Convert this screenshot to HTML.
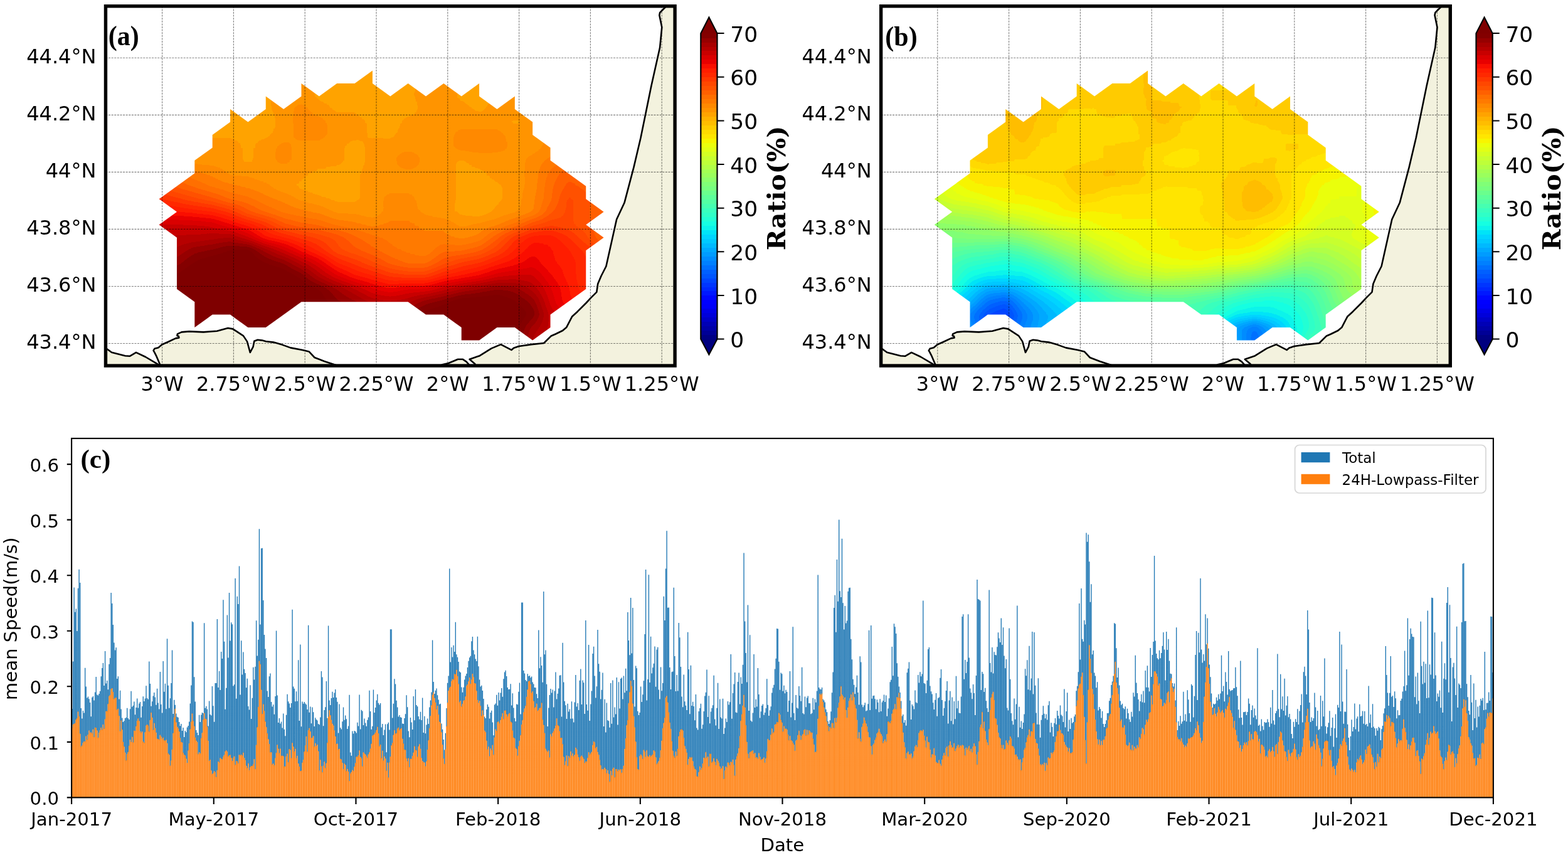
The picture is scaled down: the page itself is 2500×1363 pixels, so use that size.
<!DOCTYPE html><html><head><meta charset="utf-8"><title>Figure</title><style>html,body{margin:0;padding:0;background:#fff;width:2500px;height:1363px;overflow:hidden}svg{display:block}</style></head><body><svg xmlns="http://www.w3.org/2000/svg" width="2500" height="1363" viewBox="0 0 2500 1363"><defs><linearGradient id="vg" x1="0" y1="0" x2="0" y2="1"><stop offset="0" stop-color="#000" stop-opacity="0"/><stop offset="1" stop-color="#000" stop-opacity="1"/></linearGradient><mask id="vm" maskContentUnits="objectBoundingBox" style="mask-type:alpha"><rect width="1" height="1" fill="url(#vg)"/></mask></defs><defs><linearGradient id="ma0" gradientUnits="userSpaceOnUse" x1="225.24" x2="990.96" y1="0" y2="0"><stop offset="0" stop-color="#424242"/><stop offset="0.037" stop-color="#424242"/><stop offset="0.0741" stop-color="#414141"/><stop offset="0.1111" stop-color="#414141"/><stop offset="0.1481" stop-color="#404040"/><stop offset="0.1852" stop-color="#404040"/><stop offset="0.2222" stop-color="#404040"/><stop offset="0.2593" stop-color="#404040"/><stop offset="0.2963" stop-color="#404040"/><stop offset="0.3333" stop-color="#404040"/><stop offset="0.3704" stop-color="#3f3f3f"/><stop offset="0.4074" stop-color="#3e3e3e"/><stop offset="0.4444" stop-color="#3d3d3d"/><stop offset="0.4815" stop-color="#3c3c3c"/><stop offset="0.5185" stop-color="#3d3d3d"/><stop offset="0.5556" stop-color="#3e3e3e"/><stop offset="0.5926" stop-color="#404040"/><stop offset="0.6296" stop-color="#414141"/><stop offset="0.6667" stop-color="#414141"/><stop offset="0.7037" stop-color="#424242"/><stop offset="0.7407" stop-color="#434343"/><stop offset="0.7778" stop-color="#444444"/><stop offset="0.8148" stop-color="#454545"/><stop offset="0.8519" stop-color="#464646"/><stop offset="0.8889" stop-color="#484848"/><stop offset="0.9259" stop-color="#494949"/><stop offset="0.963" stop-color="#494949"/><stop offset="1" stop-color="#4a4a4a"/></linearGradient><linearGradient id="ma1" gradientUnits="userSpaceOnUse" x1="225.24" x2="990.96" y1="0" y2="0"><stop offset="0" stop-color="#424242"/><stop offset="0.037" stop-color="#424242"/><stop offset="0.0741" stop-color="#414141"/><stop offset="0.1111" stop-color="#414141"/><stop offset="0.1481" stop-color="#404040"/><stop offset="0.1852" stop-color="#3f3f3f"/><stop offset="0.2222" stop-color="#3f3f3f"/><stop offset="0.2593" stop-color="#404040"/><stop offset="0.2963" stop-color="#414141"/><stop offset="0.3333" stop-color="#414141"/><stop offset="0.3704" stop-color="#3f3f3f"/><stop offset="0.4074" stop-color="#3e3e3e"/><stop offset="0.4444" stop-color="#3c3c3c"/><stop offset="0.4815" stop-color="#3a3a3a"/><stop offset="0.5185" stop-color="#3d3d3d"/><stop offset="0.5556" stop-color="#3e3e3e"/><stop offset="0.5926" stop-color="#404040"/><stop offset="0.6296" stop-color="#424242"/><stop offset="0.6667" stop-color="#414141"/><stop offset="0.7037" stop-color="#414141"/><stop offset="0.7407" stop-color="#424242"/><stop offset="0.7778" stop-color="#444444"/><stop offset="0.8148" stop-color="#454545"/><stop offset="0.8519" stop-color="#474747"/><stop offset="0.8889" stop-color="#484848"/><stop offset="0.9259" stop-color="#494949"/><stop offset="0.963" stop-color="#494949"/><stop offset="1" stop-color="#4a4a4a"/></linearGradient><linearGradient id="ma2" gradientUnits="userSpaceOnUse" x1="225.24" x2="990.96" y1="0" y2="0"><stop offset="0" stop-color="#434343"/><stop offset="0.037" stop-color="#424242"/><stop offset="0.0741" stop-color="#424242"/><stop offset="0.1111" stop-color="#414141"/><stop offset="0.1481" stop-color="#3f3f3f"/><stop offset="0.1852" stop-color="#3f3f3f"/><stop offset="0.2222" stop-color="#3f3f3f"/><stop offset="0.2593" stop-color="#404040"/><stop offset="0.2963" stop-color="#424242"/><stop offset="0.3333" stop-color="#444444"/><stop offset="0.3704" stop-color="#3e3e3e"/><stop offset="0.4074" stop-color="#3e3e3e"/><stop offset="0.4444" stop-color="#3e3e3e"/><stop offset="0.4815" stop-color="#383838"/><stop offset="0.5185" stop-color="#3e3e3e"/><stop offset="0.5556" stop-color="#3e3e3e"/><stop offset="0.5926" stop-color="#424242"/><stop offset="0.6296" stop-color="#444444"/><stop offset="0.6667" stop-color="#424242"/><stop offset="0.7037" stop-color="#3e3e3e"/><stop offset="0.7407" stop-color="#424242"/><stop offset="0.7778" stop-color="#444444"/><stop offset="0.8148" stop-color="#454545"/><stop offset="0.8519" stop-color="#474747"/><stop offset="0.8889" stop-color="#484848"/><stop offset="0.9259" stop-color="#494949"/><stop offset="0.963" stop-color="#4a4a4a"/><stop offset="1" stop-color="#4b4b4b"/></linearGradient><linearGradient id="ma3" gradientUnits="userSpaceOnUse" x1="225.24" x2="990.96" y1="0" y2="0"><stop offset="0" stop-color="#444444"/><stop offset="0.037" stop-color="#434343"/><stop offset="0.0741" stop-color="#424242"/><stop offset="0.1111" stop-color="#414141"/><stop offset="0.1481" stop-color="#3f3f3f"/><stop offset="0.1852" stop-color="#3d3d3d"/><stop offset="0.2222" stop-color="#3d3d3d"/><stop offset="0.2593" stop-color="#3e3e3e"/><stop offset="0.2963" stop-color="#444444"/><stop offset="0.3333" stop-color="#444444"/><stop offset="0.3704" stop-color="#3e3e3e"/><stop offset="0.4074" stop-color="#3e3e3e"/><stop offset="0.4444" stop-color="#3e3e3e"/><stop offset="0.4815" stop-color="#383838"/><stop offset="0.5185" stop-color="#3e3e3e"/><stop offset="0.5556" stop-color="#3e3e3e"/><stop offset="0.5926" stop-color="#444444"/><stop offset="0.6296" stop-color="#444444"/><stop offset="0.6667" stop-color="#3e3e3e"/><stop offset="0.7037" stop-color="#383838"/><stop offset="0.7407" stop-color="#444444"/><stop offset="0.7778" stop-color="#444444"/><stop offset="0.8148" stop-color="#454545"/><stop offset="0.8519" stop-color="#474747"/><stop offset="0.8889" stop-color="#494949"/><stop offset="0.9259" stop-color="#4a4a4a"/><stop offset="0.963" stop-color="#4b4b4b"/><stop offset="1" stop-color="#4c4c4c"/></linearGradient><linearGradient id="ma4" gradientUnits="userSpaceOnUse" x1="225.24" x2="990.96" y1="0" y2="0"><stop offset="0" stop-color="#464646"/><stop offset="0.037" stop-color="#454545"/><stop offset="0.0741" stop-color="#434343"/><stop offset="0.1111" stop-color="#414141"/><stop offset="0.1481" stop-color="#3e3e3e"/><stop offset="0.1852" stop-color="#3a3a3a"/><stop offset="0.2222" stop-color="#3a3a3a"/><stop offset="0.2593" stop-color="#3e3e3e"/><stop offset="0.2963" stop-color="#444444"/><stop offset="0.3333" stop-color="#4b4b4b"/><stop offset="0.3704" stop-color="#444444"/><stop offset="0.4074" stop-color="#3e3e3e"/><stop offset="0.4444" stop-color="#3e3e3e"/><stop offset="0.4815" stop-color="#3a3a3a"/><stop offset="0.5185" stop-color="#3a3a3a"/><stop offset="0.5556" stop-color="#3a3a3a"/><stop offset="0.5926" stop-color="#444444"/><stop offset="0.6296" stop-color="#444444"/><stop offset="0.6667" stop-color="#444444"/><stop offset="0.7037" stop-color="#3e3e3e"/><stop offset="0.7407" stop-color="#444444"/><stop offset="0.7778" stop-color="#444444"/><stop offset="0.8148" stop-color="#454545"/><stop offset="0.8519" stop-color="#484848"/><stop offset="0.8889" stop-color="#4a4a4a"/><stop offset="0.9259" stop-color="#4c4c4c"/><stop offset="0.963" stop-color="#4d4d4d"/><stop offset="1" stop-color="#4d4d4d"/></linearGradient><linearGradient id="ma5" gradientUnits="userSpaceOnUse" x1="225.24" x2="990.96" y1="0" y2="0"><stop offset="0" stop-color="#484848"/><stop offset="0.037" stop-color="#474747"/><stop offset="0.0741" stop-color="#454545"/><stop offset="0.1111" stop-color="#424242"/><stop offset="0.1481" stop-color="#3e3e3e"/><stop offset="0.1852" stop-color="#3e3e3e"/><stop offset="0.2222" stop-color="#3a3a3a"/><stop offset="0.2593" stop-color="#3a3a3a"/><stop offset="0.2963" stop-color="#444444"/><stop offset="0.3333" stop-color="#4b4b4b"/><stop offset="0.3704" stop-color="#4b4b4b"/><stop offset="0.4074" stop-color="#444444"/><stop offset="0.4444" stop-color="#444444"/><stop offset="0.4815" stop-color="#3e3e3e"/><stop offset="0.5185" stop-color="#3a3a3a"/><stop offset="0.5556" stop-color="#444444"/><stop offset="0.5926" stop-color="#444444"/><stop offset="0.6296" stop-color="#444444"/><stop offset="0.6667" stop-color="#444444"/><stop offset="0.7037" stop-color="#444444"/><stop offset="0.7407" stop-color="#444444"/><stop offset="0.7778" stop-color="#3e3e3e"/><stop offset="0.8148" stop-color="#444444"/><stop offset="0.8519" stop-color="#484848"/><stop offset="0.8889" stop-color="#4b4b4b"/><stop offset="0.9259" stop-color="#4d4d4d"/><stop offset="0.963" stop-color="#4f4f4f"/><stop offset="1" stop-color="#4f4f4f"/></linearGradient><linearGradient id="ma6" gradientUnits="userSpaceOnUse" x1="225.24" x2="990.96" y1="0" y2="0"><stop offset="0" stop-color="#4c4c4c"/><stop offset="0.037" stop-color="#4a4a4a"/><stop offset="0.0741" stop-color="#474747"/><stop offset="0.1111" stop-color="#434343"/><stop offset="0.1481" stop-color="#3e3e3e"/><stop offset="0.1852" stop-color="#3e3e3e"/><stop offset="0.2222" stop-color="#3e3e3e"/><stop offset="0.2593" stop-color="#3e3e3e"/><stop offset="0.2963" stop-color="#444444"/><stop offset="0.3333" stop-color="#4b4b4b"/><stop offset="0.3704" stop-color="#4b4b4b"/><stop offset="0.4074" stop-color="#444444"/><stop offset="0.4444" stop-color="#444444"/><stop offset="0.4815" stop-color="#3e3e3e"/><stop offset="0.5185" stop-color="#3e3e3e"/><stop offset="0.5556" stop-color="#444444"/><stop offset="0.5926" stop-color="#444444"/><stop offset="0.6296" stop-color="#444444"/><stop offset="0.6667" stop-color="#4b4b4b"/><stop offset="0.7037" stop-color="#4b4b4b"/><stop offset="0.7407" stop-color="#4b4b4b"/><stop offset="0.7778" stop-color="#444444"/><stop offset="0.8148" stop-color="#444444"/><stop offset="0.8519" stop-color="#494949"/><stop offset="0.8889" stop-color="#4e4e4e"/><stop offset="0.9259" stop-color="#505050"/><stop offset="0.963" stop-color="#525252"/><stop offset="1" stop-color="#525252"/></linearGradient><linearGradient id="ma7" gradientUnits="userSpaceOnUse" x1="225.24" x2="990.96" y1="0" y2="0"><stop offset="0" stop-color="#515151"/><stop offset="0.037" stop-color="#4f4f4f"/><stop offset="0.0741" stop-color="#4b4b4b"/><stop offset="0.1111" stop-color="#464646"/><stop offset="0.1481" stop-color="#444444"/><stop offset="0.1852" stop-color="#444444"/><stop offset="0.2222" stop-color="#3e3e3e"/><stop offset="0.2593" stop-color="#444444"/><stop offset="0.2963" stop-color="#4b4b4b"/><stop offset="0.3333" stop-color="#444444"/><stop offset="0.3704" stop-color="#444444"/><stop offset="0.4074" stop-color="#444444"/><stop offset="0.4444" stop-color="#3a3a3a"/><stop offset="0.4815" stop-color="#444444"/><stop offset="0.5185" stop-color="#444444"/><stop offset="0.5556" stop-color="#444444"/><stop offset="0.5926" stop-color="#444444"/><stop offset="0.6296" stop-color="#444444"/><stop offset="0.6667" stop-color="#4b4b4b"/><stop offset="0.7037" stop-color="#4b4b4b"/><stop offset="0.7407" stop-color="#4e4e4e"/><stop offset="0.7778" stop-color="#444444"/><stop offset="0.8148" stop-color="#444444"/><stop offset="0.8519" stop-color="#4b4b4b"/><stop offset="0.8889" stop-color="#515151"/><stop offset="0.9259" stop-color="#545454"/><stop offset="0.963" stop-color="#555555"/><stop offset="1" stop-color="#565656"/></linearGradient><linearGradient id="ma8" gradientUnits="userSpaceOnUse" x1="225.24" x2="990.96" y1="0" y2="0"><stop offset="0" stop-color="#595959"/><stop offset="0.037" stop-color="#565656"/><stop offset="0.0741" stop-color="#505050"/><stop offset="0.1111" stop-color="#444444"/><stop offset="0.1481" stop-color="#444444"/><stop offset="0.1852" stop-color="#444444"/><stop offset="0.2222" stop-color="#3e3e3e"/><stop offset="0.2593" stop-color="#444444"/><stop offset="0.2963" stop-color="#4b4b4b"/><stop offset="0.3333" stop-color="#444444"/><stop offset="0.3704" stop-color="#444444"/><stop offset="0.4074" stop-color="#444444"/><stop offset="0.4444" stop-color="#3a3a3a"/><stop offset="0.4815" stop-color="#444444"/><stop offset="0.5185" stop-color="#444444"/><stop offset="0.5556" stop-color="#525252"/><stop offset="0.5926" stop-color="#444444"/><stop offset="0.6296" stop-color="#444444"/><stop offset="0.6667" stop-color="#3e3e3e"/><stop offset="0.7037" stop-color="#444444"/><stop offset="0.7407" stop-color="#3e3e3e"/><stop offset="0.7778" stop-color="#444444"/><stop offset="0.8148" stop-color="#4b4b4b"/><stop offset="0.8519" stop-color="#525252"/><stop offset="0.8889" stop-color="#595959"/><stop offset="0.9259" stop-color="#5a5a5a"/><stop offset="0.963" stop-color="#5a5a5a"/><stop offset="1" stop-color="#5a5a5a"/></linearGradient><linearGradient id="ma9" gradientUnits="userSpaceOnUse" x1="225.24" x2="990.96" y1="0" y2="0"><stop offset="0" stop-color="#646464"/><stop offset="0.037" stop-color="#606060"/><stop offset="0.0741" stop-color="#5a5a5a"/><stop offset="0.1111" stop-color="#525252"/><stop offset="0.1481" stop-color="#4e4e4e"/><stop offset="0.1852" stop-color="#464646"/><stop offset="0.2222" stop-color="#464646"/><stop offset="0.2593" stop-color="#424242"/><stop offset="0.2963" stop-color="#424242"/><stop offset="0.3333" stop-color="#424242"/><stop offset="0.3704" stop-color="#3e3e3e"/><stop offset="0.4074" stop-color="#3a3a3a"/><stop offset="0.4444" stop-color="#3e3e3e"/><stop offset="0.4815" stop-color="#444444"/><stop offset="0.5185" stop-color="#444444"/><stop offset="0.5556" stop-color="#444444"/><stop offset="0.5926" stop-color="#444444"/><stop offset="0.6296" stop-color="#444444"/><stop offset="0.6667" stop-color="#3e3e3e"/><stop offset="0.7037" stop-color="#3e3e3e"/><stop offset="0.7407" stop-color="#444444"/><stop offset="0.7778" stop-color="#444444"/><stop offset="0.8148" stop-color="#4b4b4b"/><stop offset="0.8519" stop-color="#5a5a5a"/><stop offset="0.8889" stop-color="#666666"/><stop offset="0.9259" stop-color="#616161"/><stop offset="0.963" stop-color="#5e5e5e"/><stop offset="1" stop-color="#5d5d5d"/></linearGradient><linearGradient id="ma10" gradientUnits="userSpaceOnUse" x1="225.24" x2="990.96" y1="0" y2="0"><stop offset="0" stop-color="#717171"/><stop offset="0.037" stop-color="#6e6e6e"/><stop offset="0.0741" stop-color="#666666"/><stop offset="0.1111" stop-color="#5e5e5e"/><stop offset="0.1481" stop-color="#565656"/><stop offset="0.1852" stop-color="#525252"/><stop offset="0.2222" stop-color="#4e4e4e"/><stop offset="0.2593" stop-color="#4a4a4a"/><stop offset="0.2963" stop-color="#424242"/><stop offset="0.3333" stop-color="#3e3e3e"/><stop offset="0.3704" stop-color="#3a3a3a"/><stop offset="0.4074" stop-color="#3a3a3a"/><stop offset="0.4444" stop-color="#3e3e3e"/><stop offset="0.4815" stop-color="#444444"/><stop offset="0.5185" stop-color="#444444"/><stop offset="0.5556" stop-color="#444444"/><stop offset="0.5926" stop-color="#444444"/><stop offset="0.6296" stop-color="#444444"/><stop offset="0.6667" stop-color="#3e3e3e"/><stop offset="0.7037" stop-color="#3a3a3a"/><stop offset="0.7407" stop-color="#3e3e3e"/><stop offset="0.7778" stop-color="#444444"/><stop offset="0.8148" stop-color="#4b4b4b"/><stop offset="0.8519" stop-color="#5e5e5e"/><stop offset="0.8889" stop-color="#6a6a6a"/><stop offset="0.9259" stop-color="#666666"/><stop offset="0.963" stop-color="#626262"/><stop offset="1" stop-color="#606060"/></linearGradient><linearGradient id="ma11" gradientUnits="userSpaceOnUse" x1="225.24" x2="990.96" y1="0" y2="0"><stop offset="0" stop-color="#828282"/><stop offset="0.037" stop-color="#818181"/><stop offset="0.0741" stop-color="#7a7a7a"/><stop offset="0.1111" stop-color="#727272"/><stop offset="0.1481" stop-color="#6a6a6a"/><stop offset="0.1852" stop-color="#5e5e5e"/><stop offset="0.2222" stop-color="#5a5a5a"/><stop offset="0.2593" stop-color="#525252"/><stop offset="0.2963" stop-color="#4e4e4e"/><stop offset="0.3333" stop-color="#464646"/><stop offset="0.3704" stop-color="#424242"/><stop offset="0.4074" stop-color="#3e3e3e"/><stop offset="0.4444" stop-color="#3e3e3e"/><stop offset="0.4815" stop-color="#444444"/><stop offset="0.5185" stop-color="#4b4b4b"/><stop offset="0.5556" stop-color="#4b4b4b"/><stop offset="0.5926" stop-color="#444444"/><stop offset="0.6296" stop-color="#444444"/><stop offset="0.6667" stop-color="#3e3e3e"/><stop offset="0.7037" stop-color="#3a3a3a"/><stop offset="0.7407" stop-color="#3e3e3e"/><stop offset="0.7778" stop-color="#444444"/><stop offset="0.8148" stop-color="#4e4e4e"/><stop offset="0.8519" stop-color="#5e5e5e"/><stop offset="0.8889" stop-color="#727272"/><stop offset="0.9259" stop-color="#6a6a6a"/><stop offset="0.963" stop-color="#626262"/><stop offset="1" stop-color="#616161"/></linearGradient><linearGradient id="ma12" gradientUnits="userSpaceOnUse" x1="225.24" x2="990.96" y1="0" y2="0"><stop offset="0" stop-color="#939393"/><stop offset="0.037" stop-color="#949494"/><stop offset="0.0741" stop-color="#919191"/><stop offset="0.1111" stop-color="#8d8d8d"/><stop offset="0.1481" stop-color="#898989"/><stop offset="0.1852" stop-color="#7e7e7e"/><stop offset="0.2222" stop-color="#6a6a6a"/><stop offset="0.2593" stop-color="#5e5e5e"/><stop offset="0.2963" stop-color="#565656"/><stop offset="0.3333" stop-color="#525252"/><stop offset="0.3704" stop-color="#4e4e4e"/><stop offset="0.4074" stop-color="#464646"/><stop offset="0.4444" stop-color="#464646"/><stop offset="0.4815" stop-color="#424242"/><stop offset="0.5185" stop-color="#4b4b4b"/><stop offset="0.5556" stop-color="#4b4b4b"/><stop offset="0.5926" stop-color="#464646"/><stop offset="0.6296" stop-color="#424242"/><stop offset="0.6667" stop-color="#3e3e3e"/><stop offset="0.7037" stop-color="#3a3a3a"/><stop offset="0.7407" stop-color="#424242"/><stop offset="0.7778" stop-color="#464646"/><stop offset="0.8148" stop-color="#4e4e4e"/><stop offset="0.8519" stop-color="#666666"/><stop offset="0.8889" stop-color="#727272"/><stop offset="0.9259" stop-color="#6a6a6a"/><stop offset="0.963" stop-color="#5e5e5e"/><stop offset="1" stop-color="#606060"/></linearGradient><linearGradient id="ma13" gradientUnits="userSpaceOnUse" x1="225.24" x2="990.96" y1="0" y2="0"><stop offset="0" stop-color="#a4a4a4"/><stop offset="0.037" stop-color="#a9a9a9"/><stop offset="0.0741" stop-color="#a9a9a9"/><stop offset="0.1111" stop-color="#a9a9a9"/><stop offset="0.1481" stop-color="#a5a5a5"/><stop offset="0.1852" stop-color="#999999"/><stop offset="0.2222" stop-color="#8d8d8d"/><stop offset="0.2593" stop-color="#7e7e7e"/><stop offset="0.2963" stop-color="#6a6a6a"/><stop offset="0.3333" stop-color="#626262"/><stop offset="0.3704" stop-color="#5e5e5e"/><stop offset="0.4074" stop-color="#565656"/><stop offset="0.4444" stop-color="#525252"/><stop offset="0.4815" stop-color="#4e4e4e"/><stop offset="0.5185" stop-color="#525252"/><stop offset="0.5556" stop-color="#525252"/><stop offset="0.5926" stop-color="#4e4e4e"/><stop offset="0.6296" stop-color="#4e4e4e"/><stop offset="0.6667" stop-color="#464646"/><stop offset="0.7037" stop-color="#4a4a4a"/><stop offset="0.7407" stop-color="#4e4e4e"/><stop offset="0.7778" stop-color="#5a5a5a"/><stop offset="0.8148" stop-color="#6e6e6e"/><stop offset="0.8519" stop-color="#767676"/><stop offset="0.8889" stop-color="#727272"/><stop offset="0.9259" stop-color="#6a6a6a"/><stop offset="0.963" stop-color="#626262"/><stop offset="1" stop-color="#636363"/></linearGradient><linearGradient id="ma14" gradientUnits="userSpaceOnUse" x1="225.24" x2="990.96" y1="0" y2="0"><stop offset="0" stop-color="#b0b0b0"/><stop offset="0.037" stop-color="#b1b1b1"/><stop offset="0.0741" stop-color="#b1b1b1"/><stop offset="0.1111" stop-color="#b1b1b1"/><stop offset="0.1481" stop-color="#b5b5b5"/><stop offset="0.1852" stop-color="#b9b9b9"/><stop offset="0.2222" stop-color="#a9a9a9"/><stop offset="0.2593" stop-color="#919191"/><stop offset="0.2963" stop-color="#898989"/><stop offset="0.3333" stop-color="#7e7e7e"/><stop offset="0.3704" stop-color="#767676"/><stop offset="0.4074" stop-color="#6e6e6e"/><stop offset="0.4444" stop-color="#626262"/><stop offset="0.4815" stop-color="#5a5a5a"/><stop offset="0.5185" stop-color="#565656"/><stop offset="0.5556" stop-color="#525252"/><stop offset="0.5926" stop-color="#525252"/><stop offset="0.6296" stop-color="#525252"/><stop offset="0.6667" stop-color="#4e4e4e"/><stop offset="0.7037" stop-color="#525252"/><stop offset="0.7407" stop-color="#666666"/><stop offset="0.7778" stop-color="#7e7e7e"/><stop offset="0.8148" stop-color="#8d8d8d"/><stop offset="0.8519" stop-color="#8d8d8d"/><stop offset="0.8889" stop-color="#818181"/><stop offset="0.9259" stop-color="#727272"/><stop offset="0.963" stop-color="#5e5e5e"/><stop offset="1" stop-color="#656565"/></linearGradient><linearGradient id="ma15" gradientUnits="userSpaceOnUse" x1="225.24" x2="990.96" y1="0" y2="0"><stop offset="0" stop-color="#bababa"/><stop offset="0.037" stop-color="#bababa"/><stop offset="0.0741" stop-color="#b9b9b9"/><stop offset="0.1111" stop-color="#c5c5c5"/><stop offset="0.1481" stop-color="#c9c9c9"/><stop offset="0.1852" stop-color="#d1d1d1"/><stop offset="0.2222" stop-color="#d5d5d5"/><stop offset="0.2593" stop-color="#bdbdbd"/><stop offset="0.2963" stop-color="#a9a9a9"/><stop offset="0.3333" stop-color="#959595"/><stop offset="0.3704" stop-color="#858585"/><stop offset="0.4074" stop-color="#727272"/><stop offset="0.4444" stop-color="#6a6a6a"/><stop offset="0.4815" stop-color="#626262"/><stop offset="0.5185" stop-color="#5a5a5a"/><stop offset="0.5556" stop-color="#565656"/><stop offset="0.5926" stop-color="#525252"/><stop offset="0.6296" stop-color="#5e5e5e"/><stop offset="0.6667" stop-color="#5e5e5e"/><stop offset="0.7037" stop-color="#666666"/><stop offset="0.7407" stop-color="#767676"/><stop offset="0.7778" stop-color="#898989"/><stop offset="0.8148" stop-color="#959595"/><stop offset="0.8519" stop-color="#919191"/><stop offset="0.8889" stop-color="#898989"/><stop offset="0.9259" stop-color="#7e7e7e"/><stop offset="0.963" stop-color="#727272"/><stop offset="1" stop-color="#707070"/></linearGradient><linearGradient id="ma16" gradientUnits="userSpaceOnUse" x1="225.24" x2="990.96" y1="0" y2="0"><stop offset="0" stop-color="#c4c4c4"/><stop offset="0.037" stop-color="#c5c5c5"/><stop offset="0.0741" stop-color="#c5c5c5"/><stop offset="0.1111" stop-color="#d1d1d1"/><stop offset="0.1481" stop-color="#d9d9d9"/><stop offset="0.1852" stop-color="#d9d9d9"/><stop offset="0.2222" stop-color="#d9d9d9"/><stop offset="0.2593" stop-color="#d1d1d1"/><stop offset="0.2963" stop-color="#c9c9c9"/><stop offset="0.3333" stop-color="#b5b5b5"/><stop offset="0.3704" stop-color="#a1a1a1"/><stop offset="0.4074" stop-color="#898989"/><stop offset="0.4444" stop-color="#7e7e7e"/><stop offset="0.4815" stop-color="#727272"/><stop offset="0.5185" stop-color="#666666"/><stop offset="0.5556" stop-color="#5e5e5e"/><stop offset="0.5926" stop-color="#5e5e5e"/><stop offset="0.6296" stop-color="#6e6e6e"/><stop offset="0.6667" stop-color="#7a7a7a"/><stop offset="0.7037" stop-color="#818181"/><stop offset="0.7407" stop-color="#8d8d8d"/><stop offset="0.7778" stop-color="#959595"/><stop offset="0.8148" stop-color="#9d9d9d"/><stop offset="0.8519" stop-color="#919191"/><stop offset="0.8889" stop-color="#8d8d8d"/><stop offset="0.9259" stop-color="#818181"/><stop offset="0.963" stop-color="#7b7b7b"/><stop offset="1" stop-color="#797979"/></linearGradient><linearGradient id="ma17" gradientUnits="userSpaceOnUse" x1="225.24" x2="990.96" y1="0" y2="0"><stop offset="0" stop-color="#cdcdcd"/><stop offset="0.037" stop-color="#cfcfcf"/><stop offset="0.0741" stop-color="#d1d1d1"/><stop offset="0.1111" stop-color="#dddddd"/><stop offset="0.1481" stop-color="#dddddd"/><stop offset="0.1852" stop-color="#dddddd"/><stop offset="0.2222" stop-color="#dddddd"/><stop offset="0.2593" stop-color="#dddddd"/><stop offset="0.2963" stop-color="#d9d9d9"/><stop offset="0.3333" stop-color="#cdcdcd"/><stop offset="0.3704" stop-color="#b5b5b5"/><stop offset="0.4074" stop-color="#a1a1a1"/><stop offset="0.4444" stop-color="#919191"/><stop offset="0.4815" stop-color="#898989"/><stop offset="0.5185" stop-color="#7e7e7e"/><stop offset="0.5556" stop-color="#7a7a7a"/><stop offset="0.5926" stop-color="#7a7a7a"/><stop offset="0.6296" stop-color="#898989"/><stop offset="0.6667" stop-color="#919191"/><stop offset="0.7037" stop-color="#999999"/><stop offset="0.7407" stop-color="#a5a5a5"/><stop offset="0.7778" stop-color="#a9a9a9"/><stop offset="0.8148" stop-color="#a9a9a9"/><stop offset="0.8519" stop-color="#999999"/><stop offset="0.8889" stop-color="#8d8d8d"/><stop offset="0.9259" stop-color="#818181"/><stop offset="0.963" stop-color="#808080"/><stop offset="1" stop-color="#808080"/></linearGradient><linearGradient id="ma18" gradientUnits="userSpaceOnUse" x1="225.24" x2="990.96" y1="0" y2="0"><stop offset="0" stop-color="#d5d5d5"/><stop offset="0.037" stop-color="#d8d8d8"/><stop offset="0.0741" stop-color="#e1e1e1"/><stop offset="0.1111" stop-color="#e1e1e1"/><stop offset="0.1481" stop-color="#e1e1e1"/><stop offset="0.1852" stop-color="#e1e1e1"/><stop offset="0.2222" stop-color="#e1e1e1"/><stop offset="0.2593" stop-color="#e1e1e1"/><stop offset="0.2963" stop-color="#e1e1e1"/><stop offset="0.3333" stop-color="#d9d9d9"/><stop offset="0.3704" stop-color="#d1d1d1"/><stop offset="0.4074" stop-color="#c1c1c1"/><stop offset="0.4444" stop-color="#b1b1b1"/><stop offset="0.4815" stop-color="#a1a1a1"/><stop offset="0.5185" stop-color="#999999"/><stop offset="0.5556" stop-color="#a1a1a1"/><stop offset="0.5926" stop-color="#a1a1a1"/><stop offset="0.6296" stop-color="#adadad"/><stop offset="0.6667" stop-color="#b9b9b9"/><stop offset="0.7037" stop-color="#c1c1c1"/><stop offset="0.7407" stop-color="#c9c9c9"/><stop offset="0.7778" stop-color="#c5c5c5"/><stop offset="0.8148" stop-color="#b5b5b5"/><stop offset="0.8519" stop-color="#a1a1a1"/><stop offset="0.8889" stop-color="#919191"/><stop offset="0.9259" stop-color="#818181"/><stop offset="0.963" stop-color="#858585"/><stop offset="1" stop-color="#868686"/></linearGradient><linearGradient id="ma19" gradientUnits="userSpaceOnUse" x1="225.24" x2="990.96" y1="0" y2="0"><stop offset="0" stop-color="#dadada"/><stop offset="0.037" stop-color="#dcdcdc"/><stop offset="0.0741" stop-color="#dfdfdf"/><stop offset="0.1111" stop-color="#e1e1e1"/><stop offset="0.1481" stop-color="#e1e1e1"/><stop offset="0.1852" stop-color="#e1e1e1"/><stop offset="0.2222" stop-color="#e1e1e1"/><stop offset="0.2593" stop-color="#e1e1e1"/><stop offset="0.2963" stop-color="#e1e1e1"/><stop offset="0.3333" stop-color="#d9d9d9"/><stop offset="0.3704" stop-color="#d5d5d5"/><stop offset="0.4074" stop-color="#c9c9c9"/><stop offset="0.4444" stop-color="#c1c1c1"/><stop offset="0.4815" stop-color="#b5b5b5"/><stop offset="0.5185" stop-color="#b1b1b1"/><stop offset="0.5556" stop-color="#b5b5b5"/><stop offset="0.5926" stop-color="#c5c5c5"/><stop offset="0.6296" stop-color="#cdcdcd"/><stop offset="0.6667" stop-color="#d9d9d9"/><stop offset="0.7037" stop-color="#d9d9d9"/><stop offset="0.7407" stop-color="#d9d9d9"/><stop offset="0.7778" stop-color="#d1d1d1"/><stop offset="0.8148" stop-color="#c5c5c5"/><stop offset="0.8519" stop-color="#a5a5a5"/><stop offset="0.8889" stop-color="#919191"/><stop offset="0.9259" stop-color="#8e8e8e"/><stop offset="0.963" stop-color="#8d8d8d"/><stop offset="1" stop-color="#8d8d8d"/></linearGradient><linearGradient id="ma20" gradientUnits="userSpaceOnUse" x1="225.24" x2="990.96" y1="0" y2="0"><stop offset="0" stop-color="#dcdcdc"/><stop offset="0.037" stop-color="#dddddd"/><stop offset="0.0741" stop-color="#dfdfdf"/><stop offset="0.1111" stop-color="#e1e1e1"/><stop offset="0.1481" stop-color="#e1e1e1"/><stop offset="0.1852" stop-color="#e1e1e1"/><stop offset="0.2222" stop-color="#e1e1e1"/><stop offset="0.2593" stop-color="#e1e1e1"/><stop offset="0.2963" stop-color="#e1e1e1"/><stop offset="0.3333" stop-color="#e1e1e1"/><stop offset="0.3704" stop-color="#e1e1e1"/><stop offset="0.4074" stop-color="#d9d9d9"/><stop offset="0.4444" stop-color="#d1d1d1"/><stop offset="0.4815" stop-color="#c9c9c9"/><stop offset="0.5185" stop-color="#c9c9c9"/><stop offset="0.5556" stop-color="#cdcdcd"/><stop offset="0.5926" stop-color="#d5d5d5"/><stop offset="0.6296" stop-color="#d9d9d9"/><stop offset="0.6667" stop-color="#dddddd"/><stop offset="0.7037" stop-color="#e1e1e1"/><stop offset="0.7407" stop-color="#dddddd"/><stop offset="0.7778" stop-color="#d9d9d9"/><stop offset="0.8148" stop-color="#cdcdcd"/><stop offset="0.8519" stop-color="#adadad"/><stop offset="0.8889" stop-color="#9f9f9f"/><stop offset="0.9259" stop-color="#989898"/><stop offset="0.963" stop-color="#959595"/><stop offset="1" stop-color="#949494"/></linearGradient><linearGradient id="ma21" gradientUnits="userSpaceOnUse" x1="225.24" x2="990.96" y1="0" y2="0"><stop offset="0" stop-color="#dedede"/><stop offset="0.037" stop-color="#dedede"/><stop offset="0.0741" stop-color="#e0e0e0"/><stop offset="0.1111" stop-color="#e1e1e1"/><stop offset="0.1481" stop-color="#e1e1e1"/><stop offset="0.1852" stop-color="#e1e1e1"/><stop offset="0.2222" stop-color="#e1e1e1"/><stop offset="0.2593" stop-color="#e1e1e1"/><stop offset="0.2963" stop-color="#e1e1e1"/><stop offset="0.3333" stop-color="#e1e1e1"/><stop offset="0.3704" stop-color="#e1e1e1"/><stop offset="0.4074" stop-color="#d9d9d9"/><stop offset="0.4444" stop-color="#d1d1d1"/><stop offset="0.4815" stop-color="#cdcdcd"/><stop offset="0.5185" stop-color="#cdcdcd"/><stop offset="0.5556" stop-color="#d1d1d1"/><stop offset="0.5926" stop-color="#d9d9d9"/><stop offset="0.6296" stop-color="#dddddd"/><stop offset="0.6667" stop-color="#e1e1e1"/><stop offset="0.7037" stop-color="#e1e1e1"/><stop offset="0.7407" stop-color="#d9d9d9"/><stop offset="0.7778" stop-color="#d5d5d5"/><stop offset="0.8148" stop-color="#bdbdbd"/><stop offset="0.8519" stop-color="#adadad"/><stop offset="0.8889" stop-color="#a5a5a5"/><stop offset="0.9259" stop-color="#9f9f9f"/><stop offset="0.963" stop-color="#9b9b9b"/><stop offset="1" stop-color="#999999"/></linearGradient><linearGradient id="ma22" gradientUnits="userSpaceOnUse" x1="225.24" x2="990.96" y1="0" y2="0"><stop offset="0" stop-color="#dedede"/><stop offset="0.037" stop-color="#dfdfdf"/><stop offset="0.0741" stop-color="#e0e0e0"/><stop offset="0.1111" stop-color="#e0e0e0"/><stop offset="0.1481" stop-color="#e1e1e1"/><stop offset="0.1852" stop-color="#e1e1e1"/><stop offset="0.2222" stop-color="#e1e1e1"/><stop offset="0.2593" stop-color="#e1e1e1"/><stop offset="0.2963" stop-color="#e0e0e0"/><stop offset="0.3333" stop-color="#dfdfdf"/><stop offset="0.3704" stop-color="#dddddd"/><stop offset="0.4074" stop-color="#d9d9d9"/><stop offset="0.4444" stop-color="#d4d4d4"/><stop offset="0.4815" stop-color="#d2d2d2"/><stop offset="0.5185" stop-color="#d2d2d2"/><stop offset="0.5556" stop-color="#d4d4d4"/><stop offset="0.5926" stop-color="#d9d9d9"/><stop offset="0.6296" stop-color="#dddddd"/><stop offset="0.6667" stop-color="#e1e1e1"/><stop offset="0.7037" stop-color="#dddddd"/><stop offset="0.7407" stop-color="#d9d9d9"/><stop offset="0.7778" stop-color="#d5d5d5"/><stop offset="0.8148" stop-color="#b5b5b5"/><stop offset="0.8519" stop-color="#afafaf"/><stop offset="0.8889" stop-color="#a8a8a8"/><stop offset="0.9259" stop-color="#a2a2a2"/><stop offset="0.963" stop-color="#9f9f9f"/><stop offset="1" stop-color="#9d9d9d"/></linearGradient><linearGradient id="ma23" gradientUnits="userSpaceOnUse" x1="225.24" x2="990.96" y1="0" y2="0"><stop offset="0" stop-color="#dfdfdf"/><stop offset="0.037" stop-color="#dfdfdf"/><stop offset="0.0741" stop-color="#e0e0e0"/><stop offset="0.1111" stop-color="#e0e0e0"/><stop offset="0.1481" stop-color="#e1e1e1"/><stop offset="0.1852" stop-color="#e1e1e1"/><stop offset="0.2222" stop-color="#e1e1e1"/><stop offset="0.2593" stop-color="#e0e0e0"/><stop offset="0.2963" stop-color="#e0e0e0"/><stop offset="0.3333" stop-color="#dedede"/><stop offset="0.3704" stop-color="#dcdcdc"/><stop offset="0.4074" stop-color="#d9d9d9"/><stop offset="0.4444" stop-color="#d6d6d6"/><stop offset="0.4815" stop-color="#d4d4d4"/><stop offset="0.5185" stop-color="#d4d4d4"/><stop offset="0.5556" stop-color="#d5d5d5"/><stop offset="0.5926" stop-color="#d8d8d8"/><stop offset="0.6296" stop-color="#dbdbdb"/><stop offset="0.6667" stop-color="#dddddd"/><stop offset="0.7037" stop-color="#dbdbdb"/><stop offset="0.7407" stop-color="#d6d6d6"/><stop offset="0.7778" stop-color="#cdcdcd"/><stop offset="0.8148" stop-color="#bcbcbc"/><stop offset="0.8519" stop-color="#b2b2b2"/><stop offset="0.8889" stop-color="#aaaaaa"/><stop offset="0.9259" stop-color="#a4a4a4"/><stop offset="0.963" stop-color="#a1a1a1"/><stop offset="1" stop-color="#9f9f9f"/></linearGradient><filter id="maf" filterUnits="userSpaceOnUse" x="225.24" y="92.02" width="765.72" height="471.04" color-interpolation-filters="sRGB"><feGaussianBlur stdDeviation="4.5 4.5"/><feComponentTransfer><feFuncR type="discrete" tableValues="0.9203 0.9709 1 1 1 1 1 1 1 1 1 1 1 1 1 1 1 1 0.9813 0.91 0.8565 0.7852 0.7139 0.6604 0.5891 0.5178 0.5 0.5 0.5 0.5 0.5 0.5"/><feFuncG type="discrete" tableValues="1 0.9593 0.9012 0.8577 0.7996 0.7415 0.6979 0.6398 0.5817 0.5381 0.48 0.4365 0.3784 0.3203 0.2767 0.2186 0.1605 0.1169 0.0588 0.0007 0 0 0 0 0 0 0 0 0 0 0 0"/><feFuncB type="discrete" tableValues="0.0474 0 0 0 0 0 0 0 0 0 0 0 0 0 0 0 0 0 0 0 0 0 0 0 0 0 0 0 0 0 0 0"/><feFuncA type="discrete" tableValues="1"/></feComponentTransfer></filter><clipPath id="mac"><polygon points="253.6,317.3 310.32,276.34 310.32,255.86 338.68,235.38 338.68,214.9 367.04,194.42 367.04,173.94 395.4,194.42 423.76,173.94 423.76,153.46 452.12,173.94 480.48,153.46 480.48,132.98 508.84,153.46 537.2,132.98 565.56,132.98 593.92,112.5 593.92,132.98 622.28,153.46 650.64,132.98 679,153.46 707.36,132.98 735.72,153.46 764.08,132.98 764.08,153.46 792.44,173.94 820.8,153.46 820.8,173.94 849.16,194.42 849.16,214.9 877.52,235.38 877.52,255.86 934.24,296.82 934.24,317.3 962.6,337.78 934.24,358.26 962.6,378.74 934.24,399.22 934.24,460.66 877.52,501.62 877.52,522.1 849.16,542.58 820.8,522.1 792.44,522.1 764.08,542.58 735.72,542.58 735.72,522.1 707.36,501.62 679,501.62 650.64,481.14 480.48,481.14 423.76,522.1 395.4,522.1 367.04,501.62 338.68,501.62 310.32,522.1 310.32,481.14 281.96,460.66 281.96,378.74 253.6,358.26 281.96,337.78"/></clipPath></defs><g clip-path="url(#mac)"><g filter="url(#maf)"><rect x="225.24" y="91.62" width="765.72" height="21.28" fill="url(#ma0)"/><rect x="225.24" y="92.02" width="765.72" height="20.48" fill="url(#ma1)" mask="url(#vm)"/><rect x="225.24" y="112.1" width="765.72" height="21.28" fill="url(#ma1)"/><rect x="225.24" y="112.5" width="765.72" height="20.48" fill="url(#ma2)" mask="url(#vm)"/><rect x="225.24" y="132.58" width="765.72" height="21.28" fill="url(#ma2)"/><rect x="225.24" y="132.98" width="765.72" height="20.48" fill="url(#ma3)" mask="url(#vm)"/><rect x="225.24" y="153.06" width="765.72" height="21.28" fill="url(#ma3)"/><rect x="225.24" y="153.46" width="765.72" height="20.48" fill="url(#ma4)" mask="url(#vm)"/><rect x="225.24" y="173.54" width="765.72" height="21.28" fill="url(#ma4)"/><rect x="225.24" y="173.94" width="765.72" height="20.48" fill="url(#ma5)" mask="url(#vm)"/><rect x="225.24" y="194.02" width="765.72" height="21.28" fill="url(#ma5)"/><rect x="225.24" y="194.42" width="765.72" height="20.48" fill="url(#ma6)" mask="url(#vm)"/><rect x="225.24" y="214.5" width="765.72" height="21.28" fill="url(#ma6)"/><rect x="225.24" y="214.9" width="765.72" height="20.48" fill="url(#ma7)" mask="url(#vm)"/><rect x="225.24" y="234.98" width="765.72" height="21.28" fill="url(#ma7)"/><rect x="225.24" y="235.38" width="765.72" height="20.48" fill="url(#ma8)" mask="url(#vm)"/><rect x="225.24" y="255.46" width="765.72" height="21.28" fill="url(#ma8)"/><rect x="225.24" y="255.86" width="765.72" height="20.48" fill="url(#ma9)" mask="url(#vm)"/><rect x="225.24" y="275.94" width="765.72" height="21.28" fill="url(#ma9)"/><rect x="225.24" y="276.34" width="765.72" height="20.48" fill="url(#ma10)" mask="url(#vm)"/><rect x="225.24" y="296.42" width="765.72" height="21.28" fill="url(#ma10)"/><rect x="225.24" y="296.82" width="765.72" height="20.48" fill="url(#ma11)" mask="url(#vm)"/><rect x="225.24" y="316.9" width="765.72" height="21.28" fill="url(#ma11)"/><rect x="225.24" y="317.3" width="765.72" height="20.48" fill="url(#ma12)" mask="url(#vm)"/><rect x="225.24" y="337.38" width="765.72" height="21.28" fill="url(#ma12)"/><rect x="225.24" y="337.78" width="765.72" height="20.48" fill="url(#ma13)" mask="url(#vm)"/><rect x="225.24" y="357.86" width="765.72" height="21.28" fill="url(#ma13)"/><rect x="225.24" y="358.26" width="765.72" height="20.48" fill="url(#ma14)" mask="url(#vm)"/><rect x="225.24" y="378.34" width="765.72" height="21.28" fill="url(#ma14)"/><rect x="225.24" y="378.74" width="765.72" height="20.48" fill="url(#ma15)" mask="url(#vm)"/><rect x="225.24" y="398.82" width="765.72" height="21.28" fill="url(#ma15)"/><rect x="225.24" y="399.22" width="765.72" height="20.48" fill="url(#ma16)" mask="url(#vm)"/><rect x="225.24" y="419.3" width="765.72" height="21.28" fill="url(#ma16)"/><rect x="225.24" y="419.7" width="765.72" height="20.48" fill="url(#ma17)" mask="url(#vm)"/><rect x="225.24" y="439.78" width="765.72" height="21.28" fill="url(#ma17)"/><rect x="225.24" y="440.18" width="765.72" height="20.48" fill="url(#ma18)" mask="url(#vm)"/><rect x="225.24" y="460.26" width="765.72" height="21.28" fill="url(#ma18)"/><rect x="225.24" y="460.66" width="765.72" height="20.48" fill="url(#ma19)" mask="url(#vm)"/><rect x="225.24" y="480.74" width="765.72" height="21.28" fill="url(#ma19)"/><rect x="225.24" y="481.14" width="765.72" height="20.48" fill="url(#ma20)" mask="url(#vm)"/><rect x="225.24" y="501.22" width="765.72" height="21.28" fill="url(#ma20)"/><rect x="225.24" y="501.62" width="765.72" height="20.48" fill="url(#ma21)" mask="url(#vm)"/><rect x="225.24" y="521.7" width="765.72" height="21.28" fill="url(#ma21)"/><rect x="225.24" y="522.1" width="765.72" height="20.48" fill="url(#ma22)" mask="url(#vm)"/><rect x="225.24" y="542.18" width="765.72" height="21.28" fill="url(#ma22)"/><rect x="225.24" y="542.58" width="765.72" height="20.48" fill="url(#ma23)" mask="url(#vm)"/></g></g><path d="M168.5,554.6 170.8,556.4 178,561.8 199.6,567.2 206.8,567.8 217,561.8 232,569 251.2,580.4 253.6,583 168.5,583ZM255.8,583 254.8,580.4 248.8,566.6 246.4,561.8 244.6,558.8 246.4,555.8 252.4,554.2 258.4,549.2 268,545 280,539.4 285.4,538.4 284.8,536 282.4,535 283,532.4 289.6,529.4 301.6,528.4 324.4,529.4 346,527.8 363.4,523 371.2,524.4 388,535.4 394,544.4 398.8,561.8 403.6,552.8 405.4,543.8 410.8,541.8 418,542.6 424,544.2 436,545.6 450,549.6 463.2,554.4 482.4,558 492.6,560.4 501.6,570 517.2,576 534,581.4 538,583ZM702,583 706.2,580.9 715,579 730,572.8 738,572.8 743.6,576.6 747.4,580.9 749,583ZM758.8,583 757.4,580.3 748.6,572.8 764.8,567.2 783.6,555.4 798.5,549.1 815.4,557.9 819.1,554.7 827.2,552 847.2,549.1 867.1,547 878.4,535.8 885.8,532.5 897.1,527 903.3,521.7 912,504.8 920.8,496.7 934.5,483 942,474.9 951.3,465.6 953.2,452.5 958.5,440 966.4,424.5 983.1,349.7 995.5,323.3 1010.4,266.9 1021.5,219.8 1038.4,137.1 1052.1,75.8 1055.3,43.5 1051.3,24.2 1052.1,20.2 1057.7,14.5 1061,11.3 1063,9.8 1076.1,9.8 1076.1,583Z" fill="#f3f2de" stroke="none"/><path d="M168.5,554.6 170.8,556.4 178,561.8 199.6,567.2 206.8,567.8 217,561.8 232,569 251.2,580.4 253.6,583M255.8,583 254.8,580.4 248.8,566.6 246.4,561.8 244.6,558.8 246.4,555.8 252.4,554.2 258.4,549.2 268,545 280,539.4 285.4,538.4 284.8,536 282.4,535 283,532.4 289.6,529.4 301.6,528.4 324.4,529.4 346,527.8 363.4,523 371.2,524.4 388,535.4 394,544.4 398.8,561.8 403.6,552.8 405.4,543.8 410.8,541.8 418,542.6 424,544.2 436,545.6 450,549.6 463.2,554.4 482.4,558 492.6,560.4 501.6,570 517.2,576 534,581.4 538,583M702,583 706.2,580.9 715,579 730,572.8 738,572.8 743.6,576.6 747.4,580.9 749,583M758.8,583 757.4,580.3 748.6,572.8 764.8,567.2 783.6,555.4 798.5,549.1 815.4,557.9 819.1,554.7 827.2,552 847.2,549.1 867.1,547 878.4,535.8 885.8,532.5 897.1,527 903.3,521.7 912,504.8 920.8,496.7 934.5,483 942,474.9 951.3,465.6 953.2,452.5 958.5,440 966.4,424.5 983.1,349.7 995.5,323.3 1010.4,266.9 1021.5,219.8 1038.4,137.1 1052.1,75.8 1055.3,43.5 1051.3,24.2 1052.1,20.2 1057.7,14.5 1061,11.3 1063,9.8" fill="none" stroke="#000" stroke-width="2.6" stroke-linejoin="round" stroke-linecap="round"/><path d="M258.6 9.8V583M372.4 9.8V583M486.2 9.8V583M600 9.8V583M713.8 9.8V583M827.6 9.8V583M941.4 9.8V583M1055.2 9.8V583M168.45 92.3H1076.1M168.45 183.34H1076.1M168.45 274.38H1076.1M168.45 365.42H1076.1M168.45 456.46H1076.1M168.45 547.5H1076.1" stroke="#000" stroke-opacity="0.5" stroke-width="1.1" stroke-dasharray="3 1.6" fill="none"/><rect x="168.45" y="9.8" width="907.65" height="573.2" fill="none" stroke="#000" stroke-width="5.4"/><g font-family="DejaVu Sans, sans-serif" font-size="32"><text x="258.6" y="623" text-anchor="middle">3°W</text><text x="372.4" y="623" text-anchor="middle">2.75°W</text><text x="486.2" y="623" text-anchor="middle">2.5°W</text><text x="600" y="623" text-anchor="middle">2.25°W</text><text x="713.8" y="623" text-anchor="middle">2°W</text><text x="827.6" y="623" text-anchor="middle">1.75°W</text><text x="941.4" y="623" text-anchor="middle">1.5°W</text><text x="1055.2" y="623" text-anchor="middle">1.25°W</text><text x="153.4" y="100.7" text-anchor="end">44.4°N</text><text x="153.4" y="191.74" text-anchor="end">44.2°N</text><text x="153.4" y="282.78" text-anchor="end">44°N</text><text x="153.4" y="373.82" text-anchor="end">43.8°N</text><text x="153.4" y="464.86" text-anchor="end">43.6°N</text><text x="153.4" y="555.9" text-anchor="end">43.4°N</text></g><text transform="translate(172.8 72) scale(1 1.045)" font-family="Liberation Serif, serif" font-weight="bold" font-size="42">(a)</text><g font-family="DejaVu Sans, sans-serif" font-size="34.5"><rect x="1117.3" y="533.64" width="26.2" height="7.46" fill="#000084" shape-rendering="crispEdges"/><rect x="1117.3" y="526.67" width="26.2" height="7.46" fill="#000096" shape-rendering="crispEdges"/><rect x="1117.3" y="519.71" width="26.2" height="7.46" fill="#0000a8" shape-rendering="crispEdges"/><rect x="1117.3" y="512.74" width="26.2" height="7.46" fill="#0000b6" shape-rendering="crispEdges"/><rect x="1117.3" y="505.78" width="26.2" height="7.46" fill="#0000c8" shape-rendering="crispEdges"/><rect x="1117.3" y="498.82" width="26.2" height="7.46" fill="#0000da" shape-rendering="crispEdges"/><rect x="1117.3" y="491.85" width="26.2" height="7.46" fill="#0000e8" shape-rendering="crispEdges"/><rect x="1117.3" y="484.89" width="26.2" height="7.46" fill="#0000fa" shape-rendering="crispEdges"/><rect x="1117.3" y="477.92" width="26.2" height="7.46" fill="#0000ff" shape-rendering="crispEdges"/><rect x="1117.3" y="470.96" width="26.2" height="7.46" fill="#0008ff" shape-rendering="crispEdges"/><rect x="1117.3" y="464" width="26.2" height="7.46" fill="#0018ff" shape-rendering="crispEdges"/><rect x="1117.3" y="457.03" width="26.2" height="7.46" fill="#0028ff" shape-rendering="crispEdges"/><rect x="1117.3" y="450.07" width="26.2" height="7.46" fill="#0035ff" shape-rendering="crispEdges"/><rect x="1117.3" y="443.1" width="26.2" height="7.46" fill="#0045ff" shape-rendering="crispEdges"/><rect x="1117.3" y="436.14" width="26.2" height="7.46" fill="#0055ff" shape-rendering="crispEdges"/><rect x="1117.3" y="429.18" width="26.2" height="7.46" fill="#0060ff" shape-rendering="crispEdges"/><rect x="1117.3" y="422.21" width="26.2" height="7.46" fill="#0070ff" shape-rendering="crispEdges"/><rect x="1117.3" y="415.25" width="26.2" height="7.46" fill="#0080ff" shape-rendering="crispEdges"/><rect x="1117.3" y="408.28" width="26.2" height="7.46" fill="#008cff" shape-rendering="crispEdges"/><rect x="1117.3" y="401.32" width="26.2" height="7.46" fill="#009cff" shape-rendering="crispEdges"/><rect x="1117.3" y="394.36" width="26.2" height="7.46" fill="#00a9ff" shape-rendering="crispEdges"/><rect x="1117.3" y="387.39" width="26.2" height="7.46" fill="#00b9ff" shape-rendering="crispEdges"/><rect x="1117.3" y="380.43" width="26.2" height="7.46" fill="#00c9ff" shape-rendering="crispEdges"/><rect x="1117.3" y="373.46" width="26.2" height="7.46" fill="#00d4ff" shape-rendering="crispEdges"/><rect x="1117.3" y="366.5" width="26.2" height="7.46" fill="#00e4f8" shape-rendering="crispEdges"/><rect x="1117.3" y="359.54" width="26.2" height="7.46" fill="#0cf4eb" shape-rendering="crispEdges"/><rect x="1117.3" y="352.57" width="26.2" height="7.46" fill="#16ffe1" shape-rendering="crispEdges"/><rect x="1117.3" y="345.61" width="26.2" height="7.46" fill="#23ffd4" shape-rendering="crispEdges"/><rect x="1117.3" y="338.64" width="26.2" height="7.46" fill="#30ffc7" shape-rendering="crispEdges"/><rect x="1117.3" y="331.68" width="26.2" height="7.46" fill="#39ffbe" shape-rendering="crispEdges"/><rect x="1117.3" y="324.72" width="26.2" height="7.46" fill="#46ffb1" shape-rendering="crispEdges"/><rect x="1117.3" y="317.75" width="26.2" height="7.46" fill="#53ffa4" shape-rendering="crispEdges"/><rect x="1117.3" y="310.79" width="26.2" height="7.46" fill="#5dff9a" shape-rendering="crispEdges"/><rect x="1117.3" y="303.82" width="26.2" height="7.46" fill="#6aff8d" shape-rendering="crispEdges"/><rect x="1117.3" y="296.86" width="26.2" height="7.46" fill="#77ff80" shape-rendering="crispEdges"/><rect x="1117.3" y="289.9" width="26.2" height="7.46" fill="#80ff77" shape-rendering="crispEdges"/><rect x="1117.3" y="282.93" width="26.2" height="7.46" fill="#8dff6a" shape-rendering="crispEdges"/><rect x="1117.3" y="275.97" width="26.2" height="7.46" fill="#9aff5d" shape-rendering="crispEdges"/><rect x="1117.3" y="269" width="26.2" height="7.46" fill="#a4ff53" shape-rendering="crispEdges"/><rect x="1117.3" y="262.04" width="26.2" height="7.46" fill="#b1ff46" shape-rendering="crispEdges"/><rect x="1117.3" y="255.08" width="26.2" height="7.46" fill="#beff39" shape-rendering="crispEdges"/><rect x="1117.3" y="248.11" width="26.2" height="7.46" fill="#c7ff30" shape-rendering="crispEdges"/><rect x="1117.3" y="241.15" width="26.2" height="7.46" fill="#d4ff23" shape-rendering="crispEdges"/><rect x="1117.3" y="234.18" width="26.2" height="7.46" fill="#e1ff16" shape-rendering="crispEdges"/><rect x="1117.3" y="227.22" width="26.2" height="7.46" fill="#ebff0c" shape-rendering="crispEdges"/><rect x="1117.3" y="220.26" width="26.2" height="7.46" fill="#f8f500" shape-rendering="crispEdges"/><rect x="1117.3" y="213.29" width="26.2" height="7.46" fill="#ffe600" shape-rendering="crispEdges"/><rect x="1117.3" y="206.33" width="26.2" height="7.46" fill="#ffdb00" shape-rendering="crispEdges"/><rect x="1117.3" y="199.36" width="26.2" height="7.46" fill="#ffcc00" shape-rendering="crispEdges"/><rect x="1117.3" y="192.4" width="26.2" height="7.46" fill="#ffbd00" shape-rendering="crispEdges"/><rect x="1117.3" y="185.44" width="26.2" height="7.46" fill="#ffb200" shape-rendering="crispEdges"/><rect x="1117.3" y="178.47" width="26.2" height="7.46" fill="#ffa300" shape-rendering="crispEdges"/><rect x="1117.3" y="171.51" width="26.2" height="7.46" fill="#ff9400" shape-rendering="crispEdges"/><rect x="1117.3" y="164.54" width="26.2" height="7.46" fill="#ff8900" shape-rendering="crispEdges"/><rect x="1117.3" y="157.58" width="26.2" height="7.46" fill="#ff7a00" shape-rendering="crispEdges"/><rect x="1117.3" y="150.62" width="26.2" height="7.46" fill="#ff6f00" shape-rendering="crispEdges"/><rect x="1117.3" y="143.65" width="26.2" height="7.46" fill="#ff6000" shape-rendering="crispEdges"/><rect x="1117.3" y="136.69" width="26.2" height="7.46" fill="#ff5200" shape-rendering="crispEdges"/><rect x="1117.3" y="129.72" width="26.2" height="7.46" fill="#ff4700" shape-rendering="crispEdges"/><rect x="1117.3" y="122.76" width="26.2" height="7.46" fill="#ff3800" shape-rendering="crispEdges"/><rect x="1117.3" y="115.8" width="26.2" height="7.46" fill="#ff2900" shape-rendering="crispEdges"/><rect x="1117.3" y="108.83" width="26.2" height="7.46" fill="#ff1e00" shape-rendering="crispEdges"/><rect x="1117.3" y="101.87" width="26.2" height="7.46" fill="#fa0f00" shape-rendering="crispEdges"/><rect x="1117.3" y="94.9" width="26.2" height="7.46" fill="#e80000" shape-rendering="crispEdges"/><rect x="1117.3" y="87.94" width="26.2" height="7.46" fill="#da0000" shape-rendering="crispEdges"/><rect x="1117.3" y="80.98" width="26.2" height="7.46" fill="#c80000" shape-rendering="crispEdges"/><rect x="1117.3" y="74.01" width="26.2" height="7.46" fill="#b60000" shape-rendering="crispEdges"/><rect x="1117.3" y="67.05" width="26.2" height="7.46" fill="#a80000" shape-rendering="crispEdges"/><rect x="1117.3" y="60.08" width="26.2" height="7.46" fill="#960000" shape-rendering="crispEdges"/><rect x="1117.3" y="53.12" width="26.2" height="7.46" fill="#840000" shape-rendering="crispEdges"/><polygon points="1117.3,53.35 1130.4,27.6 1143.5,53.35" fill="#800000"/><polygon points="1117.3,540.4 1130.4,565.2 1143.5,540.4" fill="#000080"/><polygon points="1117.3,53.15 1130.4,27.6 1143.5,53.15 1143.5,540.6 1130.4,565.2 1117.3,540.6" fill="none" stroke="#000" stroke-width="2.2" stroke-linejoin="miter"/><text x="1164.2" y="554.2">0</text><text x="1164.2" y="484.56">10</text><text x="1164.2" y="414.92">20</text><text x="1164.2" y="345.28">30</text><text x="1164.2" y="275.64">40</text><text x="1164.2" y="206">50</text><text x="1164.2" y="136.36">60</text><text x="1164.2" y="66.72">70</text><path d="M1143.5 540.6H1154.5M1143.5 470.96H1154.5M1143.5 401.32H1154.5M1143.5 331.68H1154.5M1143.5 262.04H1154.5M1143.5 192.4H1154.5M1143.5 122.76H1154.5M1143.5 53.12H1154.5" stroke="#000" stroke-width="2"/></g><text transform="translate(1251.8 299.9) rotate(-90)" text-anchor="middle" font-family="DejaVu Serif, serif" font-weight="bold" font-size="40" textLength="198.6" lengthAdjust="spacingAndGlyphs">Ratio(%)</text><defs><linearGradient id="mb0" gradientUnits="userSpaceOnUse" x1="1461.44" x2="2227.16" y1="0" y2="0"><stop offset="0" stop-color="#d8d8d8"/><stop offset="0.037" stop-color="#d8d8d8"/><stop offset="0.0741" stop-color="#d9d9d9"/><stop offset="0.1111" stop-color="#d9d9d9"/><stop offset="0.1481" stop-color="#d9d9d9"/><stop offset="0.1852" stop-color="#dadada"/><stop offset="0.2222" stop-color="#dadada"/><stop offset="0.2593" stop-color="#dadada"/><stop offset="0.2963" stop-color="#dadada"/><stop offset="0.3333" stop-color="#dadada"/><stop offset="0.3704" stop-color="#dadada"/><stop offset="0.4074" stop-color="#dadada"/><stop offset="0.4444" stop-color="#dbdbdb"/><stop offset="0.4815" stop-color="#dbdbdb"/><stop offset="0.5185" stop-color="#dadada"/><stop offset="0.5556" stop-color="#d9d9d9"/><stop offset="0.5926" stop-color="#d8d8d8"/><stop offset="0.6296" stop-color="#d8d8d8"/><stop offset="0.6667" stop-color="#d8d8d8"/><stop offset="0.7037" stop-color="#d8d8d8"/><stop offset="0.7407" stop-color="#d8d8d8"/><stop offset="0.7778" stop-color="#d8d8d8"/><stop offset="0.8148" stop-color="#d7d7d7"/><stop offset="0.8519" stop-color="#d7d7d7"/><stop offset="0.8889" stop-color="#d6d6d6"/><stop offset="0.9259" stop-color="#d6d6d6"/><stop offset="0.963" stop-color="#d5d5d5"/><stop offset="1" stop-color="#d5d5d5"/></linearGradient><linearGradient id="mb1" gradientUnits="userSpaceOnUse" x1="1461.44" x2="2227.16" y1="0" y2="0"><stop offset="0" stop-color="#d8d8d8"/><stop offset="0.037" stop-color="#d8d8d8"/><stop offset="0.0741" stop-color="#d9d9d9"/><stop offset="0.1111" stop-color="#d9d9d9"/><stop offset="0.1481" stop-color="#d9d9d9"/><stop offset="0.1852" stop-color="#dadada"/><stop offset="0.2222" stop-color="#dadada"/><stop offset="0.2593" stop-color="#dadada"/><stop offset="0.2963" stop-color="#dadada"/><stop offset="0.3333" stop-color="#dadada"/><stop offset="0.3704" stop-color="#dadada"/><stop offset="0.4074" stop-color="#dadada"/><stop offset="0.4444" stop-color="#dbdbdb"/><stop offset="0.4815" stop-color="#dcdcdc"/><stop offset="0.5185" stop-color="#dadada"/><stop offset="0.5556" stop-color="#d9d9d9"/><stop offset="0.5926" stop-color="#d8d8d8"/><stop offset="0.6296" stop-color="#d8d8d8"/><stop offset="0.6667" stop-color="#d8d8d8"/><stop offset="0.7037" stop-color="#d9d9d9"/><stop offset="0.7407" stop-color="#d9d9d9"/><stop offset="0.7778" stop-color="#d8d8d8"/><stop offset="0.8148" stop-color="#d8d8d8"/><stop offset="0.8519" stop-color="#d7d7d7"/><stop offset="0.8889" stop-color="#d6d6d6"/><stop offset="0.9259" stop-color="#d5d5d5"/><stop offset="0.963" stop-color="#d5d5d5"/><stop offset="1" stop-color="#d5d5d5"/></linearGradient><linearGradient id="mb2" gradientUnits="userSpaceOnUse" x1="1461.44" x2="2227.16" y1="0" y2="0"><stop offset="0" stop-color="#d8d8d8"/><stop offset="0.037" stop-color="#d8d8d8"/><stop offset="0.0741" stop-color="#d8d8d8"/><stop offset="0.1111" stop-color="#d9d9d9"/><stop offset="0.1481" stop-color="#dadada"/><stop offset="0.1852" stop-color="#dadada"/><stop offset="0.2222" stop-color="#dbdbdb"/><stop offset="0.2593" stop-color="#dbdbdb"/><stop offset="0.2963" stop-color="#dadada"/><stop offset="0.3333" stop-color="#dadada"/><stop offset="0.3704" stop-color="#dadada"/><stop offset="0.4074" stop-color="#dadada"/><stop offset="0.4444" stop-color="#dadada"/><stop offset="0.4815" stop-color="#dcdcdc"/><stop offset="0.5185" stop-color="#dadada"/><stop offset="0.5556" stop-color="#d7d7d7"/><stop offset="0.5926" stop-color="#d7d7d7"/><stop offset="0.6296" stop-color="#d6d6d6"/><stop offset="0.6667" stop-color="#d7d7d7"/><stop offset="0.7037" stop-color="#dadada"/><stop offset="0.7407" stop-color="#d9d9d9"/><stop offset="0.7778" stop-color="#d9d9d9"/><stop offset="0.8148" stop-color="#d8d8d8"/><stop offset="0.8519" stop-color="#d7d7d7"/><stop offset="0.8889" stop-color="#d6d6d6"/><stop offset="0.9259" stop-color="#d5d5d5"/><stop offset="0.963" stop-color="#d5d5d5"/><stop offset="1" stop-color="#d4d4d4"/></linearGradient><linearGradient id="mb3" gradientUnits="userSpaceOnUse" x1="1461.44" x2="2227.16" y1="0" y2="0"><stop offset="0" stop-color="#d7d7d7"/><stop offset="0.037" stop-color="#d7d7d7"/><stop offset="0.0741" stop-color="#d8d8d8"/><stop offset="0.1111" stop-color="#d9d9d9"/><stop offset="0.1481" stop-color="#dadada"/><stop offset="0.1852" stop-color="#dbdbdb"/><stop offset="0.2222" stop-color="#dbdbdb"/><stop offset="0.2593" stop-color="#dcdcdc"/><stop offset="0.2963" stop-color="#dadada"/><stop offset="0.3333" stop-color="#dadada"/><stop offset="0.3704" stop-color="#d7d7d7"/><stop offset="0.4074" stop-color="#dadada"/><stop offset="0.4444" stop-color="#dadada"/><stop offset="0.4815" stop-color="#dcdcdc"/><stop offset="0.5185" stop-color="#dadada"/><stop offset="0.5556" stop-color="#dadada"/><stop offset="0.5926" stop-color="#d6d6d6"/><stop offset="0.6296" stop-color="#d7d7d7"/><stop offset="0.6667" stop-color="#d7d7d7"/><stop offset="0.7037" stop-color="#dcdcdc"/><stop offset="0.7407" stop-color="#dadada"/><stop offset="0.7778" stop-color="#d9d9d9"/><stop offset="0.8148" stop-color="#d8d8d8"/><stop offset="0.8519" stop-color="#d7d7d7"/><stop offset="0.8889" stop-color="#d6d6d6"/><stop offset="0.9259" stop-color="#d5d5d5"/><stop offset="0.963" stop-color="#d4d4d4"/><stop offset="1" stop-color="#d4d4d4"/></linearGradient><linearGradient id="mb4" gradientUnits="userSpaceOnUse" x1="1461.44" x2="2227.16" y1="0" y2="0"><stop offset="0" stop-color="#d6d6d6"/><stop offset="0.037" stop-color="#d7d7d7"/><stop offset="0.0741" stop-color="#d7d7d7"/><stop offset="0.1111" stop-color="#d9d9d9"/><stop offset="0.1481" stop-color="#dadada"/><stop offset="0.1852" stop-color="#dcdcdc"/><stop offset="0.2222" stop-color="#dcdcdc"/><stop offset="0.2593" stop-color="#dcdcdc"/><stop offset="0.2963" stop-color="#d7d7d7"/><stop offset="0.3333" stop-color="#d6d6d6"/><stop offset="0.3704" stop-color="#d6d6d6"/><stop offset="0.4074" stop-color="#dadada"/><stop offset="0.4444" stop-color="#d7d7d7"/><stop offset="0.4815" stop-color="#dcdcdc"/><stop offset="0.5185" stop-color="#dedede"/><stop offset="0.5556" stop-color="#dcdcdc"/><stop offset="0.5926" stop-color="#d6d6d6"/><stop offset="0.6296" stop-color="#d5d5d5"/><stop offset="0.6667" stop-color="#d6d6d6"/><stop offset="0.7037" stop-color="#dcdcdc"/><stop offset="0.7407" stop-color="#d9d9d9"/><stop offset="0.7778" stop-color="#dadada"/><stop offset="0.8148" stop-color="#d8d8d8"/><stop offset="0.8519" stop-color="#d6d6d6"/><stop offset="0.8889" stop-color="#d5d5d5"/><stop offset="0.9259" stop-color="#d4d4d4"/><stop offset="0.963" stop-color="#d3d3d3"/><stop offset="1" stop-color="#d3d3d3"/></linearGradient><linearGradient id="mb5" gradientUnits="userSpaceOnUse" x1="1461.44" x2="2227.16" y1="0" y2="0"><stop offset="0" stop-color="#d5d5d5"/><stop offset="0.037" stop-color="#d5d5d5"/><stop offset="0.0741" stop-color="#d7d7d7"/><stop offset="0.1111" stop-color="#d8d8d8"/><stop offset="0.1481" stop-color="#dadada"/><stop offset="0.1852" stop-color="#dcdcdc"/><stop offset="0.2222" stop-color="#e0e0e0"/><stop offset="0.2593" stop-color="#dadada"/><stop offset="0.2963" stop-color="#d6d6d6"/><stop offset="0.3333" stop-color="#d5d5d5"/><stop offset="0.3704" stop-color="#d6d6d6"/><stop offset="0.4074" stop-color="#d5d5d5"/><stop offset="0.4444" stop-color="#d5d5d5"/><stop offset="0.4815" stop-color="#dadada"/><stop offset="0.5185" stop-color="#dddddd"/><stop offset="0.5556" stop-color="#d6d6d6"/><stop offset="0.5926" stop-color="#d5d5d5"/><stop offset="0.6296" stop-color="#d5d5d5"/><stop offset="0.6667" stop-color="#d5d5d5"/><stop offset="0.7037" stop-color="#d7d7d7"/><stop offset="0.7407" stop-color="#d9d9d9"/><stop offset="0.7778" stop-color="#dadada"/><stop offset="0.8148" stop-color="#d8d8d8"/><stop offset="0.8519" stop-color="#d6d6d6"/><stop offset="0.8889" stop-color="#d4d4d4"/><stop offset="0.9259" stop-color="#d3d3d3"/><stop offset="0.963" stop-color="#d2d2d2"/><stop offset="1" stop-color="#d1d1d1"/></linearGradient><linearGradient id="mb6" gradientUnits="userSpaceOnUse" x1="1461.44" x2="2227.16" y1="0" y2="0"><stop offset="0" stop-color="#d2d2d2"/><stop offset="0.037" stop-color="#d3d3d3"/><stop offset="0.0741" stop-color="#d5d5d5"/><stop offset="0.1111" stop-color="#d8d8d8"/><stop offset="0.1481" stop-color="#dcdcdc"/><stop offset="0.1852" stop-color="#dadada"/><stop offset="0.2222" stop-color="#dfdfdf"/><stop offset="0.2593" stop-color="#d7d7d7"/><stop offset="0.2963" stop-color="#d6d6d6"/><stop offset="0.3333" stop-color="#d5d5d5"/><stop offset="0.3704" stop-color="#d4d4d4"/><stop offset="0.4074" stop-color="#d4d4d4"/><stop offset="0.4444" stop-color="#d2d2d2"/><stop offset="0.4815" stop-color="#dadada"/><stop offset="0.5185" stop-color="#dadada"/><stop offset="0.5556" stop-color="#d5d5d5"/><stop offset="0.5926" stop-color="#d4d4d4"/><stop offset="0.6296" stop-color="#d5d5d5"/><stop offset="0.6667" stop-color="#d2d2d2"/><stop offset="0.7037" stop-color="#d2d2d2"/><stop offset="0.7407" stop-color="#d5d5d5"/><stop offset="0.7778" stop-color="#d6d6d6"/><stop offset="0.8148" stop-color="#d6d6d6"/><stop offset="0.8519" stop-color="#d5d5d5"/><stop offset="0.8889" stop-color="#d2d2d2"/><stop offset="0.9259" stop-color="#d1d1d1"/><stop offset="0.963" stop-color="#d0d0d0"/><stop offset="1" stop-color="#d0d0d0"/></linearGradient><linearGradient id="mb7" gradientUnits="userSpaceOnUse" x1="1461.44" x2="2227.16" y1="0" y2="0"><stop offset="0" stop-color="#cfcfcf"/><stop offset="0.037" stop-color="#d1d1d1"/><stop offset="0.0741" stop-color="#d3d3d3"/><stop offset="0.1111" stop-color="#d7d7d7"/><stop offset="0.1481" stop-color="#dadada"/><stop offset="0.1852" stop-color="#d7d7d7"/><stop offset="0.2222" stop-color="#dadada"/><stop offset="0.2593" stop-color="#d5d5d5"/><stop offset="0.2963" stop-color="#d2d2d2"/><stop offset="0.3333" stop-color="#d5d5d5"/><stop offset="0.3704" stop-color="#d6d6d6"/><stop offset="0.4074" stop-color="#d7d7d7"/><stop offset="0.4444" stop-color="#dadada"/><stop offset="0.4815" stop-color="#d6d6d6"/><stop offset="0.5185" stop-color="#d4d4d4"/><stop offset="0.5556" stop-color="#d2d2d2"/><stop offset="0.5926" stop-color="#d2d2d2"/><stop offset="0.6296" stop-color="#d6d6d6"/><stop offset="0.6667" stop-color="#d2d2d2"/><stop offset="0.7037" stop-color="#d2d2d2"/><stop offset="0.7407" stop-color="#d5d5d5"/><stop offset="0.7778" stop-color="#d7d7d7"/><stop offset="0.8148" stop-color="#d6d6d6"/><stop offset="0.8519" stop-color="#d4d4d4"/><stop offset="0.8889" stop-color="#d0d0d0"/><stop offset="0.9259" stop-color="#cfcfcf"/><stop offset="0.963" stop-color="#cecece"/><stop offset="1" stop-color="#cdcdcd"/></linearGradient><linearGradient id="mb8" gradientUnits="userSpaceOnUse" x1="1461.44" x2="2227.16" y1="0" y2="0"><stop offset="0" stop-color="#cbcbcb"/><stop offset="0.037" stop-color="#cdcdcd"/><stop offset="0.0741" stop-color="#d0d0d0"/><stop offset="0.1111" stop-color="#d6d6d6"/><stop offset="0.1481" stop-color="#dadada"/><stop offset="0.1852" stop-color="#d7d7d7"/><stop offset="0.2222" stop-color="#d6d6d6"/><stop offset="0.2593" stop-color="#d4d4d4"/><stop offset="0.2963" stop-color="#d2d2d2"/><stop offset="0.3333" stop-color="#d5d5d5"/><stop offset="0.3704" stop-color="#d6d6d6"/><stop offset="0.4074" stop-color="#d7d7d7"/><stop offset="0.4444" stop-color="#dadada"/><stop offset="0.4815" stop-color="#d5d5d5"/><stop offset="0.5185" stop-color="#d0d0d0"/><stop offset="0.5556" stop-color="#cdcdcd"/><stop offset="0.5926" stop-color="#d2d2d2"/><stop offset="0.6296" stop-color="#d4d4d4"/><stop offset="0.6667" stop-color="#d5d5d5"/><stop offset="0.7037" stop-color="#d6d6d6"/><stop offset="0.7407" stop-color="#d7d7d7"/><stop offset="0.7778" stop-color="#d5d5d5"/><stop offset="0.8148" stop-color="#d1d1d1"/><stop offset="0.8519" stop-color="#cecece"/><stop offset="0.8889" stop-color="#cdcdcd"/><stop offset="0.9259" stop-color="#cbcbcb"/><stop offset="0.963" stop-color="#cbcbcb"/><stop offset="1" stop-color="#cbcbcb"/></linearGradient><linearGradient id="mb9" gradientUnits="userSpaceOnUse" x1="1461.44" x2="2227.16" y1="0" y2="0"><stop offset="0" stop-color="#c5c5c5"/><stop offset="0.037" stop-color="#c7c7c7"/><stop offset="0.0741" stop-color="#cacaca"/><stop offset="0.1111" stop-color="#cdcdcd"/><stop offset="0.1481" stop-color="#cfcfcf"/><stop offset="0.1852" stop-color="#d1d1d1"/><stop offset="0.2222" stop-color="#d2d2d2"/><stop offset="0.2593" stop-color="#d5d5d5"/><stop offset="0.2963" stop-color="#d6d6d6"/><stop offset="0.3333" stop-color="#dadada"/><stop offset="0.3704" stop-color="#dcdcdc"/><stop offset="0.4074" stop-color="#dddddd"/><stop offset="0.4444" stop-color="#dadada"/><stop offset="0.4815" stop-color="#d6d6d6"/><stop offset="0.5185" stop-color="#d5d5d5"/><stop offset="0.5556" stop-color="#d5d5d5"/><stop offset="0.5926" stop-color="#d5d5d5"/><stop offset="0.6296" stop-color="#d6d6d6"/><stop offset="0.6667" stop-color="#d7d7d7"/><stop offset="0.7037" stop-color="#dadada"/><stop offset="0.7407" stop-color="#d7d7d7"/><stop offset="0.7778" stop-color="#d2d2d2"/><stop offset="0.8148" stop-color="#cdcdcd"/><stop offset="0.8519" stop-color="#cacaca"/><stop offset="0.8889" stop-color="#c8c8c8"/><stop offset="0.9259" stop-color="#c7c7c7"/><stop offset="0.963" stop-color="#c8c8c8"/><stop offset="1" stop-color="#c9c9c9"/></linearGradient><linearGradient id="mb10" gradientUnits="userSpaceOnUse" x1="1461.44" x2="2227.16" y1="0" y2="0"><stop offset="0" stop-color="#bdbdbd"/><stop offset="0.037" stop-color="#bfbfbf"/><stop offset="0.0741" stop-color="#c3c3c3"/><stop offset="0.1111" stop-color="#cacaca"/><stop offset="0.1481" stop-color="#cccccc"/><stop offset="0.1852" stop-color="#cccccc"/><stop offset="0.2222" stop-color="#cdcdcd"/><stop offset="0.2593" stop-color="#cfcfcf"/><stop offset="0.2963" stop-color="#d2d2d2"/><stop offset="0.3333" stop-color="#dadada"/><stop offset="0.3704" stop-color="#dadada"/><stop offset="0.4074" stop-color="#d7d7d7"/><stop offset="0.4444" stop-color="#d6d6d6"/><stop offset="0.4815" stop-color="#d5d5d5"/><stop offset="0.5185" stop-color="#d2d2d2"/><stop offset="0.5556" stop-color="#d2d2d2"/><stop offset="0.5926" stop-color="#d2d2d2"/><stop offset="0.6296" stop-color="#d6d6d6"/><stop offset="0.6667" stop-color="#dadada"/><stop offset="0.7037" stop-color="#dedede"/><stop offset="0.7407" stop-color="#dadada"/><stop offset="0.7778" stop-color="#d2d2d2"/><stop offset="0.8148" stop-color="#cbcbcb"/><stop offset="0.8519" stop-color="#c5c5c5"/><stop offset="0.8889" stop-color="#c3c3c3"/><stop offset="0.9259" stop-color="#c1c1c1"/><stop offset="0.963" stop-color="#c5c5c5"/><stop offset="1" stop-color="#c7c7c7"/></linearGradient><linearGradient id="mb11" gradientUnits="userSpaceOnUse" x1="1461.44" x2="2227.16" y1="0" y2="0"><stop offset="0" stop-color="#b4b4b4"/><stop offset="0.037" stop-color="#b5b5b5"/><stop offset="0.0741" stop-color="#bebebe"/><stop offset="0.1111" stop-color="#c1c1c1"/><stop offset="0.1481" stop-color="#c5c5c5"/><stop offset="0.1852" stop-color="#cacaca"/><stop offset="0.2222" stop-color="#cbcbcb"/><stop offset="0.2593" stop-color="#cccccc"/><stop offset="0.2963" stop-color="#cdcdcd"/><stop offset="0.3333" stop-color="#d5d5d5"/><stop offset="0.3704" stop-color="#d4d4d4"/><stop offset="0.4074" stop-color="#cfcfcf"/><stop offset="0.4444" stop-color="#cfcfcf"/><stop offset="0.4815" stop-color="#cfcfcf"/><stop offset="0.5185" stop-color="#cccccc"/><stop offset="0.5556" stop-color="#cfcfcf"/><stop offset="0.5926" stop-color="#d1d1d1"/><stop offset="0.6296" stop-color="#d5d5d5"/><stop offset="0.6667" stop-color="#dadada"/><stop offset="0.7037" stop-color="#e0e0e0"/><stop offset="0.7407" stop-color="#dddddd"/><stop offset="0.7778" stop-color="#d2d2d2"/><stop offset="0.8148" stop-color="#cacaca"/><stop offset="0.8519" stop-color="#c3c3c3"/><stop offset="0.8889" stop-color="#c1c1c1"/><stop offset="0.9259" stop-color="#c1c1c1"/><stop offset="0.963" stop-color="#c5c5c5"/><stop offset="1" stop-color="#c6c6c6"/></linearGradient><linearGradient id="mb12" gradientUnits="userSpaceOnUse" x1="1461.44" x2="2227.16" y1="0" y2="0"><stop offset="0" stop-color="#a9a9a9"/><stop offset="0.037" stop-color="#aaaaaa"/><stop offset="0.0741" stop-color="#aeaeae"/><stop offset="0.1111" stop-color="#b1b1b1"/><stop offset="0.1481" stop-color="#b5b5b5"/><stop offset="0.1852" stop-color="#bebebe"/><stop offset="0.2222" stop-color="#c1c1c1"/><stop offset="0.2593" stop-color="#c5c5c5"/><stop offset="0.2963" stop-color="#cacaca"/><stop offset="0.3333" stop-color="#cccccc"/><stop offset="0.3704" stop-color="#cbcbcb"/><stop offset="0.4074" stop-color="#cccccc"/><stop offset="0.4444" stop-color="#cccccc"/><stop offset="0.4815" stop-color="#cccccc"/><stop offset="0.5185" stop-color="#cccccc"/><stop offset="0.5556" stop-color="#cdcdcd"/><stop offset="0.5926" stop-color="#d2d2d2"/><stop offset="0.6296" stop-color="#d5d5d5"/><stop offset="0.6667" stop-color="#dadada"/><stop offset="0.7037" stop-color="#dddddd"/><stop offset="0.7407" stop-color="#d7d7d7"/><stop offset="0.7778" stop-color="#cfcfcf"/><stop offset="0.8148" stop-color="#c7c7c7"/><stop offset="0.8519" stop-color="#c0c0c0"/><stop offset="0.8889" stop-color="#bebebe"/><stop offset="0.9259" stop-color="#c1c1c1"/><stop offset="0.963" stop-color="#cacaca"/><stop offset="1" stop-color="#c7c7c7"/></linearGradient><linearGradient id="mb13" gradientUnits="userSpaceOnUse" x1="1461.44" x2="2227.16" y1="0" y2="0"><stop offset="0" stop-color="#9e9e9e"/><stop offset="0.037" stop-color="#9d9d9d"/><stop offset="0.0741" stop-color="#9d9d9d"/><stop offset="0.1111" stop-color="#9f9f9f"/><stop offset="0.1481" stop-color="#a4a4a4"/><stop offset="0.1852" stop-color="#ababab"/><stop offset="0.2222" stop-color="#b1b1b1"/><stop offset="0.2593" stop-color="#b9b9b9"/><stop offset="0.2963" stop-color="#bebebe"/><stop offset="0.3333" stop-color="#c1c1c1"/><stop offset="0.3704" stop-color="#c6c6c6"/><stop offset="0.4074" stop-color="#cacaca"/><stop offset="0.4444" stop-color="#cbcbcb"/><stop offset="0.4815" stop-color="#cbcbcb"/><stop offset="0.5185" stop-color="#cccccc"/><stop offset="0.5556" stop-color="#cdcdcd"/><stop offset="0.5926" stop-color="#d1d1d1"/><stop offset="0.6296" stop-color="#d2d2d2"/><stop offset="0.6667" stop-color="#d5d5d5"/><stop offset="0.7037" stop-color="#d2d2d2"/><stop offset="0.7407" stop-color="#cfcfcf"/><stop offset="0.7778" stop-color="#cbcbcb"/><stop offset="0.8148" stop-color="#c1c1c1"/><stop offset="0.8519" stop-color="#bababa"/><stop offset="0.8889" stop-color="#b9b9b9"/><stop offset="0.9259" stop-color="#bebebe"/><stop offset="0.963" stop-color="#c5c5c5"/><stop offset="1" stop-color="#c5c5c5"/></linearGradient><linearGradient id="mb14" gradientUnits="userSpaceOnUse" x1="1461.44" x2="2227.16" y1="0" y2="0"><stop offset="0" stop-color="#939393"/><stop offset="0.037" stop-color="#939393"/><stop offset="0.0741" stop-color="#949494"/><stop offset="0.1111" stop-color="#969696"/><stop offset="0.1481" stop-color="#969696"/><stop offset="0.1852" stop-color="#969696"/><stop offset="0.2222" stop-color="#9b9b9b"/><stop offset="0.2593" stop-color="#a4a4a4"/><stop offset="0.2963" stop-color="#aeaeae"/><stop offset="0.3333" stop-color="#b5b5b5"/><stop offset="0.3704" stop-color="#bfbfbf"/><stop offset="0.4074" stop-color="#c3c3c3"/><stop offset="0.4444" stop-color="#c7c7c7"/><stop offset="0.4815" stop-color="#cacaca"/><stop offset="0.5185" stop-color="#cbcbcb"/><stop offset="0.5556" stop-color="#cdcdcd"/><stop offset="0.5926" stop-color="#d1d1d1"/><stop offset="0.6296" stop-color="#d0d0d0"/><stop offset="0.6667" stop-color="#d3d3d3"/><stop offset="0.7037" stop-color="#d0d0d0"/><stop offset="0.7407" stop-color="#cacaca"/><stop offset="0.7778" stop-color="#c1c1c1"/><stop offset="0.8148" stop-color="#bbbbbb"/><stop offset="0.8519" stop-color="#b7b7b7"/><stop offset="0.8889" stop-color="#bababa"/><stop offset="0.9259" stop-color="#c1c1c1"/><stop offset="0.963" stop-color="#c8c8c8"/><stop offset="1" stop-color="#c2c2c2"/></linearGradient><linearGradient id="mb15" gradientUnits="userSpaceOnUse" x1="1461.44" x2="2227.16" y1="0" y2="0"><stop offset="0" stop-color="#888888"/><stop offset="0.037" stop-color="#888888"/><stop offset="0.0741" stop-color="#878787"/><stop offset="0.1111" stop-color="#838383"/><stop offset="0.1481" stop-color="#818181"/><stop offset="0.1852" stop-color="#7d7d7d"/><stop offset="0.2222" stop-color="#838383"/><stop offset="0.2593" stop-color="#909090"/><stop offset="0.2963" stop-color="#9d9d9d"/><stop offset="0.3333" stop-color="#a7a7a7"/><stop offset="0.3704" stop-color="#b2b2b2"/><stop offset="0.4074" stop-color="#bbbbbb"/><stop offset="0.4444" stop-color="#c2c2c2"/><stop offset="0.4815" stop-color="#c7c7c7"/><stop offset="0.5185" stop-color="#cacaca"/><stop offset="0.5556" stop-color="#cbcbcb"/><stop offset="0.5926" stop-color="#cccccc"/><stop offset="0.6296" stop-color="#cbcbcb"/><stop offset="0.6667" stop-color="#cbcbcb"/><stop offset="0.7037" stop-color="#c8c8c8"/><stop offset="0.7407" stop-color="#c0c0c0"/><stop offset="0.7778" stop-color="#b3b3b3"/><stop offset="0.8148" stop-color="#aaaaaa"/><stop offset="0.8519" stop-color="#ababab"/><stop offset="0.8889" stop-color="#b1b1b1"/><stop offset="0.9259" stop-color="#b7b7b7"/><stop offset="0.963" stop-color="#bbbbbb"/><stop offset="1" stop-color="#bbbbbb"/></linearGradient><linearGradient id="mb16" gradientUnits="userSpaceOnUse" x1="1461.44" x2="2227.16" y1="0" y2="0"><stop offset="0" stop-color="#7e7e7e"/><stop offset="0.037" stop-color="#7e7e7e"/><stop offset="0.0741" stop-color="#7c7c7c"/><stop offset="0.1111" stop-color="#747474"/><stop offset="0.1481" stop-color="#707070"/><stop offset="0.1852" stop-color="#6c6c6c"/><stop offset="0.2222" stop-color="#707070"/><stop offset="0.2593" stop-color="#797979"/><stop offset="0.2963" stop-color="#868686"/><stop offset="0.3333" stop-color="#959595"/><stop offset="0.3704" stop-color="#a2a2a2"/><stop offset="0.4074" stop-color="#afafaf"/><stop offset="0.4444" stop-color="#b9b9b9"/><stop offset="0.4815" stop-color="#bebebe"/><stop offset="0.5185" stop-color="#c3c3c3"/><stop offset="0.5556" stop-color="#c5c5c5"/><stop offset="0.5926" stop-color="#c5c5c5"/><stop offset="0.6296" stop-color="#c1c1c1"/><stop offset="0.6667" stop-color="#c0c0c0"/><stop offset="0.7037" stop-color="#bababa"/><stop offset="0.7407" stop-color="#aeaeae"/><stop offset="0.7778" stop-color="#a2a2a2"/><stop offset="0.8148" stop-color="#9c9c9c"/><stop offset="0.8519" stop-color="#a1a1a1"/><stop offset="0.8889" stop-color="#a9a9a9"/><stop offset="0.9259" stop-color="#b1b1b1"/><stop offset="0.963" stop-color="#b3b3b3"/><stop offset="1" stop-color="#b3b3b3"/></linearGradient><linearGradient id="mb17" gradientUnits="userSpaceOnUse" x1="1461.44" x2="2227.16" y1="0" y2="0"><stop offset="0" stop-color="#757575"/><stop offset="0.037" stop-color="#757575"/><stop offset="0.0741" stop-color="#777777"/><stop offset="0.1111" stop-color="#676767"/><stop offset="0.1481" stop-color="#616161"/><stop offset="0.1852" stop-color="#606060"/><stop offset="0.2222" stop-color="#616161"/><stop offset="0.2593" stop-color="#6a6a6a"/><stop offset="0.2963" stop-color="#777777"/><stop offset="0.3333" stop-color="#868686"/><stop offset="0.3704" stop-color="#959595"/><stop offset="0.4074" stop-color="#9f9f9f"/><stop offset="0.4444" stop-color="#aaaaaa"/><stop offset="0.4815" stop-color="#afafaf"/><stop offset="0.5185" stop-color="#b4b4b4"/><stop offset="0.5556" stop-color="#b1b1b1"/><stop offset="0.5926" stop-color="#aeaeae"/><stop offset="0.6296" stop-color="#aaaaaa"/><stop offset="0.6667" stop-color="#a4a4a4"/><stop offset="0.7037" stop-color="#9f9f9f"/><stop offset="0.7407" stop-color="#959595"/><stop offset="0.7778" stop-color="#8b8b8b"/><stop offset="0.8148" stop-color="#8b8b8b"/><stop offset="0.8519" stop-color="#959595"/><stop offset="0.8889" stop-color="#9f9f9f"/><stop offset="0.9259" stop-color="#aaaaaa"/><stop offset="0.963" stop-color="#acacac"/><stop offset="1" stop-color="#acacac"/></linearGradient><linearGradient id="mb18" gradientUnits="userSpaceOnUse" x1="1461.44" x2="2227.16" y1="0" y2="0"><stop offset="0" stop-color="#6a6a6a"/><stop offset="0.037" stop-color="#6b6b6b"/><stop offset="0.0741" stop-color="#6f6f6f"/><stop offset="0.1111" stop-color="#5b5b5b"/><stop offset="0.1481" stop-color="#4b4b4b"/><stop offset="0.1852" stop-color="#494949"/><stop offset="0.2222" stop-color="#525252"/><stop offset="0.2593" stop-color="#5d5d5d"/><stop offset="0.2963" stop-color="#656565"/><stop offset="0.3333" stop-color="#717171"/><stop offset="0.3704" stop-color="#797979"/><stop offset="0.4074" stop-color="#868686"/><stop offset="0.4444" stop-color="#909090"/><stop offset="0.4815" stop-color="#979797"/><stop offset="0.5185" stop-color="#989898"/><stop offset="0.5556" stop-color="#989898"/><stop offset="0.5926" stop-color="#959595"/><stop offset="0.6296" stop-color="#909090"/><stop offset="0.6667" stop-color="#868686"/><stop offset="0.7037" stop-color="#7e7e7e"/><stop offset="0.7407" stop-color="#797979"/><stop offset="0.7778" stop-color="#797979"/><stop offset="0.8148" stop-color="#7e7e7e"/><stop offset="0.8519" stop-color="#8b8b8b"/><stop offset="0.8889" stop-color="#9d9d9d"/><stop offset="0.9259" stop-color="#a9a9a9"/><stop offset="0.963" stop-color="#a6a6a6"/><stop offset="1" stop-color="#a5a5a5"/></linearGradient><linearGradient id="mb19" gradientUnits="userSpaceOnUse" x1="1461.44" x2="2227.16" y1="0" y2="0"><stop offset="0" stop-color="#606060"/><stop offset="0.037" stop-color="#5e5e5e"/><stop offset="0.0741" stop-color="#5a5a5a"/><stop offset="0.1111" stop-color="#4e4e4e"/><stop offset="0.1481" stop-color="#373737"/><stop offset="0.1852" stop-color="#2f2f2f"/><stop offset="0.2222" stop-color="#444444"/><stop offset="0.2593" stop-color="#505050"/><stop offset="0.2963" stop-color="#5b5b5b"/><stop offset="0.3333" stop-color="#656565"/><stop offset="0.3704" stop-color="#717171"/><stop offset="0.4074" stop-color="#797979"/><stop offset="0.4444" stop-color="#7e7e7e"/><stop offset="0.4815" stop-color="#818181"/><stop offset="0.5185" stop-color="#838383"/><stop offset="0.5556" stop-color="#838383"/><stop offset="0.5926" stop-color="#7e7e7e"/><stop offset="0.6296" stop-color="#787878"/><stop offset="0.6667" stop-color="#717171"/><stop offset="0.7037" stop-color="#6b6b6b"/><stop offset="0.7407" stop-color="#6a6a6a"/><stop offset="0.7778" stop-color="#6e6e6e"/><stop offset="0.8148" stop-color="#777777"/><stop offset="0.8519" stop-color="#868686"/><stop offset="0.8889" stop-color="#989898"/><stop offset="0.9259" stop-color="#9c9c9c"/><stop offset="0.963" stop-color="#9e9e9e"/><stop offset="1" stop-color="#9e9e9e"/></linearGradient><linearGradient id="mb20" gradientUnits="userSpaceOnUse" x1="1461.44" x2="2227.16" y1="0" y2="0"><stop offset="0" stop-color="#565656"/><stop offset="0.037" stop-color="#545454"/><stop offset="0.0741" stop-color="#4d4d4d"/><stop offset="0.1111" stop-color="#3c3c3c"/><stop offset="0.1481" stop-color="#282828"/><stop offset="0.1852" stop-color="#212121"/><stop offset="0.2222" stop-color="#393939"/><stop offset="0.2593" stop-color="#494949"/><stop offset="0.2963" stop-color="#525252"/><stop offset="0.3333" stop-color="#5d5d5d"/><stop offset="0.3704" stop-color="#676767"/><stop offset="0.4074" stop-color="#6f6f6f"/><stop offset="0.4444" stop-color="#747474"/><stop offset="0.4815" stop-color="#777777"/><stop offset="0.5185" stop-color="#797979"/><stop offset="0.5556" stop-color="#797979"/><stop offset="0.5926" stop-color="#797979"/><stop offset="0.6296" stop-color="#6f6f6f"/><stop offset="0.6667" stop-color="#616161"/><stop offset="0.7037" stop-color="#5d5d5d"/><stop offset="0.7407" stop-color="#606060"/><stop offset="0.7778" stop-color="#666666"/><stop offset="0.8148" stop-color="#717171"/><stop offset="0.8519" stop-color="#838383"/><stop offset="0.8889" stop-color="#8d8d8d"/><stop offset="0.9259" stop-color="#939393"/><stop offset="0.963" stop-color="#969696"/><stop offset="1" stop-color="#989898"/></linearGradient><linearGradient id="mb21" gradientUnits="userSpaceOnUse" x1="1461.44" x2="2227.16" y1="0" y2="0"><stop offset="0" stop-color="#505050"/><stop offset="0.037" stop-color="#4e4e4e"/><stop offset="0.0741" stop-color="#494949"/><stop offset="0.1111" stop-color="#444444"/><stop offset="0.1481" stop-color="#252525"/><stop offset="0.1852" stop-color="#2a2a2a"/><stop offset="0.2222" stop-color="#3e3e3e"/><stop offset="0.2593" stop-color="#4b4b4b"/><stop offset="0.2963" stop-color="#535353"/><stop offset="0.3333" stop-color="#5d5d5d"/><stop offset="0.3704" stop-color="#676767"/><stop offset="0.4074" stop-color="#6c6c6c"/><stop offset="0.4444" stop-color="#717171"/><stop offset="0.4815" stop-color="#747474"/><stop offset="0.5185" stop-color="#747474"/><stop offset="0.5556" stop-color="#717171"/><stop offset="0.5926" stop-color="#676767"/><stop offset="0.6296" stop-color="#585858"/><stop offset="0.6667" stop-color="#474747"/><stop offset="0.7037" stop-color="#383838"/><stop offset="0.7407" stop-color="#4b4b4b"/><stop offset="0.7778" stop-color="#606060"/><stop offset="0.8148" stop-color="#6f6f6f"/><stop offset="0.8519" stop-color="#7e7e7e"/><stop offset="0.8889" stop-color="#878787"/><stop offset="0.9259" stop-color="#8d8d8d"/><stop offset="0.963" stop-color="#919191"/><stop offset="1" stop-color="#929292"/></linearGradient><linearGradient id="mb22" gradientUnits="userSpaceOnUse" x1="1461.44" x2="2227.16" y1="0" y2="0"><stop offset="0" stop-color="#4c4c4c"/><stop offset="0.037" stop-color="#4a4a4a"/><stop offset="0.0741" stop-color="#464646"/><stop offset="0.1111" stop-color="#404040"/><stop offset="0.1481" stop-color="#363636"/><stop offset="0.1852" stop-color="#373737"/><stop offset="0.2222" stop-color="#414141"/><stop offset="0.2593" stop-color="#4a4a4a"/><stop offset="0.2963" stop-color="#535353"/><stop offset="0.3333" stop-color="#5b5b5b"/><stop offset="0.3704" stop-color="#636363"/><stop offset="0.4074" stop-color="#696969"/><stop offset="0.4444" stop-color="#6d6d6d"/><stop offset="0.4815" stop-color="#6f6f6f"/><stop offset="0.5185" stop-color="#6e6e6e"/><stop offset="0.5556" stop-color="#6a6a6a"/><stop offset="0.5926" stop-color="#626262"/><stop offset="0.6296" stop-color="#565656"/><stop offset="0.6667" stop-color="#494949"/><stop offset="0.7037" stop-color="#333333"/><stop offset="0.7407" stop-color="#444444"/><stop offset="0.7778" stop-color="#585858"/><stop offset="0.8148" stop-color="#797979"/><stop offset="0.8519" stop-color="#7d7d7d"/><stop offset="0.8889" stop-color="#848484"/><stop offset="0.9259" stop-color="#898989"/><stop offset="0.963" stop-color="#8d8d8d"/><stop offset="1" stop-color="#8f8f8f"/></linearGradient><linearGradient id="mb23" gradientUnits="userSpaceOnUse" x1="1461.44" x2="2227.16" y1="0" y2="0"><stop offset="0" stop-color="#4a4a4a"/><stop offset="0.037" stop-color="#484848"/><stop offset="0.0741" stop-color="#454545"/><stop offset="0.1111" stop-color="#404040"/><stop offset="0.1481" stop-color="#3b3b3b"/><stop offset="0.1852" stop-color="#3c3c3c"/><stop offset="0.2222" stop-color="#424242"/><stop offset="0.2593" stop-color="#4a4a4a"/><stop offset="0.2963" stop-color="#535353"/><stop offset="0.3333" stop-color="#5b5b5b"/><stop offset="0.3704" stop-color="#626262"/><stop offset="0.4074" stop-color="#676767"/><stop offset="0.4444" stop-color="#6b6b6b"/><stop offset="0.4815" stop-color="#6c6c6c"/><stop offset="0.5185" stop-color="#6b6b6b"/><stop offset="0.5556" stop-color="#676767"/><stop offset="0.5926" stop-color="#5f5f5f"/><stop offset="0.6296" stop-color="#555555"/><stop offset="0.6667" stop-color="#4b4b4b"/><stop offset="0.7037" stop-color="#434343"/><stop offset="0.7407" stop-color="#4c4c4c"/><stop offset="0.7778" stop-color="#5c5c5c"/><stop offset="0.8148" stop-color="#707070"/><stop offset="0.8519" stop-color="#7a7a7a"/><stop offset="0.8889" stop-color="#828282"/><stop offset="0.9259" stop-color="#888888"/><stop offset="0.963" stop-color="#8b8b8b"/><stop offset="1" stop-color="#8d8d8d"/></linearGradient><filter id="mbf" filterUnits="userSpaceOnUse" x="1461.44" y="92.02" width="765.72" height="471.04" color-interpolation-filters="sRGB"><feGaussianBlur stdDeviation="4.5 4.5"/><feComponentTransfer><feFuncR type="discrete" tableValues="0 0 0 0 0 0 0 0 0 0 0 0 0 0 0 0 0 0 0 0.0474 0.0854 0.136 0.1866 0.2245 0.2751 0.3257 0.3637 0.4143 0.4649 0.5028 0.5534 0.604 0.642 0.6926 0.7432 0.7812 0.8318 0.8824 0.9203 0.9709 1 1 1 1 1 1 1 1 1 1"/><feFuncG type="discrete" tableValues="0 0 0 0.0333 0.0961 0.1588 0.2059 0.2686 0.3314 0.3784 0.4412 0.5039 0.551 0.6137 0.6608 0.7235 0.7863 0.8333 0.8961 0.9588 1 1 1 1 1 1 1 1 1 1 1 1 1 1 1 1 1 1 1 0.9593 0.9012 0.8577 0.7996 0.7415 0.6979 0.6398 0.5817 0.5381 0.48 0.4365"/><feFuncB type="discrete" tableValues="0.91 0.9813 1 1 1 1 1 1 1 1 1 1 1 1 1 1 1 1 0.9709 0.9203 0.8824 0.8318 0.7812 0.7432 0.6926 0.642 0.604 0.5534 0.5028 0.4649 0.4143 0.3637 0.3257 0.2751 0.2245 0.1866 0.136 0.0854 0.0474 0 0 0 0 0 0 0 0 0 0 0"/><feFuncA type="discrete" tableValues="1"/></feComponentTransfer></filter><clipPath id="mbc"><polygon points="1489.8,317.3 1546.52,276.34 1546.52,255.86 1574.88,235.38 1574.88,214.9 1603.24,194.42 1603.24,173.94 1631.6,194.42 1659.96,173.94 1659.96,153.46 1688.32,173.94 1716.68,153.46 1716.68,132.98 1745.04,153.46 1773.4,132.98 1801.76,132.98 1830.12,112.5 1830.12,132.98 1858.48,153.46 1886.84,132.98 1915.2,153.46 1943.56,132.98 1971.92,153.46 2000.28,132.98 2000.28,153.46 2028.64,173.94 2057,153.46 2057,173.94 2085.36,194.42 2085.36,214.9 2113.72,235.38 2113.72,255.86 2170.44,296.82 2170.44,317.3 2198.8,337.78 2170.44,358.26 2198.8,378.74 2170.44,399.22 2170.44,460.66 2113.72,501.62 2113.72,522.1 2085.36,542.58 2057,522.1 2028.64,522.1 2000.28,542.58 1971.92,542.58 1971.92,522.1 1943.56,501.62 1915.2,501.62 1886.84,481.14 1716.68,481.14 1659.96,522.1 1631.6,522.1 1603.24,501.62 1574.88,501.62 1546.52,522.1 1546.52,481.14 1518.16,460.66 1518.16,378.74 1489.8,358.26 1518.16,337.78"/></clipPath></defs><g clip-path="url(#mbc)"><g filter="url(#mbf)"><rect x="1461.44" y="91.62" width="765.72" height="21.28" fill="url(#mb0)"/><rect x="1461.44" y="92.02" width="765.72" height="20.48" fill="url(#mb1)" mask="url(#vm)"/><rect x="1461.44" y="112.1" width="765.72" height="21.28" fill="url(#mb1)"/><rect x="1461.44" y="112.5" width="765.72" height="20.48" fill="url(#mb2)" mask="url(#vm)"/><rect x="1461.44" y="132.58" width="765.72" height="21.28" fill="url(#mb2)"/><rect x="1461.44" y="132.98" width="765.72" height="20.48" fill="url(#mb3)" mask="url(#vm)"/><rect x="1461.44" y="153.06" width="765.72" height="21.28" fill="url(#mb3)"/><rect x="1461.44" y="153.46" width="765.72" height="20.48" fill="url(#mb4)" mask="url(#vm)"/><rect x="1461.44" y="173.54" width="765.72" height="21.28" fill="url(#mb4)"/><rect x="1461.44" y="173.94" width="765.72" height="20.48" fill="url(#mb5)" mask="url(#vm)"/><rect x="1461.44" y="194.02" width="765.72" height="21.28" fill="url(#mb5)"/><rect x="1461.44" y="194.42" width="765.72" height="20.48" fill="url(#mb6)" mask="url(#vm)"/><rect x="1461.44" y="214.5" width="765.72" height="21.28" fill="url(#mb6)"/><rect x="1461.44" y="214.9" width="765.72" height="20.48" fill="url(#mb7)" mask="url(#vm)"/><rect x="1461.44" y="234.98" width="765.72" height="21.28" fill="url(#mb7)"/><rect x="1461.44" y="235.38" width="765.72" height="20.48" fill="url(#mb8)" mask="url(#vm)"/><rect x="1461.44" y="255.46" width="765.72" height="21.28" fill="url(#mb8)"/><rect x="1461.44" y="255.86" width="765.72" height="20.48" fill="url(#mb9)" mask="url(#vm)"/><rect x="1461.44" y="275.94" width="765.72" height="21.28" fill="url(#mb9)"/><rect x="1461.44" y="276.34" width="765.72" height="20.48" fill="url(#mb10)" mask="url(#vm)"/><rect x="1461.44" y="296.42" width="765.72" height="21.28" fill="url(#mb10)"/><rect x="1461.44" y="296.82" width="765.72" height="20.48" fill="url(#mb11)" mask="url(#vm)"/><rect x="1461.44" y="316.9" width="765.72" height="21.28" fill="url(#mb11)"/><rect x="1461.44" y="317.3" width="765.72" height="20.48" fill="url(#mb12)" mask="url(#vm)"/><rect x="1461.44" y="337.38" width="765.72" height="21.28" fill="url(#mb12)"/><rect x="1461.44" y="337.78" width="765.72" height="20.48" fill="url(#mb13)" mask="url(#vm)"/><rect x="1461.44" y="357.86" width="765.72" height="21.28" fill="url(#mb13)"/><rect x="1461.44" y="358.26" width="765.72" height="20.48" fill="url(#mb14)" mask="url(#vm)"/><rect x="1461.44" y="378.34" width="765.72" height="21.28" fill="url(#mb14)"/><rect x="1461.44" y="378.74" width="765.72" height="20.48" fill="url(#mb15)" mask="url(#vm)"/><rect x="1461.44" y="398.82" width="765.72" height="21.28" fill="url(#mb15)"/><rect x="1461.44" y="399.22" width="765.72" height="20.48" fill="url(#mb16)" mask="url(#vm)"/><rect x="1461.44" y="419.3" width="765.72" height="21.28" fill="url(#mb16)"/><rect x="1461.44" y="419.7" width="765.72" height="20.48" fill="url(#mb17)" mask="url(#vm)"/><rect x="1461.44" y="439.78" width="765.72" height="21.28" fill="url(#mb17)"/><rect x="1461.44" y="440.18" width="765.72" height="20.48" fill="url(#mb18)" mask="url(#vm)"/><rect x="1461.44" y="460.26" width="765.72" height="21.28" fill="url(#mb18)"/><rect x="1461.44" y="460.66" width="765.72" height="20.48" fill="url(#mb19)" mask="url(#vm)"/><rect x="1461.44" y="480.74" width="765.72" height="21.28" fill="url(#mb19)"/><rect x="1461.44" y="481.14" width="765.72" height="20.48" fill="url(#mb20)" mask="url(#vm)"/><rect x="1461.44" y="501.22" width="765.72" height="21.28" fill="url(#mb20)"/><rect x="1461.44" y="501.62" width="765.72" height="20.48" fill="url(#mb21)" mask="url(#vm)"/><rect x="1461.44" y="521.7" width="765.72" height="21.28" fill="url(#mb21)"/><rect x="1461.44" y="522.1" width="765.72" height="20.48" fill="url(#mb22)" mask="url(#vm)"/><rect x="1461.44" y="542.18" width="765.72" height="21.28" fill="url(#mb22)"/><rect x="1461.44" y="542.58" width="765.72" height="20.48" fill="url(#mb23)" mask="url(#vm)"/></g></g><path d="M1404.7,554.6 1407,556.4 1414.2,561.8 1435.8,567.2 1443,567.8 1453.2,561.8 1468.2,569 1487.4,580.4 1489.8,583 1404.7,583ZM1492,583 1491,580.4 1485,566.6 1482.6,561.8 1480.8,558.8 1482.6,555.8 1488.6,554.2 1494.6,549.2 1504.2,545 1516.2,539.4 1521.6,538.4 1521,536 1518.6,535 1519.2,532.4 1525.8,529.4 1537.8,528.4 1560.6,529.4 1582.2,527.8 1599.6,523 1607.4,524.4 1624.2,535.4 1630.2,544.4 1635,561.8 1639.8,552.8 1641.6,543.8 1647,541.8 1654.2,542.6 1660.2,544.2 1672.2,545.6 1686.2,549.6 1699.4,554.4 1718.6,558 1728.8,560.4 1737.8,570 1753.4,576 1770.2,581.4 1774.2,583ZM1938.2,583 1942.4,580.9 1951.2,579 1966.2,572.8 1974.2,572.8 1979.8,576.6 1983.6,580.9 1985.2,583ZM1995,583 1993.6,580.3 1984.8,572.8 2001,567.2 2019.8,555.4 2034.7,549.1 2051.6,557.9 2055.3,554.7 2063.4,552 2083.4,549.1 2103.3,547 2114.6,535.8 2122,532.5 2133.3,527 2139.5,521.7 2148.2,504.8 2157,496.7 2170.7,483 2178.2,474.9 2187.5,465.6 2189.4,452.5 2194.7,440 2202.6,424.5 2219.3,349.7 2231.7,323.3 2246.6,266.9 2257.7,219.8 2274.6,137.1 2288.3,75.8 2291.5,43.5 2287.5,24.2 2288.3,20.2 2293.9,14.5 2297.2,11.3 2299.2,9.8 2312.3,9.8 2312.3,583Z" fill="#f3f2de" stroke="none"/><path d="M1404.7,554.6 1407,556.4 1414.2,561.8 1435.8,567.2 1443,567.8 1453.2,561.8 1468.2,569 1487.4,580.4 1489.8,583M1492,583 1491,580.4 1485,566.6 1482.6,561.8 1480.8,558.8 1482.6,555.8 1488.6,554.2 1494.6,549.2 1504.2,545 1516.2,539.4 1521.6,538.4 1521,536 1518.6,535 1519.2,532.4 1525.8,529.4 1537.8,528.4 1560.6,529.4 1582.2,527.8 1599.6,523 1607.4,524.4 1624.2,535.4 1630.2,544.4 1635,561.8 1639.8,552.8 1641.6,543.8 1647,541.8 1654.2,542.6 1660.2,544.2 1672.2,545.6 1686.2,549.6 1699.4,554.4 1718.6,558 1728.8,560.4 1737.8,570 1753.4,576 1770.2,581.4 1774.2,583M1938.2,583 1942.4,580.9 1951.2,579 1966.2,572.8 1974.2,572.8 1979.8,576.6 1983.6,580.9 1985.2,583M1995,583 1993.6,580.3 1984.8,572.8 2001,567.2 2019.8,555.4 2034.7,549.1 2051.6,557.9 2055.3,554.7 2063.4,552 2083.4,549.1 2103.3,547 2114.6,535.8 2122,532.5 2133.3,527 2139.5,521.7 2148.2,504.8 2157,496.7 2170.7,483 2178.2,474.9 2187.5,465.6 2189.4,452.5 2194.7,440 2202.6,424.5 2219.3,349.7 2231.7,323.3 2246.6,266.9 2257.7,219.8 2274.6,137.1 2288.3,75.8 2291.5,43.5 2287.5,24.2 2288.3,20.2 2293.9,14.5 2297.2,11.3 2299.2,9.8" fill="none" stroke="#000" stroke-width="2.6" stroke-linejoin="round" stroke-linecap="round"/><path d="M1494.8 9.8V583M1608.6 9.8V583M1722.4 9.8V583M1836.2 9.8V583M1950 9.8V583M2063.8 9.8V583M2177.6 9.8V583M2291.4 9.8V583M1404.65 92.3H2312.3M1404.65 183.34H2312.3M1404.65 274.38H2312.3M1404.65 365.42H2312.3M1404.65 456.46H2312.3M1404.65 547.5H2312.3" stroke="#000" stroke-opacity="0.5" stroke-width="1.1" stroke-dasharray="3 1.6" fill="none"/><rect x="1404.65" y="9.8" width="907.65" height="573.2" fill="none" stroke="#000" stroke-width="5.4"/><g font-family="DejaVu Sans, sans-serif" font-size="32"><text x="1494.8" y="623" text-anchor="middle">3°W</text><text x="1608.6" y="623" text-anchor="middle">2.75°W</text><text x="1722.4" y="623" text-anchor="middle">2.5°W</text><text x="1836.2" y="623" text-anchor="middle">2.25°W</text><text x="1950" y="623" text-anchor="middle">2°W</text><text x="2063.8" y="623" text-anchor="middle">1.75°W</text><text x="2177.6" y="623" text-anchor="middle">1.5°W</text><text x="2291.4" y="623" text-anchor="middle">1.25°W</text><text x="1389.6" y="100.7" text-anchor="end">44.4°N</text><text x="1389.6" y="191.74" text-anchor="end">44.2°N</text><text x="1389.6" y="282.78" text-anchor="end">44°N</text><text x="1389.6" y="373.82" text-anchor="end">43.8°N</text><text x="1389.6" y="464.86" text-anchor="end">43.6°N</text><text x="1389.6" y="555.9" text-anchor="end">43.4°N</text></g><text transform="translate(1411.3 73) scale(1 1.045)" font-family="Liberation Serif, serif" font-weight="bold" font-size="42">(b)</text><g font-family="DejaVu Sans, sans-serif" font-size="34.5"><rect x="2353.5" y="533.64" width="26.2" height="7.46" fill="#000084" shape-rendering="crispEdges"/><rect x="2353.5" y="526.67" width="26.2" height="7.46" fill="#000096" shape-rendering="crispEdges"/><rect x="2353.5" y="519.71" width="26.2" height="7.46" fill="#0000a8" shape-rendering="crispEdges"/><rect x="2353.5" y="512.74" width="26.2" height="7.46" fill="#0000b6" shape-rendering="crispEdges"/><rect x="2353.5" y="505.78" width="26.2" height="7.46" fill="#0000c8" shape-rendering="crispEdges"/><rect x="2353.5" y="498.82" width="26.2" height="7.46" fill="#0000da" shape-rendering="crispEdges"/><rect x="2353.5" y="491.85" width="26.2" height="7.46" fill="#0000e8" shape-rendering="crispEdges"/><rect x="2353.5" y="484.89" width="26.2" height="7.46" fill="#0000fa" shape-rendering="crispEdges"/><rect x="2353.5" y="477.92" width="26.2" height="7.46" fill="#0000ff" shape-rendering="crispEdges"/><rect x="2353.5" y="470.96" width="26.2" height="7.46" fill="#0008ff" shape-rendering="crispEdges"/><rect x="2353.5" y="464" width="26.2" height="7.46" fill="#0018ff" shape-rendering="crispEdges"/><rect x="2353.5" y="457.03" width="26.2" height="7.46" fill="#0028ff" shape-rendering="crispEdges"/><rect x="2353.5" y="450.07" width="26.2" height="7.46" fill="#0035ff" shape-rendering="crispEdges"/><rect x="2353.5" y="443.1" width="26.2" height="7.46" fill="#0045ff" shape-rendering="crispEdges"/><rect x="2353.5" y="436.14" width="26.2" height="7.46" fill="#0055ff" shape-rendering="crispEdges"/><rect x="2353.5" y="429.18" width="26.2" height="7.46" fill="#0060ff" shape-rendering="crispEdges"/><rect x="2353.5" y="422.21" width="26.2" height="7.46" fill="#0070ff" shape-rendering="crispEdges"/><rect x="2353.5" y="415.25" width="26.2" height="7.46" fill="#0080ff" shape-rendering="crispEdges"/><rect x="2353.5" y="408.28" width="26.2" height="7.46" fill="#008cff" shape-rendering="crispEdges"/><rect x="2353.5" y="401.32" width="26.2" height="7.46" fill="#009cff" shape-rendering="crispEdges"/><rect x="2353.5" y="394.36" width="26.2" height="7.46" fill="#00a9ff" shape-rendering="crispEdges"/><rect x="2353.5" y="387.39" width="26.2" height="7.46" fill="#00b9ff" shape-rendering="crispEdges"/><rect x="2353.5" y="380.43" width="26.2" height="7.46" fill="#00c9ff" shape-rendering="crispEdges"/><rect x="2353.5" y="373.46" width="26.2" height="7.46" fill="#00d4ff" shape-rendering="crispEdges"/><rect x="2353.5" y="366.5" width="26.2" height="7.46" fill="#00e4f8" shape-rendering="crispEdges"/><rect x="2353.5" y="359.54" width="26.2" height="7.46" fill="#0cf4eb" shape-rendering="crispEdges"/><rect x="2353.5" y="352.57" width="26.2" height="7.46" fill="#16ffe1" shape-rendering="crispEdges"/><rect x="2353.5" y="345.61" width="26.2" height="7.46" fill="#23ffd4" shape-rendering="crispEdges"/><rect x="2353.5" y="338.64" width="26.2" height="7.46" fill="#30ffc7" shape-rendering="crispEdges"/><rect x="2353.5" y="331.68" width="26.2" height="7.46" fill="#39ffbe" shape-rendering="crispEdges"/><rect x="2353.5" y="324.72" width="26.2" height="7.46" fill="#46ffb1" shape-rendering="crispEdges"/><rect x="2353.5" y="317.75" width="26.2" height="7.46" fill="#53ffa4" shape-rendering="crispEdges"/><rect x="2353.5" y="310.79" width="26.2" height="7.46" fill="#5dff9a" shape-rendering="crispEdges"/><rect x="2353.5" y="303.82" width="26.2" height="7.46" fill="#6aff8d" shape-rendering="crispEdges"/><rect x="2353.5" y="296.86" width="26.2" height="7.46" fill="#77ff80" shape-rendering="crispEdges"/><rect x="2353.5" y="289.9" width="26.2" height="7.46" fill="#80ff77" shape-rendering="crispEdges"/><rect x="2353.5" y="282.93" width="26.2" height="7.46" fill="#8dff6a" shape-rendering="crispEdges"/><rect x="2353.5" y="275.97" width="26.2" height="7.46" fill="#9aff5d" shape-rendering="crispEdges"/><rect x="2353.5" y="269" width="26.2" height="7.46" fill="#a4ff53" shape-rendering="crispEdges"/><rect x="2353.5" y="262.04" width="26.2" height="7.46" fill="#b1ff46" shape-rendering="crispEdges"/><rect x="2353.5" y="255.08" width="26.2" height="7.46" fill="#beff39" shape-rendering="crispEdges"/><rect x="2353.5" y="248.11" width="26.2" height="7.46" fill="#c7ff30" shape-rendering="crispEdges"/><rect x="2353.5" y="241.15" width="26.2" height="7.46" fill="#d4ff23" shape-rendering="crispEdges"/><rect x="2353.5" y="234.18" width="26.2" height="7.46" fill="#e1ff16" shape-rendering="crispEdges"/><rect x="2353.5" y="227.22" width="26.2" height="7.46" fill="#ebff0c" shape-rendering="crispEdges"/><rect x="2353.5" y="220.26" width="26.2" height="7.46" fill="#f8f500" shape-rendering="crispEdges"/><rect x="2353.5" y="213.29" width="26.2" height="7.46" fill="#ffe600" shape-rendering="crispEdges"/><rect x="2353.5" y="206.33" width="26.2" height="7.46" fill="#ffdb00" shape-rendering="crispEdges"/><rect x="2353.5" y="199.36" width="26.2" height="7.46" fill="#ffcc00" shape-rendering="crispEdges"/><rect x="2353.5" y="192.4" width="26.2" height="7.46" fill="#ffbd00" shape-rendering="crispEdges"/><rect x="2353.5" y="185.44" width="26.2" height="7.46" fill="#ffb200" shape-rendering="crispEdges"/><rect x="2353.5" y="178.47" width="26.2" height="7.46" fill="#ffa300" shape-rendering="crispEdges"/><rect x="2353.5" y="171.51" width="26.2" height="7.46" fill="#ff9400" shape-rendering="crispEdges"/><rect x="2353.5" y="164.54" width="26.2" height="7.46" fill="#ff8900" shape-rendering="crispEdges"/><rect x="2353.5" y="157.58" width="26.2" height="7.46" fill="#ff7a00" shape-rendering="crispEdges"/><rect x="2353.5" y="150.62" width="26.2" height="7.46" fill="#ff6f00" shape-rendering="crispEdges"/><rect x="2353.5" y="143.65" width="26.2" height="7.46" fill="#ff6000" shape-rendering="crispEdges"/><rect x="2353.5" y="136.69" width="26.2" height="7.46" fill="#ff5200" shape-rendering="crispEdges"/><rect x="2353.5" y="129.72" width="26.2" height="7.46" fill="#ff4700" shape-rendering="crispEdges"/><rect x="2353.5" y="122.76" width="26.2" height="7.46" fill="#ff3800" shape-rendering="crispEdges"/><rect x="2353.5" y="115.8" width="26.2" height="7.46" fill="#ff2900" shape-rendering="crispEdges"/><rect x="2353.5" y="108.83" width="26.2" height="7.46" fill="#ff1e00" shape-rendering="crispEdges"/><rect x="2353.5" y="101.87" width="26.2" height="7.46" fill="#fa0f00" shape-rendering="crispEdges"/><rect x="2353.5" y="94.9" width="26.2" height="7.46" fill="#e80000" shape-rendering="crispEdges"/><rect x="2353.5" y="87.94" width="26.2" height="7.46" fill="#da0000" shape-rendering="crispEdges"/><rect x="2353.5" y="80.98" width="26.2" height="7.46" fill="#c80000" shape-rendering="crispEdges"/><rect x="2353.5" y="74.01" width="26.2" height="7.46" fill="#b60000" shape-rendering="crispEdges"/><rect x="2353.5" y="67.05" width="26.2" height="7.46" fill="#a80000" shape-rendering="crispEdges"/><rect x="2353.5" y="60.08" width="26.2" height="7.46" fill="#960000" shape-rendering="crispEdges"/><rect x="2353.5" y="53.12" width="26.2" height="7.46" fill="#840000" shape-rendering="crispEdges"/><polygon points="2353.5,53.35 2366.6,27.6 2379.7,53.35" fill="#800000"/><polygon points="2353.5,540.4 2366.6,565.2 2379.7,540.4" fill="#000080"/><polygon points="2353.5,53.15 2366.6,27.6 2379.7,53.15 2379.7,540.6 2366.6,565.2 2353.5,540.6" fill="none" stroke="#000" stroke-width="2.2" stroke-linejoin="miter"/><text x="2400.4" y="554.2">0</text><text x="2400.4" y="484.56">10</text><text x="2400.4" y="414.92">20</text><text x="2400.4" y="345.28">30</text><text x="2400.4" y="275.64">40</text><text x="2400.4" y="206">50</text><text x="2400.4" y="136.36">60</text><text x="2400.4" y="66.72">70</text><path d="M2379.7 540.6H2390.7M2379.7 470.96H2390.7M2379.7 401.32H2390.7M2379.7 331.68H2390.7M2379.7 262.04H2390.7M2379.7 192.4H2390.7M2379.7 122.76H2390.7M2379.7 53.12H2390.7" stroke="#000" stroke-width="2"/></g><text transform="translate(2488 299.9) rotate(-90)" text-anchor="middle" font-family="DejaVu Serif, serif" font-weight="bold" font-size="40" textLength="198.6" lengthAdjust="spacingAndGlyphs">Ratio(%)</text><path d="M114.22 1160.7v-30.6h1.36v30.6zM115.82 1155.4v-100.8h1.36v100.8zM117.41 1154.3v-217.8h1.36v217.8zM119.01 1153.3v-177.5h1.36v177.5zM120.61 1147.6v-177.1h1.36v177.1zM122.2 1145.1v-139h1.36v139zM123.8 1134.9v-197.1h1.36v197.1zM125.39 1142.3v-234.6h1.36v234.6zM126.99 1170.2v-241.1h1.36v241.1zM128.59 1190.5v-61.6h1.36v61.6zM130.18 1188.6v-43.2h1.36v43.2zM131.78 1184.4v-51.5h1.36v51.5zM133.38 1182v-45.4h1.36v45.4zM134.97 1182.6v-117.8h1.36v117.8zM136.57 1173.7v-79.1h1.36v79.1zM138.16 1179.7v-67.1h1.36v67.1zM139.76 1171.5v-61h1.36v61zM141.36 1164.8v-50.5h1.36v50.5zM142.95 1168.8v-48.9h1.36v48.9zM144.55 1167.6v-25.4h1.36v25.4zM146.15 1169.6v-57.9h1.36v57.9zM147.74 1163v-53.1h1.36v53.1zM149.34 1175.3v-58.8h1.36v58.8zM150.94 1160.3v-56.7h1.36v56.7zM152.53 1160.8v-81.9h1.36v81.9zM154.13 1164.8v-57.3h1.36v57.3zM155.72 1176.5v-68h1.36v68zM157.32 1168v-62h1.36v62zM158.92 1164.5v-62.8h1.36v62.8zM160.51 1160.2v-82h1.36v82zM162.11 1163.7v-98.7h1.36v98.7zM163.71 1155.3v-98.4h1.36v98.4zM165.3 1161.9v-68.8h1.36v68.8zM166.9 1146.9v-109h1.36v109zM168.5 1134v-44.4h1.36v44.4zM170.09 1134.4v-49.3h1.36v49.3zM171.69 1122.7v-23.4h1.36v23.4zM173.28 1110v-51.2h1.36v51.2zM174.88 1108.5v-59.4h1.36v59.4zM176.48 1098.5v-153.5h1.36v153.5zM178.07 1097.6v-135.5h1.36v135.5zM179.67 1103.7v-107.7h1.36v107.7zM181.27 1114.7v-90.1h1.36v90.1zM182.86 1113v-76.6h1.36v76.6zM184.46 1112.5v-80.3h1.36v80.3zM186.05 1132v-50.1h1.36v50.1zM187.65 1130.3v-52.1h1.36v52.1zM189.25 1141.6v-27h1.36v27zM190.84 1166.3v-65.5h1.36v65.5zM192.44 1148.9v-18.5h1.36v18.5zM194.04 1163.4v-18.9h1.36v18.9zM195.63 1183.3v-32.3h1.36v32.3zM197.23 1190.4v-41.1h1.36v41.1zM198.83 1200.2v-55.3h1.36v55.3zM200.42 1212.7v-69h1.36v69zM202.02 1202.8v-74.1h1.36v74.1zM203.61 1199.3v-54.3h1.36v54.3zM205.21 1189v-42h1.36v42zM206.81 1179.5v-49.2h1.36v49.2zM208.4 1183.1v-81.3h1.36v81.3zM210 1175v-48.3h1.36v48.3zM211.6 1184.1v-59.4h1.36v59.4zM213.19 1165.1v-46.5h1.36v46.5zM214.79 1165.8v-26.5h1.36v26.5zM216.39 1157.9v-29.9h1.36v29.9zM217.98 1149.5v-36.1h1.36v36.1zM219.58 1145.7v-17.1h1.36v17.1zM221.17 1149.6v-28.1h1.36v28.1zM222.77 1166.2v-47.3h1.36v47.3zM224.37 1168.4v-24.6h1.36v24.6zM225.96 1166.5v-40.6h1.36v40.6zM227.56 1182.6v-72.3h1.36v72.3zM229.16 1184.7v-66.7h1.36v66.7zM230.75 1167.7v-54.1h1.36v54.1zM232.35 1156.8v-63.6h1.36v63.6zM233.95 1155.5v-42.5h1.36v42.5zM235.54 1157.2v-42.4h1.36v42.4zM237.14 1166.7v-112.2h1.36v112.2zM238.73 1148.3v-58.4h1.36v58.4zM240.33 1136.3v-10.6h1.36v10.6zM241.93 1144.3v-26.1h1.36v26.1zM243.52 1164v-54.4h1.36v54.4zM245.12 1153v-49h1.36v49zM246.72 1161v-49.6h1.36v49.6zM248.31 1168.1v-44.4h1.36v44.4zM249.91 1178.1v-80.3h1.36v80.3zM251.5 1178.5v-57.9h1.36v57.9zM253.1 1179.4v-49h1.36v49zM254.7 1172v-101h1.36v101zM256.29 1174.5v-51.6h1.36v51.6zM257.89 1178.3v-41.9h1.36v41.9zM259.49 1176.2v-122.2h1.36v122.2zM261.08 1180.5v-77.8h1.36v77.8zM262.68 1181.4v-91.7h1.36v91.7zM264.28 1179.6v-49.4h1.36v49.4zM265.87 1185.1v-166.8h1.36v166.8zM267.47 1201.4v-108.6h1.36v108.6zM269.06 1203.4v-74.7h1.36v74.7zM270.66 1221.1v-107.8h1.36v107.8zM272.26 1212.8v-123.7h1.36v123.7zM273.85 1195.3v-158.9h1.36v158.9zM275.45 1169v-31h1.36v31zM277.05 1144.1v-28.3h1.36v28.3zM278.64 1130.4v-6.6h1.36v6.6zM280.24 1151.8v-14.4h1.36v14.4zM281.84 1159.1v-16.4h1.36v16.4zM283.43 1161.4v-17.7h1.36v17.7zM285.03 1166.7v-15.6h1.36v15.6zM286.62 1176.9v-19.6h1.36v19.6zM288.22 1183.3v-29.3h1.36v29.3zM289.82 1184v-18.9h1.36v18.9zM291.41 1200.4v-40.4h1.36v40.4zM293.01 1203.6v-28.6h1.36v28.6zM294.61 1204.9v-40h1.36v40zM296.2 1209.7v-42.5h1.36v42.5zM297.8 1216.8v-57.3h1.36v57.3zM299.39 1196.7v-39.7h1.36v39.7zM300.99 1185.8v-35.4h1.36v35.4zM302.59 1162.9v-41.3h1.36v41.3zM304.18 1151.1v-58.5h1.36v58.5zM305.78 1137.9v-147.4h1.36v147.4zM307.38 1149.7v-157.9h1.36v157.9zM308.97 1158v-78.7h1.36v78.7zM310.57 1176.1v-57.5h1.36v57.5zM312.17 1180.9v-16.8h1.36v16.8zM313.76 1183.3v-15.4h1.36v15.4zM315.36 1202.5v-30.4h1.36v30.4zM316.95 1199.5v-59.8h1.36v59.8zM318.55 1201.5v-50.4h1.36v50.4zM320.15 1177.2v-37.6h1.36v37.6zM321.74 1168.8v-32.7h1.36v32.7zM323.34 1147.7v-10.7h1.36v10.7zM324.94 1137.1v-143.9h1.36v143.9zM326.53 1146.2v-17.4h1.36v17.4zM328.13 1146.8v-21h1.36v21zM329.73 1159.1v-28.6h1.36v28.6zM331.32 1181.1v-23.5h1.36v23.5zM332.92 1213.7v-96.2h1.36v96.2zM334.51 1211.4v-72.3h1.36v72.3zM336.11 1228.4v-87.8h1.36v87.8zM337.71 1234.7v-140.6h1.36v140.6zM339.3 1232.8v-107.6h1.36v107.6zM340.9 1229.7v-78.9h1.36v78.9zM342.5 1231v-142h1.36v142zM344.09 1239.1v-150h1.36v150zM345.69 1228.4v-241.5h1.36v241.5zM347.29 1214.3v-118.4h1.36v118.4zM348.88 1216.1v-146.4h1.36v146.4zM350.48 1208.6v-108.5h1.36v108.5zM352.07 1210.1v-171h1.36v171zM353.67 1211v-160.9h1.36v160.9zM355.27 1206.5v-250.2h1.36v250.2zM356.86 1203.9v-181.1h1.36v181.1zM358.46 1198.1v-67.3h1.36v67.3zM360.06 1196.5v-99.8h1.36v99.8zM361.65 1198.6v-218.1h1.36v218.1zM363.25 1206.2v-157.6h1.36v157.6zM364.84 1204.7v-259.8h1.36v259.8zM366.44 1203.8v-182.3h1.36v182.3zM368.04 1208.6v-216.4h1.36v216.4zM369.63 1213.6v-218.4h1.36v218.4zM371.23 1208.3v-114.8h1.36v114.8zM372.83 1206.1v-114.9h1.36v114.9zM374.42 1219.6v-297.5h1.36v297.5zM376.02 1213.6v-99.9h1.36v99.9zM377.62 1214.2v-263.4h1.36v263.4zM379.21 1217.1v-254h1.36v254zM380.81 1203.7v-301.1h1.36v301.1zM382.4 1204.4v-97h1.36v97zM384 1203.3v-182h1.36v182zM385.6 1205.2v-129.8h1.36v129.8zM387.19 1200.2v-160.6h1.36v160.6zM388.79 1208.6v-141.9h1.36v141.9zM390.39 1212v-139.1h1.36v139.1zM391.98 1221.1v-124.8h1.36v124.8zM393.58 1224.9v-143.2h1.36v143.2zM395.18 1217.2v-91.3h1.36v91.3zM396.77 1228.3v-96.8h1.36v96.8zM398.37 1222.9v-130.6h1.36v130.6zM399.96 1221.6v-75.5h1.36v75.5zM401.56 1221.3v-108.6h1.36v108.6zM403.16 1218.6v-154.8h1.36v154.8zM404.75 1210.6v-127.2h1.36v127.2zM406.35 1226.3v-163.6h1.36v163.6zM407.95 1188.1v-198.8h1.36v198.8zM409.54 1159.7v-114.3h1.36v114.3zM411.14 1127.3v-107.6h1.36v107.6zM412.73 1054.2v-211h1.36v211zM414.33 1059.2v-63.7h1.36v63.7zM415.93 1100v-225.8h1.36v225.8zM417.52 1138.5v-264.8h1.36v264.8zM419.12 1122.9v-165.9h1.36v165.9zM420.72 1133.7v-121.6h1.36v121.6zM422.31 1150.7v-116.3h1.36v116.3zM423.91 1159.4v-110.5h1.36v110.5zM425.51 1169.4v-68h1.36v68zM427.1 1178.7v-67.8h1.36v67.8zM428.7 1186.5v-108.3h1.36v108.3zM430.29 1199.8v-126.3h1.36v126.3zM431.89 1199.7v-80.7h1.36v80.7zM433.49 1218.9v-92.5h1.36v92.5zM435.08 1217.4v-94.1h1.36v94.1zM436.68 1220.7v-81.9h1.36v81.9zM438.28 1208.8v-98.7h1.36v98.7zM439.87 1200.7v-195.1h1.36v195.1zM441.47 1187.5v-79.1h1.36v79.1zM443.07 1193.9v-41.8h1.36v41.8zM444.66 1201v-55.9h1.36v55.9zM446.26 1193.8v-40.3h1.36v40.3zM447.85 1205.3v-54.9h1.36v54.9zM449.45 1205v-44.6h1.36v44.6zM451.05 1205.8v-68.3h1.36v68.3zM452.64 1222.7v-60h1.36v60zM454.24 1221.9v-48.6h1.36v48.6zM455.84 1206.1v-66.3h1.36v66.3zM457.43 1201.8v-95h1.36v95zM459.03 1215.7v-97.4h1.36v97.4zM460.63 1194.6v-73.1h1.36v73.1zM462.22 1195.5v-67.6h1.36v67.6zM463.82 1209v-88h1.36v88zM465.41 1184.6v-212.8h1.36v212.8zM467.01 1190.5v-95.9h1.36v95.9zM468.61 1198.7v-101h1.36v101zM470.2 1193.9v-75.6h1.36v75.6zM471.8 1209.3v-107.1h1.36v107.1zM473.4 1205.1v-87.3h1.36v87.3zM474.99 1217.5v-165.3h1.36v165.3zM476.59 1222.5v-73.5h1.36v73.5zM478.18 1229.5v-201.9h1.36v201.9zM479.78 1229.1v-70.8h1.36v70.8zM481.38 1216.1v-97.7h1.36v97.7zM482.97 1211.8v-90.1h1.36v90.1zM484.57 1198.5v-79.5h1.36v79.5zM486.17 1188.8v-67.2h1.36v67.2zM487.76 1174.3v-51.1h1.36v51.1zM489.36 1198.5v-67.5h1.36v67.5zM490.96 1164.5v-167.7h1.36v167.7zM492.55 1161.1v-25.4h1.36v25.4zM494.15 1166.3v-39.9h1.36v39.9zM495.74 1177v-23.8h1.36v23.8zM497.34 1176v-48.4h1.36v48.4zM498.94 1173.7v-38.5h1.36v38.5zM500.53 1190.6v-32.5h1.36v32.5zM502.13 1185v-40.7h1.36v40.7zM503.73 1189.8v-42.9h1.36v42.9zM505.32 1187.3v-38.8h1.36v38.8zM506.92 1197.9v-44h1.36v44zM508.52 1228.5v-73.2h1.36v73.2zM510.11 1211.4v-67.8h1.36v67.8zM511.71 1221.9v-152h1.36v152zM513.3 1231.6v-152.2h1.36v152.2zM514.9 1221.1v-63.9h1.36v63.9zM516.5 1214.4v-82.5h1.36v82.5zM518.09 1224.7v-97.5h1.36v97.5zM519.69 1217v-131.1h1.36v131.1zM521.29 1184.4v-39.7h1.36v39.7zM522.88 1143.2v-145.8h1.36v145.8zM524.48 1132.5v-16h1.36v16zM526.07 1140.6v-16.7h1.36v16.7zM527.67 1148v-34.9h1.36v34.9zM529.27 1153.9v-51.1h1.36v51.1zM530.86 1156.9v-45h1.36v45zM532.46 1164.8v-60.4h1.36v60.4zM534.06 1174.3v-75.2h1.36v75.2zM535.65 1186.7v-74.7h1.36v74.7zM537.25 1185.8v-67h1.36v67zM538.85 1195.4v-26.8h1.36v26.8zM540.44 1194.1v-71.6h1.36v71.6zM542.04 1210.1v-50.2h1.36v50.2zM543.63 1211.2v-48.6h1.36v48.6zM545.23 1216.3v-66.1h1.36v66.1zM546.83 1226.6v-99.2h1.36v99.2zM548.42 1217.4v-69.6h1.36v69.6zM550.02 1219.5v-79h1.36v79zM551.62 1229.9v-83.7h1.36v83.7zM553.21 1226v-64.1h1.36v64.1zM554.81 1230.3v-72.7h1.36v72.7zM556.41 1245.3v-137.6h1.36v137.6zM558 1233.6v-34.1h1.36v34.1zM559.6 1231.1v-26.4h1.36v26.4zM561.19 1227.7v-62.1h1.36v62.1zM562.79 1229.5v-59.9h1.36v59.9zM564.39 1222.4v-57.4h1.36v57.4zM565.98 1216.9v-50.9h1.36v50.9zM567.58 1206.7v-38.1h1.36v38.1zM569.18 1206.9v-55.2h1.36v55.2zM570.77 1204.6v-47h1.36v47zM572.37 1196.5v-89.1h1.36v89.1zM573.97 1207.1v-44.5h1.36v44.5zM575.56 1209.3v-77.6h1.36v77.6zM577.16 1222.1v-88.5h1.36v88.5zM578.75 1199.7v-43.8h1.36v43.8zM580.35 1201.5v-55.9h1.36v55.9zM581.95 1203.1v-50.5h1.36v50.5zM583.54 1205.6v-47.8h1.36v47.8zM585.14 1208.3v-60.6h1.36v60.6zM586.74 1202.9v-59.3h1.36v59.3zM588.33 1199.6v-98.8h1.36v98.8zM589.93 1193.9v-60h1.36v60zM591.52 1186v-23.3h1.36v23.3zM593.12 1173.3v-15.6h1.36v15.6zM594.72 1172.1v-72.6h1.36v72.6zM596.31 1170.7v-34.8h1.36v34.8zM597.91 1168.3v-40.2h1.36v40.2zM599.51 1164.2v-47.6h1.36v47.6zM601.1 1159.1v-52.3h1.36v52.3zM602.7 1169.5v-48.7h1.36v48.7zM604.3 1190.1v-66.7h1.36v66.7zM605.89 1187.4v-66.5h1.36v66.5zM607.49 1208.9v-49.4h1.36v49.4zM609.08 1197.1v-43.1h1.36v43.1zM610.68 1213.1v-41.1h1.36v41.1zM612.28 1205.9v-42.5h1.36v42.5zM613.87 1209.6v-55h1.36v55zM615.47 1229v-29.7h1.36v29.7zM617.07 1216.1v-61.8h1.36v61.8zM618.66 1240.1v-88.3h1.36v88.3zM620.26 1215.8v-52.3h1.36v52.3zM621.86 1206.6v-203.3h1.36v203.3zM623.45 1188.7v-185.4h1.36v185.4zM625.05 1184.9v-40.5h1.36v40.5zM626.64 1172.1v-50.3h1.36v50.3zM628.24 1164.3v-82h1.36v82zM629.84 1170.2v-79.7h1.36v79.7zM631.43 1169.2v-52.4h1.36v52.4zM633.03 1162.2v-34.6h1.36v34.6zM634.63 1160.1v-17.7h1.36v17.7zM636.22 1164.6v-24.5h1.36v24.5zM637.82 1162.7v-19.5h1.36v19.5zM639.41 1161.2v-17.3h1.36v17.3zM641.01 1178.1v-24.5h1.36v24.5zM642.61 1185.9v-31.9h1.36v31.9zM644.2 1195.4v-50.5h1.36v50.5zM645.8 1196v-57.7h1.36v57.7zM647.4 1209.2v-100.9h1.36v100.9zM648.99 1214v-86.8h1.36v86.8zM650.59 1209v-43.6h1.36v43.6zM652.19 1223.4v-48.2h1.36v48.2zM653.78 1210.2v-66.2h1.36v66.2zM655.38 1210.1v-58.7h1.36v58.7zM656.97 1205.6v-42.5h1.36v42.5zM658.57 1200v-90.1h1.36v90.1zM660.17 1189.9v-41.6h1.36v41.6zM661.76 1196.4v-97.5h1.36v97.5zM663.36 1196.4v-72.3h1.36v72.3zM664.96 1206.9v-80.6h1.36v80.6zM666.55 1190.2v-48.2h1.36v48.2zM668.15 1186.6v-39.9h1.36v39.9zM669.75 1194v-59.3h1.36v59.3zM671.34 1208.5v-60.6h1.36v60.6zM672.94 1213.5v-101.1h1.36v101.1zM674.53 1215.5v-47.6h1.36v47.6zM676.13 1215.8v-74.1h1.36v74.1zM677.73 1222v-52.8h1.36v52.8zM679.32 1214v-58.4h1.36v58.4zM680.92 1195.6v-50.1h1.36v50.1zM682.52 1180.4v-26.3h1.36v26.3zM684.11 1161.2v-33.8h1.36v33.8zM685.71 1141.8v-25.2h1.36v25.2zM687.31 1124.7v-21.2h1.36v21.2zM688.9 1108.2v-87.6h1.36v87.6zM690.5 1104.2v-17.3h1.36v17.3zM692.09 1113v-6.9h1.36v6.9zM693.69 1120.4v-19.6h1.36v19.6zM695.29 1131.1v-33.7h1.36v33.7zM696.88 1125.6v-17.3h1.36v17.3zM698.48 1139.4v-23.8h1.36v23.8zM700.08 1151v-28.2h1.36v28.2zM701.67 1153.3v-31.5h1.36v31.5zM703.27 1167.5v-14h1.36v14zM704.86 1187.5v-24.7h1.36v24.7zM706.46 1209.6v-30.6h1.36v30.6zM708.06 1218.3v-22.7h1.36v22.7zM709.65 1195.4v-26.6h1.36v26.6zM711.25 1158.2v-29.3h1.36v29.3zM712.85 1120.7v-31.9h1.36v31.9zM714.44 1101.3v-23.7h1.36v23.7zM716.04 1096.9v-190.3h1.36v190.3zM717.64 1095.2v-39.7h1.36v39.7zM719.23 1086.1v-54.2h1.36v54.2zM720.83 1083v-35.5h1.36v35.5zM722.42 1083.7v-55h1.36v55zM724.02 1074.9v-35.9h1.36v35.9zM725.62 1075.5v-83.7h1.36v83.7zM727.21 1068v-24.8h1.36v24.8zM728.81 1078.3v-30.5h1.36v30.5zM730.41 1090.7v-35.7h1.36v35.7zM732 1120.2v-49.6h1.36v49.6zM733.6 1117.4v-45.4h1.36v45.4zM735.2 1126.7v-31.1h1.36v31.1zM736.79 1122.6v-18.8h1.36v18.8zM738.39 1117.3v-21.6h1.36v21.6zM739.98 1116.5v-32.9h1.36v32.9zM741.58 1110.5v-33.1h1.36v33.1zM743.18 1093.8v-19.8h1.36v19.8zM744.77 1091.6v-27.7h1.36v27.7zM746.37 1086.4v-32.6h1.36v32.6zM747.97 1080.6v-32.3h1.36v32.3zM749.56 1090.5v-44.8h1.36v44.8zM751.16 1083.5v-61.3h1.36v61.3zM752.75 1074.6v-59.7h1.36v59.7zM754.35 1079.5v-43.1h1.36v43.1zM755.95 1089.5v-46.3h1.36v46.3zM757.54 1090.2v-39.8h1.36v39.8zM759.14 1101.5v-47.4h1.36v47.4zM760.74 1116.3v-101.6h1.36v101.6zM762.33 1120.8v-58.6h1.36v58.6zM763.93 1117.6v-34.2h1.36v34.2zM765.53 1125.7v-31.3h1.36v31.3zM767.12 1141.9v-49.1h1.36v49.1zM768.72 1132.9v-31.8h1.36v31.8zM770.31 1140.1v-26.2h1.36v26.2zM771.91 1165v-22.4h1.36v22.4zM773.51 1167.6v-22.7h1.36v22.7zM775.1 1181v-50.1h1.36v50.1zM776.7 1195v-72h1.36v72zM778.3 1190.4v-63.6h1.36v63.6zM779.89 1206.1v-60.6h1.36v60.6zM781.49 1193.3v-57.2h1.36v57.2zM783.09 1196.4v-63.7h1.36v63.7zM784.68 1188v-36.5h1.36v36.5zM786.28 1203.5v-31.3h1.36v31.3zM787.87 1176.1v-52.7h1.36v52.7zM789.47 1162.8v-41.4h1.36v41.4zM791.07 1165.5v-57.7h1.36v57.7zM792.66 1151.4v-26.6h1.36v26.6zM794.26 1150.6v-46.5h1.36v46.5zM795.86 1153.9v-37.4h1.36v37.4zM797.45 1148v-43.6h1.36v43.6zM799.05 1143.1v-46h1.36v46zM800.65 1137.3v-26.6h1.36v26.6zM802.24 1146.6v-64.3h1.36v64.3zM803.84 1133.3v-61.8h1.36v61.8zM805.43 1132.9v-64.2h1.36v64.2zM807.03 1139.1v-61.1h1.36v61.1zM808.63 1142.8v-46.9h1.36v46.9zM810.22 1138.6v-39.6h1.36v39.6zM811.82 1137.2v-38.5h1.36v38.5zM813.42 1150.8v-60.6h1.36v60.6zM815.01 1152.2v-27.6h1.36v27.6zM816.61 1165v-59.8h1.36v59.8zM818.2 1176v-47.5h1.36v47.5zM819.8 1177.7v-33h1.36v33zM821.4 1192.5v-42.5h1.36v42.5zM822.99 1194.4v-71.8h1.36v71.8zM824.59 1205v-81.7h1.36v81.7zM826.19 1189.7v-86.9h1.36v86.9zM827.78 1181.3v-92.8h1.36v92.8zM829.38 1172.4v-33.9h1.36v33.9zM830.98 1155.5v-195.1h1.36v195.1zM832.57 1148.4v-188h1.36v188zM834.17 1135.8v-66.8h1.36v66.8zM835.76 1129.8v-56.3h1.36v56.3zM837.36 1125.4v-41.3h1.36v41.3zM838.96 1111.3v-25.4h1.36v25.4zM840.55 1099.7v-25.4h1.36v25.4zM842.15 1086.5v-8.5h1.36v8.5zM843.75 1085.9v-8.9h1.36v8.9zM845.34 1091.1v-10.9h1.36v10.9zM846.94 1105.2v-26.8h1.36v26.8zM848.54 1102.6v-15h1.36v15zM850.13 1117.9v-27.3h1.36v27.3zM851.73 1129.2v-33.1h1.36v33.1zM853.32 1127.2v-31h1.36v31zM854.92 1122.2v-16h1.36v16zM856.52 1133.8v-20.7h1.36v20.7zM858.11 1132v-127.4h1.36v127.4zM859.71 1129.1v-63.8h1.36v63.8zM861.31 1128.8v-81.6h1.36v81.6zM862.9 1120.9v-59.9h1.36v59.9zM864.5 1147.7v-59.9h1.36v59.9zM866.09 1156v-212.9h1.36v212.9zM867.69 1169.2v-125.9h1.36v125.9zM869.29 1193.7v-157.2h1.36v157.2zM870.88 1197.1v-106.3h1.36v106.3zM872.48 1199v-41h1.36v41zM874.08 1196.8v-68.4h1.36v68.4zM875.67 1208.2v-100.1h1.36v100.1zM877.27 1170.8v-72.8h1.36v72.8zM878.87 1174.6v-70h1.36v70zM880.46 1168.7v-69.2h1.36v69.2zM882.06 1165.9v-38.3h1.36v38.3zM883.65 1161.5v-60.1h1.36v60.1zM885.25 1157v-85.6h1.36v85.6zM886.85 1145.6v-31.2h1.36v31.2zM888.44 1156.3v-50.5h1.36v50.5zM890.04 1157.7v-60.2h1.36v60.2zM891.64 1166.1v-89.4h1.36v89.4zM893.23 1176.7v-100.5h1.36v100.5zM894.83 1176.7v-34.1h1.36v34.1zM896.43 1186.7v-161.9h1.36v161.9zM898.02 1206.9v-119.4h1.36v119.4zM899.62 1220.2v-102.4h1.36v102.4zM901.21 1213.8v-89.6h1.36v89.6zM902.81 1204.8v-58.8h1.36v58.8zM904.41 1221.4v-99.6h1.36v99.6zM906 1205.8v-71.4h1.36v71.4zM907.6 1208.6v-78.2h1.36v78.2zM909.2 1198v-52.2h1.36v52.2zM910.79 1205.1v-86.9h1.36v86.9zM912.39 1201.2v-55.8h1.36v55.8zM913.99 1206.3v-54.9h1.36v54.9zM915.58 1203.6v-84h1.36v84zM917.18 1192.1v-116.2h1.36v116.2zM918.77 1195.1v-68.6h1.36v68.6zM920.37 1203v-81.9h1.36v81.9zM921.97 1207.6v-75.6h1.36v75.6zM923.56 1213.1v-128.3h1.36v128.3zM925.16 1206.5v-139.9h1.36v139.9zM926.76 1204.9v-81.9h1.36v81.9zM928.35 1207.1v-122.6h1.36v122.6zM929.95 1210v-121.8h1.36v121.8zM931.54 1216.8v-78.8h1.36v78.8zM933.14 1214v-224.9h1.36v224.9zM934.74 1214.5v-91.4h1.36v91.4zM936.33 1208.5v-75.8h1.36v75.8zM937.93 1199.5v-171.4h1.36v171.4zM939.53 1203.6v-54.5h1.36v54.5zM941.12 1201.3v-78.7h1.36v78.7zM942.72 1199.2v-97.8h1.36v97.8zM944.32 1188.1v-146h1.36v146zM945.91 1182.4v-151.7h1.36v151.7zM947.51 1183.8v-106.2h1.36v106.2zM949.1 1193v-80.4h1.36v80.4zM950.7 1191.1v-96.9h1.36v96.9zM952.3 1199.1v-195h1.36v195zM953.89 1203.6v-145.4h1.36v145.4zM955.49 1211.5v-140.8h1.36v140.8zM957.09 1220.4v-106h1.36v106zM958.68 1227v-127.2h1.36v127.2zM960.28 1226.1v-153.5h1.36v153.5zM961.88 1227.3v-69.3h1.36v69.3zM963.47 1224.1v-109.4h1.36v109.4zM965.07 1226.3v-58.8h1.36v58.8zM966.66 1233.1v-112.5h1.36v112.5zM968.26 1228v-79.7h1.36v79.7zM969.86 1234.1v-84.8h1.36v84.8zM971.45 1246.4v-86.7h1.36v86.7zM973.05 1229.2v-140.2h1.36v140.2zM974.65 1236.5v-82.8h1.36v82.8zM976.24 1225.9v-141.4h1.36v141.4zM977.84 1224v-80.5h1.36v80.5zM979.43 1239.4v-111.8h1.36v111.8zM981.03 1226.5v-87.9h1.36v87.9zM982.63 1226.5v-146.5h1.36v146.5zM984.22 1229.7v-74.1h1.36v74.1zM985.82 1227.1v-139.8h1.36v139.8zM987.42 1228.3v-98.8h1.36v98.8zM989.01 1226.5v-144.4h1.36v144.4zM990.61 1232.4v-152.2h1.36v152.2zM992.21 1226.3v-111.9h1.36v111.9zM993.8 1221v-143.6h1.36v143.6zM995.4 1194v-89.7h1.36v89.7zM996.99 1177.5v-111.7h1.36v111.7zM998.59 1156.4v-55.1h1.36v55.1zM1000.19 1148.4v-172.5h1.36v172.5zM1001.78 1121.3v-100.3h1.36v100.3zM1003.38 1103.5v-59.2h1.36v59.2zM1004.98 1085.8v-132.7h1.36v132.7zM1006.57 1094.4v-52.8h1.36v52.8zM1008.17 1121.9v-152.8h1.36v152.8zM1009.77 1142.2v-58.3h1.36v58.3zM1011.36 1159.8v-33.4h1.36v33.4zM1012.96 1182.8v-121.4h1.36v121.4zM1014.55 1207.6v-142.3h1.36v142.3zM1016.15 1226.3v-92.5h1.36v92.5zM1017.75 1227.6v-87.5h1.36v87.5zM1019.34 1205.4v-69.4h1.36v69.4zM1020.94 1203.1v-108.6h1.36v108.6zM1022.54 1205.2v-86.1h1.36v86.1zM1024.13 1210.2v-103h1.36v103zM1025.73 1195.9v-110.7h1.36v110.7zM1027.33 1198.3v-187.3h1.36v187.3zM1028.92 1207.2v-299.3h1.36v299.3zM1030.52 1196.4v-79.9h1.36v79.9zM1032.11 1205.7v-122.8h1.36v122.8zM1033.71 1207.1v-290.9h1.36v290.9zM1035.31 1203.9v-115.9h1.36v115.9zM1036.9 1206.9v-192.2h1.36v192.2zM1038.5 1204.7v-131.3h1.36v131.3zM1040.1 1203v-138.7h1.36v138.7zM1041.69 1196.6v-138.8h1.36v138.8zM1043.29 1198.2v-167.7h1.36v167.7zM1044.88 1207.8v-113h1.36v113zM1046.48 1218.5v-183h1.36v183zM1048.08 1216.3v-184.5h1.36v184.5zM1049.67 1213.8v-114.4h1.36v114.4zM1051.27 1208.2v-93.7h1.36v93.7zM1052.87 1196.6v-133h1.36v133zM1054.46 1181v-79.7h1.36v79.7zM1056.06 1161.3v-72.2h1.36v72.2zM1057.66 1152.9v-202.1h1.36v202.1zM1059.25 1144.4v-155.4h1.36v155.4zM1060.85 1112.4v-205.8h1.36v205.8zM1062.44 1109.8v-263.6h1.36v263.6zM1064.04 1120.2v-151.4h1.36v151.4zM1065.64 1136.2v-167.7h1.36v167.7zM1067.23 1152.2v-88.1h1.36v88.1zM1068.83 1162.4v-63.4h1.36v63.4zM1070.43 1181.9v-110.6h1.36v110.6zM1072.02 1197v-126.4h1.36v126.4zM1073.62 1205.3v-268.6h1.36v268.6zM1075.22 1208.1v-162.1h1.36v162.1zM1076.81 1198.4v-96.4h1.36v96.4zM1078.41 1205.1v-129.2h1.36v129.2zM1080 1194.3v-92.8h1.36v92.8zM1081.6 1174v-181.1h1.36v181.1zM1083.2 1166.9v-150.6h1.36v150.6zM1084.79 1163.5v-100.4h1.36v100.4zM1086.39 1162.9v-52.3h1.36v52.3zM1087.99 1164.9v-37.7h1.36v37.7zM1089.58 1176.5v-101.1h1.36v101.1zM1091.18 1189.4v-71.1h1.36v71.1zM1092.77 1194.3v-69.6h1.36v69.6zM1094.37 1200v-67.9h1.36v67.9zM1095.97 1219.6v-211.8h1.36v211.8zM1097.56 1210.1v-143h1.36v143zM1099.16 1207.1v-68.9h1.36v68.9zM1100.76 1208.8v-148h1.36v148zM1102.35 1207.4v-82.3h1.36v82.3zM1103.95 1213.8v-95h1.36v95zM1105.55 1222v-96h1.36v96zM1107.14 1225.9v-77.6h1.36v77.6zM1108.74 1227.8v-120.7h1.36v120.7zM1110.33 1237.7v-77.2h1.36v77.2zM1111.93 1238.9v-75.3h1.36v75.3zM1113.53 1231.2v-97.2h1.36v97.2zM1115.12 1222.1v-93.1h1.36v93.1zM1116.72 1227.9v-106.2h1.36v106.2zM1118.32 1224.2v-62.5h1.36v62.5zM1119.91 1217.7v-62.4h1.36v62.4zM1121.51 1208.1v-74.1h1.36v74.1zM1123.11 1209.1v-99.5h1.36v99.5zM1124.7 1199.4v-95.6h1.36v95.6zM1126.3 1208.3v-140.8h1.36v140.8zM1127.89 1206.6v-63.5h1.36v63.5zM1129.49 1222.2v-112.9h1.36v112.9zM1131.09 1201.9v-48.7h1.36v48.7zM1132.68 1202.3v-67.9h1.36v67.9zM1134.28 1215.9v-87.1h1.36v87.1zM1135.88 1214.4v-90.2h1.36v90.2zM1137.47 1209v-132.2h1.36v132.2zM1139.07 1214.8v-68.2h1.36v68.2zM1140.67 1220.3v-63.7h1.36v63.7zM1142.26 1209.9v-81.1h1.36v81.1zM1143.86 1213.1v-124.3h1.36v124.3zM1145.45 1216.1v-54h1.36v54zM1147.05 1222.1v-107.7h1.36v107.7zM1148.65 1226.2v-82.8h1.36v82.8zM1150.24 1224.5v-79.1h1.36v79.1zM1151.84 1221.7v-107.9h1.36v107.9zM1153.44 1242.1v-72.2h1.36v72.2zM1155.03 1228.8v-68.4h1.36v68.4zM1156.63 1222.3v-76.9h1.36v76.9zM1158.22 1223.8v-72.8h1.36v72.8zM1159.82 1215.9v-97.8h1.36v97.8zM1161.42 1216.4v-93h1.36v93zM1163.01 1220.5v-101.3h1.36v101.3zM1164.61 1214.8v-171.8h1.36v171.8zM1166.21 1215.5v-69.7h1.36v69.7zM1167.8 1211.3v-106.4h1.36v106.4zM1169.4 1219.4v-128.8h1.36v128.8zM1171 1237.2v-165.1h1.36v165.1zM1172.59 1211.1v-75.5h1.36v75.5zM1174.19 1205.9v-69.6h1.36v69.6zM1175.78 1201.4v-114.5h1.36v114.5zM1177.38 1192.9v-120.4h1.36v120.4zM1178.98 1173.9v-51.5h1.36v51.5zM1180.57 1149.4v-69.9h1.36v69.9zM1182.17 1139.1v-49.2h1.36v49.2zM1183.77 1125.3v-65.5h1.36v65.5zM1185.36 1108.1v-226.6h1.36v226.6zM1186.96 1128v-137.6h1.36v137.6zM1188.56 1156.5v-115.5h1.36v115.5zM1190.15 1183v-95.5h1.36v95.5zM1191.75 1202v-237.5h1.36v237.5zM1193.34 1209v-75.9h1.36v75.9zM1194.94 1199.9v-187.7h1.36v187.7zM1196.54 1198.6v-49.8h1.36v49.8zM1198.13 1197.3v-46.8h1.36v46.8zM1199.73 1196.8v-60.4h1.36v60.4zM1201.33 1202.1v-159.1h1.36v159.1zM1202.92 1200.5v-72.5h1.36v72.5zM1204.52 1208v-93.3h1.36v93.3zM1206.11 1207.5v-81h1.36v81zM1207.71 1210v-144.9h1.36v144.9zM1209.31 1200.8v-93.9h1.36v93.9zM1210.9 1206.7v-62.3h1.36v62.3zM1212.5 1211.7v-77.4h1.36v77.4zM1214.1 1210.8v-85.8h1.36v85.8zM1215.69 1210.1v-87.6h1.36v87.6zM1217.29 1207.5v-67.7h1.36v67.7zM1218.89 1216.4v-80.3h1.36v80.3zM1220.48 1209.2v-80.2h1.36v80.2zM1222.08 1198.2v-115.9h1.36v115.9zM1223.67 1178.3v-54.6h1.36v54.6zM1225.27 1180v-39h1.36v39zM1226.87 1180.7v-48.5h1.36v48.5zM1228.46 1171.4v-45.1h1.36v45.1zM1230.06 1161.8v-57.4h1.36v57.4zM1231.66 1169.3v-72.8h1.36v72.8zM1233.25 1166.9v-75.1h1.36v75.1zM1234.85 1155.6v-89.1h1.36v89.1zM1236.45 1154.6v-104.8h1.36v104.8zM1238.04 1151.3v-149.4h1.36v149.4zM1239.64 1152.2v-149.7h1.36v149.7zM1241.23 1136.9v-82.1h1.36v82.1zM1242.83 1139.5v-39.8h1.36v39.8zM1244.43 1147.9v-75.4h1.36v75.4zM1246.02 1152.2v-78h1.36v78zM1247.62 1166.9v-65.1h1.36v65.1zM1249.22 1157.7v-64.9h1.36v64.9zM1250.81 1162.3v-57.1h1.36v57.1zM1252.41 1161.8v-62h1.36v62zM1254.01 1163.2v-60.1h1.36v60.1zM1255.6 1171.6v-36.9h1.36v36.9zM1257.2 1180.4v-63.3h1.36v63.3zM1258.79 1173.6v-103.7h1.36v103.7zM1260.39 1180.2v-36.7h1.36v36.7zM1261.99 1181.4v-60.9h1.36v60.9zM1263.58 1184.7v-185.4h1.36v185.4zM1265.18 1187.2v-50.4h1.36v50.4zM1266.78 1197.4v-49.5h1.36v49.5zM1268.37 1180.8v-72.8h1.36v72.8zM1269.97 1179.8v-51.5h1.36v51.5zM1271.56 1172.2v-42.7h1.36v42.7zM1273.16 1165.2v-71.1h1.36v71.1zM1274.76 1172.8v-63.8h1.36v63.8zM1276.35 1179.8v-62.1h1.36v62.1zM1277.95 1173.3v-109.5h1.36v109.5zM1279.55 1170.7v-33.6h1.36v33.6zM1281.14 1164.3v-25.8h1.36v25.8zM1282.74 1163v-52.5h1.36v52.5zM1284.34 1172.7v-45.4h1.36v45.4zM1285.93 1163.9v-51.5h1.36v51.5zM1287.53 1171.6v-62h1.36v62zM1289.12 1164.5v-43.4h1.36v43.4zM1290.72 1166.4v-45.2h1.36v45.2zM1292.32 1168.3v-30.1h1.36v30.1zM1293.91 1168.3v-31.6h1.36v31.6zM1295.51 1177.9v-65.2h1.36v65.2zM1297.11 1187.2v-55.9h1.36v55.9zM1298.7 1199.8v-85.4h1.36v85.4zM1300.3 1198.6v-78.8h1.36v78.8zM1301.9 1171.4v-70h1.36v70zM1303.49 1146v-229.5h1.36v229.5zM1305.09 1125.8v-29.8h1.36v29.8zM1306.68 1106.4v-8h1.36v8zM1308.28 1108v-8.9h1.36v8.9zM1309.88 1106v-10h1.36v10zM1311.47 1119.6v-5.1h1.36v5.1zM1313.07 1128v-11.4h1.36v11.4zM1314.67 1136.1v-16.7h1.36v16.7zM1316.26 1141.8v-11.1h1.36v11.1zM1317.86 1151.2v-16h1.36v16zM1319.45 1157.6v-7.8h1.36v7.8zM1321.05 1166.1v-12.2h1.36v12.2zM1322.65 1159.3v-11h1.36v11zM1324.24 1161.4v-27.1h1.36v27.1zM1325.84 1153.2v-48.9h1.36v48.9zM1327.44 1153.1v-81.5h1.36v81.5zM1329.03 1161.2v-192.3h1.36v192.3zM1330.63 1144.9v-196.2h1.36v196.2zM1332.23 1151.7v-144h1.36v144zM1333.82 1144.8v-252.7h1.36v252.7zM1335.42 1128.4v-169.7h1.36v169.7zM1337.01 1120.8v-292.3h1.36v292.3zM1338.61 1110.6v-168.4h1.36v168.4zM1340.21 1094.4v-142.5h1.36v142.5zM1341.8 1107.8v-249.1h1.36v249.1zM1343.4 1110v-148.8h1.36v148.8zM1345 1115.6v-112.2h1.36v112.2zM1346.59 1112v-146h1.36v146zM1348.19 1132v-138.4h1.36v138.4zM1349.79 1144.8v-155.4h1.36v155.4zM1351.38 1127.9v-185.2h1.36v185.2zM1352.98 1117.9v-180.6h1.36v180.6zM1354.57 1113.2v-176.5h1.36v176.5zM1356.17 1107.3v-88.5h1.36v88.5zM1357.77 1117v-65.7h1.36v65.7zM1359.36 1103.8v-21h1.36v21zM1360.96 1111.7v-19.9h1.36v19.9zM1362.56 1124.2v-18h1.36v18zM1364.15 1129.8v-34.2h1.36v34.2zM1365.75 1148v-71.2h1.36v71.2zM1367.35 1177.4v-73.4h1.36v73.4zM1368.94 1167.7v-44.2h1.36v44.2zM1370.54 1177.9v-131.7h1.36v131.7zM1372.13 1182.5v-127h1.36v127zM1373.73 1159.2v-35.7h1.36v35.7zM1375.33 1153.8v-26.6h1.36v26.6zM1376.92 1144.1v-19.9h1.36v19.9zM1378.52 1149.1v-28.8h1.36v28.8zM1380.12 1153.8v-20.3h1.36v20.3zM1381.71 1158.7v-26.3h1.36v26.3zM1383.31 1167.2v-44.9h1.36v44.9zM1384.9 1175.8v-171h1.36v171zM1386.5 1176.1v-44.2h1.36v44.2zM1388.1 1189.5v-192.5h1.36v192.5zM1389.69 1203.3v-89.6h1.36v89.6zM1391.29 1187.8v-78.6h1.36v78.6zM1392.89 1185.7v-76.9h1.36v76.9zM1394.48 1179.7v-65.5h1.36v65.5zM1396.08 1176.1v-45.5h1.36v45.5zM1397.68 1169.6v-54.4h1.36v54.4zM1399.27 1167.3v-47.5h1.36v47.5zM1400.87 1162.2v-26.9h1.36v26.9zM1402.46 1167.8v-53.6h1.36v53.6zM1404.06 1170.6v-36.6h1.36v36.6zM1405.66 1173.9v-54.5h1.36v54.5zM1407.25 1184.9v-67.8h1.36v67.8zM1408.85 1181.6v-74.1h1.36v74.1zM1410.45 1178.9v-59.8h1.36v59.8zM1412.04 1182.7v-74.2h1.36v74.2zM1413.64 1170.6v-28.9h1.36v28.9zM1415.24 1150.7v-21.2h1.36v21.2zM1416.83 1151.2v-38h1.36v38zM1418.43 1153v-65.8h1.36v65.8zM1420.02 1149.7v-66h1.36v66zM1421.62 1138v-107.1h1.36v107.1zM1423.22 1132.1v-54.9h1.36v54.9zM1424.81 1130.4v-136.1h1.36v136.1zM1426.41 1122.6v-123.3h1.36v123.3zM1428.01 1131.1v-121.2h1.36v121.2zM1429.6 1111.5v-54.2h1.36v54.2zM1431.2 1112.5v-33.7h1.36v33.7zM1432.79 1104.9v-10.3h1.36v10.3zM1434.39 1113v-9h1.36v9zM1435.99 1130.1v-12.5h1.36v12.5zM1437.58 1153.4v-11.9h1.36v11.9zM1439.18 1168v-29h1.36v29zM1440.78 1183.5v-31.6h1.36v31.6zM1442.37 1191.4v-43.4h1.36v43.4zM1443.97 1209.7v-52.9h1.36v52.9zM1445.57 1200.5v-128.3h1.36v128.3zM1447.16 1198.3v-132.5h1.36v132.5zM1448.76 1202.9v-147.4h1.36v147.4zM1450.35 1203.1v-86.3h1.36v86.3zM1451.95 1201.6v-54.7h1.36v54.7zM1453.55 1209.3v-86.3h1.36v86.3zM1455.14 1206.3v-80.8h1.36v80.8zM1456.74 1197.9v-67.3h1.36v67.3zM1458.34 1190.1v-89.6h1.36v89.6zM1459.93 1188.1v-68.5h1.36v68.5zM1461.53 1191.3v-70.5h1.36v70.5zM1463.13 1180.4v-104.3h1.36v104.3zM1464.72 1168.7v-80.2h1.36v80.2zM1466.32 1165.2v-93.9h1.36v93.9zM1467.91 1164.8v-86.5h1.36v86.5zM1469.51 1166.1v-91.7h1.36v91.7zM1471.11 1163.5v-206.1h1.36v206.1zM1472.7 1173.2v-84.3h1.36v84.3zM1474.3 1180.8v-90.6h1.36v90.6zM1475.9 1192.2v-87.3h1.36v87.3zM1477.49 1174.7v-90h1.36v90zM1479.09 1183v-148.1h1.36v148.1zM1480.69 1183.9v-151.8h1.36v151.8zM1482.28 1194.9v-101.5h1.36v101.5zM1483.88 1208.1v-105.9h1.36v105.9zM1485.47 1202.8v-96.2h1.36v96.2zM1487.07 1203v-82.8h1.36v82.8zM1488.67 1193.2v-62.2h1.36v62.2zM1490.26 1204.5v-88.7h1.36v88.7zM1491.86 1215.1v-110.2h1.36v110.2zM1493.46 1216.7v-74.9h1.36v74.9zM1495.05 1216.9v-104h1.36v104zM1496.65 1211.9v-100.3h1.36v100.3zM1498.24 1217.8v-137.1h1.36v137.1zM1499.84 1221.2v-154.1h1.36v154.1zM1501.44 1211.1v-95.2h1.36v95.2zM1503.03 1205.3v-64.2h1.36v64.2zM1504.63 1200.7v-71.9h1.36v71.9zM1506.23 1204.4v-86.5h1.36v86.5zM1507.82 1192.7v-91.7h1.36v91.7zM1509.42 1190.2v-104.2h1.36v104.2zM1511.02 1206.5v-52.9h1.36v52.9zM1512.61 1188.7v-72.1h1.36v72.1zM1514.21 1181.9v-80.1h1.36v80.1zM1515.8 1188.3v-39.1h1.36v39.1zM1517.4 1192v-80.4h1.36v80.4zM1519 1191.7v-37.1h1.36v37.1zM1520.59 1185.1v-67h1.36v67zM1522.19 1197.5v-51.2h1.36v51.2zM1523.79 1193.8v-116.1h1.36v116.1zM1525.38 1189.4v-60.1h1.36v60.1zM1526.98 1187.5v-70.3h1.36v70.3zM1528.58 1192.2v-55.6h1.36v55.6zM1530.17 1188.6v-51.5h1.36v51.5zM1531.77 1190.1v-79.7h1.36v79.7zM1533.36 1187.8v-204.7h1.36v204.7zM1534.96 1188.7v-209.4h1.36v209.4zM1536.56 1194v-111.3h1.36v111.3zM1538.15 1204.8v-152.7h1.36v152.7zM1539.75 1192.1v-119.2h1.36v119.2zM1541.35 1195v-140h1.36v140zM1542.94 1192.6v-213.3h1.36v213.3zM1544.54 1189.4v-140.8h1.36v140.8zM1546.13 1197.8v-100.2h1.36v100.2zM1547.73 1194v-89.8h1.36v89.8zM1549.33 1199.8v-85.6h1.36v85.6zM1550.92 1190.6v-99.5h1.36v99.5zM1552.52 1185.3v-80.4h1.36v80.4zM1554.12 1189.7v-49.8h1.36v49.8zM1555.71 1203v-126h1.36v126zM1557.31 1219.2v-295.2h1.36v295.2zM1558.91 1199.3v-244.2h1.36v244.2zM1560.5 1182.1v-226h1.36v226zM1562.1 1159.7v-202.3h1.36v202.3zM1563.69 1155.4v-55.3h1.36v55.3zM1565.29 1135.4v-64.3h1.36v64.3zM1566.89 1161.6v-87.3h1.36v87.3zM1568.48 1150.7v-47.8h1.36v47.8zM1570.08 1165.7v-69h1.36v69zM1571.68 1179.4v-62.1h1.36v62.1zM1573.27 1183.8v-54.7h1.36v54.7zM1574.87 1188.4v-53.5h1.36v53.5zM1576.47 1162.4v-222h1.36v222zM1578.06 1132v-74.9h1.36v74.9zM1579.66 1112.4v-40.8h1.36v40.8zM1581.25 1106.8v-74.7h1.36v74.7zM1582.85 1103.3v-29.7h1.36v29.7zM1584.45 1116.2v-76.9h1.36v76.9zM1586.04 1145.4v-101.4h1.36v101.4zM1587.64 1146.3v-101.9h1.36v101.9zM1589.24 1155.7v-124.4h1.36v124.4zM1590.83 1168.4v-160.2h1.36v160.2zM1592.43 1175.6v-158.2h1.36v158.2zM1594.03 1177.5v-153.6h1.36v153.6zM1595.62 1188v-202.5h1.36v202.5zM1597.22 1193.1v-165.2h1.36v165.2zM1598.81 1187.9v-187.7h1.36v187.7zM1600.41 1195v-149.6h1.36v149.6zM1602.01 1194.4v-129.1h1.36v129.1zM1603.6 1180.7v-129.8h1.36v129.8zM1605.2 1184.3v-55.7h1.36v55.7zM1606.8 1188.2v-55.8h1.36v55.8zM1608.39 1180.6v-179.2h1.36v179.2zM1609.99 1174.5v-91.7h1.36v91.7zM1611.58 1177.6v-40.5h1.36v40.5zM1613.18 1189.6v-40.4h1.36v40.4zM1614.78 1190.4v-35.2h1.36v35.2zM1616.37 1193.4v-79.9h1.36v79.9zM1617.97 1203.8v-57h1.36v57zM1619.57 1203v-80.4h1.36v80.4zM1621.16 1206.3v-240.9h1.36v240.9zM1622.76 1210.7v-35.4h1.36v35.4zM1624.36 1212.1v-85.4h1.36v85.4zM1625.95 1210.7v-51h1.36v51zM1627.55 1228.4v-78.8h1.36v78.8zM1629.14 1215.8v-53.9h1.36v53.9zM1630.74 1208.7v-56.6h1.36v56.6zM1632.34 1195.3v-56.9h1.36v56.9zM1633.93 1192.7v-126.4h1.36v126.4zM1635.53 1183.7v-106.5h1.36v106.5zM1637.13 1176.2v-123.9h1.36v123.9zM1638.72 1172.2v-73h1.36v73zM1640.32 1163.1v-133.3h1.36v133.3zM1641.92 1174.4v-73.9h1.36v73.9zM1643.51 1166v-84.6h1.36v84.6zM1645.11 1166.7v-159.7h1.36v159.7zM1646.7 1153.6v-47h1.36v47zM1648.3 1152.7v-144.7h1.36v144.7zM1649.9 1178.3v-85.5h1.36v85.5zM1651.49 1184.6v-48.1h1.36v48.1zM1653.09 1185.5v-30.8h1.36v30.8zM1654.69 1193.9v-112.7h1.36v112.7zM1656.28 1204.7v-49.6h1.36v49.6zM1657.88 1218.7v-43h1.36v43zM1659.47 1220.3v-72.5h1.36v72.5zM1661.07 1218.3v-78.5h1.36v78.5zM1662.67 1220.2v-95h1.36v95zM1664.26 1216v-78.3h1.36v78.3zM1665.86 1229.4v-84.2h1.36v84.2zM1667.46 1216.5v-77.9h1.36v77.9zM1669.05 1220v-72.6h1.36v72.6zM1670.65 1207.8v-83.6h1.36v83.6zM1672.25 1209.4v-91.7h1.36v91.7zM1673.84 1209v-41.4h1.36v41.4zM1675.44 1200v-47.8h1.36v47.8zM1677.03 1202.1v-43.4h1.36v43.4zM1678.63 1199.5v-25.4h1.36v25.4zM1680.23 1196.5v-43.7h1.36v43.7zM1681.82 1183.3v-38.3h1.36v38.3zM1683.42 1173.9v-19.2h1.36v19.2zM1685.02 1166.3v-33.4h1.36v33.4zM1686.61 1165.9v-24.9h1.36v24.9zM1688.21 1155.8v-10.4h1.36v10.4zM1689.81 1164.1v-39.5h1.36v39.5zM1691.4 1169.2v-29.8h1.36v29.8zM1693 1169.8v-28.4h1.36v28.4zM1694.59 1172v-21.1h1.36v21.1zM1696.19 1183.1v-84.6h1.36v84.6zM1697.79 1187.7v-28.1h1.36v28.1zM1699.38 1190.2v-56.3h1.36v56.3zM1700.98 1192.1v-87.9h1.36v87.9zM1702.58 1198.5v-32.6h1.36v32.6zM1704.17 1192.7v-45.1h1.36v45.1zM1705.77 1201v-39h1.36v39zM1707.37 1200.9v-56.1h1.36v56.1zM1708.96 1199.7v-46.9h1.36v46.9zM1710.56 1179.4v-28.4h1.36v28.4zM1712.15 1164.1v-21.9h1.36v21.9zM1713.75 1151.8v-12.7h1.36v12.7zM1715.35 1125.9v-24.6h1.36v24.6zM1716.94 1117v-23.3h1.36v23.3zM1718.54 1097.9v-26.7h1.36v26.7zM1720.14 1091.9v-129.9h1.36v129.9zM1721.73 1090.3v-38.8h1.36v38.8zM1723.33 1079v-140.9h1.36v140.9zM1724.92 1072.6v-53.9h1.36v53.9zM1726.52 1108.4v-85.7h1.36v85.7zM1728.12 1143.2v-154.5h1.36v154.5zM1729.71 1180.3v-184.9h1.36v184.9zM1731.31 1217.4v-368h1.36v368zM1732.91 1151.9v-288.2h1.36v288.2zM1734.5 1099.9v-247.7h1.36v247.7zM1736.1 1028.8v-133.5h1.36v133.5zM1737.7 1050.5v-90.7h1.36v90.7zM1739.29 1073.2v-142h1.36v142zM1740.89 1098.7v-55.5h1.36v55.5zM1742.48 1107v-70h1.36v70zM1744.08 1130.6v-58h1.36v58zM1745.68 1147.8v-70.3h1.36v70.3zM1747.27 1166.2v-70h1.36v70zM1748.87 1178.8v-91.6h1.36v91.6zM1750.47 1187.1v-54.5h1.36v54.5zM1752.06 1179.3v-52.4h1.36v52.4zM1753.66 1188.7v-58.4h1.36v58.4zM1755.26 1181.3v-36.7h1.36v36.7zM1756.85 1188v-54.2h1.36v54.2zM1758.45 1179.4v-25.3h1.36v25.3zM1760.04 1179.8v-20.7h1.36v20.7zM1761.64 1174.1v-20.2h1.36v20.2zM1763.24 1161.9v-13.6h1.36v13.6zM1764.83 1160.6v-23.5h1.36v23.5zM1766.43 1147.8v-11.1h1.36v11.1zM1768.03 1141.9v-24.6h1.36v24.6zM1769.62 1138.7v-26h1.36v26zM1771.22 1122.1v-30.2h1.36v30.2zM1772.81 1108.7v-22.1h1.36v22.1zM1774.41 1088.2v-10.8h1.36v10.8zM1776.01 1075v-81.7h1.36v81.7zM1777.6 1055.4v-60.9h1.36v60.9zM1779.2 1088.4v-55.2h1.36v55.2zM1780.8 1097.3v-17.2h1.36v17.2zM1782.39 1106.8v-42.4h1.36v42.4zM1783.99 1128.7v-36.2h1.36v36.2zM1785.59 1150v-32.4h1.36v32.4zM1787.18 1147.2v-23.4h1.36v23.4zM1788.78 1160.2v-38.4h1.36v38.4zM1790.37 1160.1v-31.3h1.36v31.3zM1791.97 1156.4v-26h1.36v26zM1793.57 1171.6v-45.4h1.36v45.4zM1795.16 1187.8v-42.4h1.36v42.4zM1796.76 1189.9v-60.2h1.36v60.2zM1798.36 1188.5v-51.4h1.36v51.4zM1799.95 1184.2v-37.5h1.36v37.5zM1801.55 1194.8v-44.1h1.36v44.1zM1803.15 1196.4v-61.6h1.36v61.6zM1804.74 1188v-45.4h1.36v45.4zM1806.34 1196.6v-92.3h1.36v92.3zM1807.93 1190.6v-80h1.36v80zM1809.53 1193.4v-148.6h1.36v148.6zM1811.13 1193.5v-105.1h1.36v105.1zM1812.72 1188.2v-83.2h1.36v83.2zM1814.32 1191.5v-76.6h1.36v76.6zM1815.92 1175.8v-42.4h1.36v42.4zM1817.51 1178.2v-60.3h1.36v60.3zM1819.11 1170.3v-63.6h1.36v63.6zM1820.71 1160.7v-41.1h1.36v41.1zM1822.3 1162.8v-61.3h1.36v61.3zM1823.9 1171.4v-51.1h1.36v51.1zM1825.49 1155.8v-86.9h1.36v86.9zM1827.09 1147.8v-52h1.36v52zM1828.69 1151.3v-90h1.36v90zM1830.28 1146.7v-50.6h1.36v50.6zM1831.88 1137v-34.8h1.36v34.8zM1833.48 1135.8v-102.9h1.36v102.9zM1835.07 1108.9v-29.8h1.36v29.8zM1836.67 1123.5v-79.5h1.36v79.5zM1838.26 1091.1v-68.2h1.36v68.2zM1839.86 1070.8v-184.7h1.36v184.7zM1841.46 1070.7v-49.1h1.36v49.1zM1843.05 1074.1v-32.2h1.36v32.2zM1844.65 1079.2v-30h1.36v30zM1846.25 1092.9v-41.6h1.36v41.6zM1847.84 1089.9v-53.2h1.36v53.2zM1849.44 1114.3v-65h1.36v65zM1851.04 1115.3v-74.2h1.36v74.2zM1852.63 1126.7v-97h1.36v97zM1854.23 1125.3v-117.3h1.36v117.3zM1855.82 1120.8v-85.4h1.36v85.4zM1857.42 1122.2v-37.8h1.36v37.8zM1859.02 1116.3v-109.3h1.36v109.3zM1860.61 1104.7v-68.6h1.36v68.6zM1862.21 1102.5v-83.8h1.36v83.8zM1863.81 1120.2v-66.6h1.36v66.6zM1865.4 1085.6v-11.9h1.36v11.9zM1867 1081.7v-7.2h1.36v7.2zM1868.6 1096.8v-7.7h1.36v7.7zM1870.19 1103.3v-8.7h1.36v8.7zM1871.79 1098.4v-9h1.36v9zM1873.38 1127.1v-10.6h1.36v10.6zM1874.98 1152.2v-152h1.36v152zM1876.58 1175.4v-11.4h1.36v11.4zM1878.17 1178.8v-29h1.36v29zM1879.77 1179.1v-22.1h1.36v22.1zM1881.37 1181.4v-40.1h1.36v40.1zM1882.96 1177.2v-23.5h1.36v23.5zM1884.56 1183.9v-33.6h1.36v33.6zM1886.15 1187v-84.3h1.36v84.3zM1887.75 1191.8v-43h1.36v43zM1889.35 1188.5v-49.9h1.36v49.9zM1890.94 1190.9v-40.6h1.36v40.6zM1892.54 1185.3v-85.1h1.36v85.1zM1894.14 1177.4v-62.2h1.36v62.2zM1895.73 1178.4v-41.5h1.36v41.5zM1897.33 1176.6v-25.9h1.36v25.9zM1898.93 1175.9v-85.2h1.36v85.2zM1900.52 1174.9v-81.8h1.36v81.8zM1902.12 1172.5v-29.1h1.36v29.1zM1903.71 1169.1v-59.3h1.36v59.3zM1905.31 1161.1v-117.1h1.36v117.1zM1906.91 1164.7v-158.7h1.36v158.7zM1908.5 1150.5v-34.4h1.36v34.4zM1910.1 1156.3v-147.6h1.36v147.6zM1911.7 1169.1v-128.9h1.36v128.9zM1913.29 1176.3v-254.3h1.36v254.3zM1914.89 1184.6v-149.1h1.36v149.1zM1916.49 1181.1v-124.6h1.36v124.6zM1918.08 1151.3v-108.3h1.36v108.3zM1919.68 1110.9v-57.4h1.36v57.4zM1921.27 1088.1v-108.9h1.36v108.9zM1922.87 1063.5v-36.2h1.36v36.2zM1924.47 1026.2v-40.7h1.36v40.7zM1926.06 1065.6v-31.9h1.36v31.9zM1927.66 1090.6v-31h1.36v31zM1929.26 1119v-39.7h1.36v39.7zM1930.85 1127.1v-21.6h1.36v21.6zM1932.45 1140v-12.1h1.36v12.1zM1934.05 1139.3v-17.6h1.36v17.6zM1935.64 1129.3v-6.2h1.36v6.2zM1937.24 1138.1v-16.4h1.36v16.4zM1938.83 1142.7v-31h1.36v31zM1940.43 1136.1v-19.4h1.36v19.4zM1942.03 1127.3v-20.5h1.36v20.5zM1943.62 1131.6v-17.1h1.36v17.1zM1945.22 1136.6v-31.1h1.36v31.1zM1946.82 1134.5v-89.8h1.36v89.8zM1948.41 1132.2v-30.1h1.36v30.1zM1950.01 1136.8v-43.2h1.36v43.2zM1951.6 1144.3v-26h1.36v26zM1953.2 1130.1v-58.7h1.36v58.7zM1954.8 1131.9v-44.8h1.36v44.8zM1956.39 1125.7v-18.2h1.36v18.2zM1957.99 1120.7v-82.7h1.36v82.7zM1959.59 1111.4v-12.6h1.36v12.6zM1961.18 1132.5v-30.9h1.36v30.9zM1962.78 1137.2v-36.8h1.36v36.8zM1964.38 1142.9v-43h1.36v43zM1965.97 1160.7v-63.5h1.36v63.5zM1967.57 1149.6v-52.6h1.36v52.6zM1969.16 1163.7v-99.9h1.36v99.9zM1970.76 1172.3v-77h1.36v77zM1972.36 1181.7v-72.4h1.36v72.4zM1973.95 1182.8v-51.6h1.36v51.6zM1975.55 1192.8v-48.2h1.36v48.2zM1977.15 1188v-134.4h1.36v134.4zM1978.74 1198.8v-54.9h1.36v54.9zM1980.34 1194.1v-38.5h1.36v38.5zM1981.94 1188.6v-53.3h1.36v53.3zM1983.53 1183.9v-49h1.36v49zM1985.13 1186.5v-52.1h1.36v52.1zM1986.72 1183.7v-43.8h1.36v43.8zM1988.32 1188.6v-53.6h1.36v53.6zM1989.92 1181.7v-68.2h1.36v68.2zM1991.51 1166.7v-44.9h1.36v44.9zM1993.11 1180.8v-25.5h1.36v25.5zM1994.71 1170.6v-38.6h1.36v38.6zM1996.3 1178.5v-53.9h1.36v53.9zM1997.9 1179.4v-35.6h1.36v35.6zM1999.49 1166.6v-37h1.36v37zM2001.09 1165.6v-25.1h1.36v25.1zM2002.69 1167.5v-21.1h1.36v21.1zM2004.28 1171.7v-138.4h1.36v138.4zM2005.88 1182.7v-25.7h1.36v25.7zM2007.48 1178v-22.8h1.36v22.8zM2009.07 1201.6v-36.1h1.36v36.1zM2010.67 1187.4v-40.8h1.36v40.8zM2012.27 1188.2v-30.8h1.36v30.8zM2013.86 1190.7v-27.3h1.36v27.3zM2015.46 1195.3v-44.2h1.36v44.2zM2017.05 1206.8v-54.6h1.36v54.6zM2018.65 1205v-53.3h1.36v53.3zM2020.25 1207.5v-60.9h1.36v60.9zM2021.84 1197.3v-46.1h1.36v46.1zM2023.44 1194.4v-35.6h1.36v35.6zM2025.04 1199.6v-71.8h1.36v71.8zM2026.63 1197.4v-43.9h1.36v43.9zM2028.23 1191v-91h1.36v91zM2029.83 1197.9v-49.3h1.36v49.3zM2031.42 1206.8v-51.6h1.36v51.6zM2033.02 1188.8v-51.7h1.36v51.7zM2034.61 1186.5v-52.9h1.36v52.9zM2036.21 1201.9v-159.5h1.36v159.5zM2037.81 1183.3v-53h1.36v53zM2039.4 1174.8v-31.5h1.36v31.5zM2041 1166.7v-91.9h1.36v91.9zM2042.6 1168.8v-38.3h1.36v38.3zM2044.19 1180.7v-70.5h1.36v70.5zM2045.79 1188.8v-55.7h1.36v55.7zM2047.39 1197.8v-116.1h1.36v116.1zM2048.98 1198.6v-58.2h1.36v58.2zM2050.58 1207v-82.3h1.36v82.3zM2052.17 1213.3v-103.4h1.36v103.4zM2053.77 1195.8v-52.5h1.36v52.5zM2055.37 1201.6v-63.7h1.36v63.7zM2056.96 1206.2v-59.7h1.36v59.7zM2058.56 1200.5v-30.6h1.36v30.6zM2060.16 1199.3v-22.4h1.36v22.4zM2061.75 1194.3v-43.5h1.36v43.5zM2063.35 1185.8v-27.1h1.36v27.1zM2064.94 1194.9v-48.6h1.36v48.6zM2066.54 1207.2v-56.2h1.36v56.2zM2068.14 1211.3v-81.1h1.36v81.1zM2069.73 1202.6v-47.7h1.36v47.7zM2071.33 1206.9v-73.3h1.36v73.3zM2072.93 1205.3v-81.3h1.36v81.3zM2074.52 1199.4v-92.8h1.36v92.8zM2076.12 1190.9v-39.3h1.36v39.3zM2077.72 1177.4v-106.1h1.36v106.1zM2079.31 1163.5v-100.7h1.36v100.7zM2080.91 1152.2v-74.7h1.36v74.7zM2082.5 1141.3v-34.2h1.36v34.2zM2084.1 1130v-156.9h1.36v156.9zM2085.7 1151.6v-148.2h1.36v148.2zM2087.29 1180.6v-60.7h1.36v60.7zM2088.89 1192.6v-41.5h1.36v41.5zM2090.49 1190.3v-46.8h1.36v46.8zM2092.08 1190.2v-41.3h1.36v41.3zM2093.68 1182.1v-37h1.36v37zM2095.28 1185.5v-81.1h1.36v81.1zM2096.87 1195.5v-68.1h1.36v68.1zM2098.47 1171v-13.6h1.36v13.6zM2100.06 1177.9v-45h1.36v45zM2101.66 1188.3v-24.6h1.36v24.6zM2103.26 1192.8v-30.6h1.36v30.6zM2104.85 1200.1v-91.1h1.36v91.1zM2106.45 1221.9v-64.2h1.36v64.2zM2108.05 1210.2v-93h1.36v93zM2109.64 1193.8v-51.6h1.36v51.6zM2111.24 1183.1v-133.5h1.36v133.5zM2112.83 1181.5v-23.8h1.36v23.8zM2114.43 1180.9v-11.3h1.36v11.3zM2116.03 1181.9v-22.7h1.36v22.7zM2117.62 1196.2v-44h1.36v44zM2119.22 1204.5v-71.3h1.36v71.3zM2120.82 1195.9v-22.7h1.36v22.7zM2122.41 1213.1v-53h1.36v53zM2124.01 1223.4v-79.4h1.36v79.4zM2125.61 1221.7v-31.2h1.36v31.2zM2127.2 1226.1v-65.2h1.36v65.2zM2128.8 1236.2v-97.6h1.36v97.6zM2130.39 1220.4v-44.3h1.36v44.3zM2131.99 1216.8v-93h1.36v93zM2133.59 1209.6v-81.6h1.36v81.6zM2135.18 1194.2v-187.1h1.36v187.1zM2136.78 1186.8v-52.7h1.36v52.7zM2138.38 1189.2v-161.8h1.36v161.8zM2139.97 1181.6v-63.1h1.36v63.1zM2141.57 1177.4v-23.6h1.36v23.6zM2143.17 1161v-26.6h1.36v26.6zM2144.76 1183.6v-48.8h1.36v48.8zM2146.36 1188.1v-121h1.36v121zM2147.95 1206.4v-51.7h1.36v51.7zM2149.55 1219.3v-43.3h1.36v43.3zM2151.15 1227v-31.1h1.36v31.1zM2152.74 1229.4v-55.7h1.36v55.7zM2154.34 1225.3v-78.1h1.36v78.1zM2155.94 1227.9v-61.8h1.36v61.8zM2157.53 1230.7v-71.7h1.36v71.7zM2159.13 1227.6v-106.1h1.36v106.1zM2160.73 1231.7v-69.2h1.36v69.2zM2162.32 1215.5v-70h1.36v70zM2163.92 1210.3v-68h1.36v68zM2165.51 1212.8v-46.5h1.36v46.5zM2167.11 1208.2v-85.5h1.36v85.5zM2168.71 1204.7v-62.6h1.36v62.6zM2170.3 1210.9v-69.7h1.36v69.7zM2171.9 1218.4v-84.8h1.36v84.8zM2173.5 1215.4v-61.6h1.36v61.6zM2175.09 1211.9v-78.2h1.36v78.2zM2176.69 1195.3v-39.7h1.36v39.7zM2178.28 1202v-48.1h1.36v48.1zM2179.88 1190.5v-32.4h1.36v32.4zM2181.48 1189.1v-95.6h1.36v95.6zM2183.07 1186.9v-34.5h1.36v34.5zM2184.67 1193.7v-54.7h1.36v54.7zM2186.27 1203.2v-43.1h1.36v43.1zM2187.86 1207.4v-85.1h1.36v85.1zM2189.46 1216v-57.4h1.36v57.4zM2191.06 1226.7v-65.7h1.36v65.7zM2192.65 1215.2v-42.4h1.36v42.4zM2194.25 1222.4v-61.5h1.36v61.5zM2195.84 1202.1v-37.4h1.36v37.4zM2197.44 1215.4v-56.7h1.36v56.7zM2199.04 1206.5v-46.1h1.36v46.1zM2200.63 1209v-28.9h1.36v28.9zM2202.23 1195.6v-33.4h1.36v33.4zM2203.83 1193.5v-36.6h1.36v36.6zM2205.42 1167v-29.7h1.36v29.7zM2207.02 1150.5v-21.2h1.36v21.2zM2208.62 1151.4v-121.3h1.36v121.3zM2210.21 1140v-64.1h1.36v64.1zM2211.81 1146.4v-42h1.36v42zM2213.4 1141.4v-16.5h1.36v16.5zM2215 1144.7v-39.9h1.36v39.9zM2216.6 1158.2v-112.2h1.36v112.2zM2218.19 1151.1v-40.3h1.36v40.3zM2219.79 1151.9v-42.9h1.36v42.9zM2221.39 1153.2v-26.3h1.36v26.3zM2222.98 1166.9v-64.7h1.36v64.7zM2224.58 1177v-63.8h1.36v63.8zM2226.17 1191.8v-46.6h1.36v46.6zM2227.77 1185.8v-53.5h1.36v53.5zM2229.37 1178.4v-38.2h1.36v38.2zM2230.96 1182.3v-42.2h1.36v42.2zM2232.56 1180.3v-63.2h1.36v63.2zM2234.16 1180.8v-67.1h1.36v67.1zM2235.75 1162.2v-59.6h1.36v59.6zM2237.35 1147.1v-53h1.36v53zM2238.95 1160.5v-123.1h1.36v123.1zM2240.54 1167.4v-66.1h1.36v66.1zM2242.14 1179.8v-87.5h1.36v87.5zM2243.73 1194.7v-209.3h1.36v209.3zM2245.33 1186.7v-109.9h1.36v109.9zM2246.93 1195.3v-176.4h1.36v176.4zM2248.52 1188.6v-186.9h1.36v186.9zM2250.12 1182.4v-171.9h1.36v171.9zM2251.72 1176.6v-161.7h1.36v161.7zM2253.31 1176v-160.4h1.36v160.4zM2254.91 1184.3v-73.1h1.36v73.1zM2256.51 1205.8v-127.3h1.36v127.3zM2258.1 1197.3v-74.8h1.36v74.8zM2259.7 1196.5v-124h1.36v124zM2261.29 1205.3v-88h1.36v88zM2262.89 1214.2v-77.1h1.36v77.1zM2264.49 1234v-243.3h1.36v243.3zM2266.08 1209.7v-148h1.36v148zM2267.68 1211.6v-121.1h1.36v121.1zM2269.28 1205.6v-150.8h1.36v150.8zM2270.87 1201.2v-112.8h1.36v112.8zM2272.47 1187.4v-129.2h1.36v129.2zM2274.07 1179.6v-66.7h1.36v66.7zM2275.66 1169.1v-195.6h1.36v195.6zM2277.26 1187.4v-75.1h1.36v75.1zM2278.85 1176.5v-117.3h1.36v117.3zM2280.45 1166.8v-91.3h1.36v91.3zM2282.05 1170.1v-217.3h1.36v217.3zM2283.64 1168.5v-215.3h1.36v215.3zM2285.24 1157.7v-75.6h1.36v75.6zM2286.84 1166v-157.7h1.36v157.7zM2288.43 1170.1v-93.5h1.36v93.5zM2290.03 1168.8v-50.9h1.36v50.9zM2291.62 1166.7v-61.2h1.36v61.2zM2293.22 1177.5v-66.8h1.36v66.8zM2294.82 1196.6v-96.1h1.36v96.1zM2296.41 1205.3v-77.1h1.36v77.1zM2298.01 1207.8v-185h1.36v185zM2299.61 1218v-82h1.36v82zM2301.2 1226.4v-144.6h1.36v144.6zM2302.8 1213.7v-156.5h1.36v156.5zM2304.4 1207.8v-124.6h1.36v124.6zM2305.99 1212.2v-251.1h1.36v251.1zM2307.59 1198.7v-262.8h1.36v262.8zM2309.18 1187.7v-84h1.36v84zM2310.78 1189.4v-225.1h1.36v225.1zM2312.38 1202.9v-153.8h1.36v153.8zM2313.97 1199.4v-49.4h1.36v49.4zM2315.57 1198.2v-134.8h1.36v134.8zM2317.17 1201.5v-144.8h1.36v144.8zM2318.76 1223.3v-141.8h1.36v141.8zM2320.36 1208.7v-100.8h1.36v100.8zM2321.96 1217.3v-218.5h1.36v218.5zM2323.55 1202.3v-74.4h1.36v74.4zM2325.15 1193.3v-103.8h1.36v103.8zM2326.74 1188.6v-97.1h1.36v97.1zM2328.34 1174v-76.9h1.36v76.9zM2329.94 1158.6v-166.5h1.36v166.5zM2331.53 1129.5v-230.8h1.36v230.8zM2333.13 1115v-217.3h1.36v217.3zM2334.73 1127.3v-137.1h1.36v137.1zM2336.32 1116.4v-126.3h1.36v126.3zM2337.92 1137.6v-47.3h1.36v47.3zM2339.51 1149.3v-38h1.36v38zM2341.11 1175.6v-42.5h1.36v42.5zM2342.71 1179.3v-40.1h1.36v40.1zM2344.3 1185.1v-109.2h1.36v109.2zM2345.9 1188.9v-69.2h1.36v69.2zM2347.5 1200.5v-36.4h1.36v36.4zM2349.09 1209.7v-120.2h1.36v120.2zM2350.69 1209.1v-64.1h1.36v64.1zM2352.29 1221.3v-105.5h1.36v105.5zM2353.88 1219.7v-60.2h1.36v60.2zM2355.48 1208.1v-81.7h1.36v81.7zM2357.07 1209.4v-66.8h1.36v66.8zM2358.67 1203.1v-78.3h1.36v78.3zM2360.27 1210v-96h1.36v96zM2361.86 1185.4v-68.7h1.36v68.7zM2363.46 1184.3v-71.5h1.36v71.5zM2365.06 1186.4v-54.4h1.36v54.4zM2366.65 1162.6v-123.5h1.36v123.5zM2368.25 1159.8v-28.5h1.36v28.5zM2369.85 1146v-25.2h1.36v25.2zM2371.44 1136.9v-16.3h1.36v16.3zM2373.04 1142.9v-39.3h1.36v39.3zM2374.63 1136.3v-19.3h1.36v19.3zM2376.23 1136.4v-153.7h1.36v153.7zM2377.83 1137.3v-154.4h1.36v154.4zM2379.42 1113.4v-41.5h1.36v41.5z" fill="#1f77b4"/><path d="M114.22 1271.4v-111.3h1.36v111.3zM115.82 1271.4v-116.6h1.36v116.6zM117.41 1271.4v-117.7h1.36v117.7zM119.01 1271.4v-118.7h1.36v118.7zM120.61 1271.4v-124.4h1.36v124.4zM122.2 1271.4v-126.9h1.36v126.9zM123.8 1271.4v-137.1h1.36v137.1zM125.39 1271.4v-129.7h1.36v129.7zM126.99 1271.4v-101.8h1.36v101.8zM128.59 1271.4v-81.5h1.36v81.5zM130.18 1271.4v-83.4h1.36v83.4zM131.78 1271.4v-87.6h1.36v87.6zM133.38 1271.4v-90h1.36v90zM134.97 1271.4v-89.4h1.36v89.4zM136.57 1271.4v-98.3h1.36v98.3zM138.16 1271.4v-92.3h1.36v92.3zM139.76 1271.4v-100.5h1.36v100.5zM141.36 1271.4v-107.2h1.36v107.2zM142.95 1271.4v-103.2h1.36v103.2zM144.55 1271.4v-104.4h1.36v104.4zM146.15 1271.4v-102.4h1.36v102.4zM147.74 1271.4v-109h1.36v109zM149.34 1271.4v-96.7h1.36v96.7zM150.94 1271.4v-111.7h1.36v111.7zM152.53 1271.4v-111.2h1.36v111.2zM154.13 1271.4v-107.2h1.36v107.2zM155.72 1271.4v-95.5h1.36v95.5zM157.32 1271.4v-104h1.36v104zM158.92 1271.4v-107.5h1.36v107.5zM160.51 1271.4v-111.8h1.36v111.8zM162.11 1271.4v-108.3h1.36v108.3zM163.71 1271.4v-116.7h1.36v116.7zM165.3 1271.4v-110.1h1.36v110.1zM166.9 1271.4v-125.1h1.36v125.1zM168.5 1271.4v-138h1.36v138zM170.09 1271.4v-137.6h1.36v137.6zM171.69 1271.4v-149.3h1.36v149.3zM173.28 1271.4v-162h1.36v162zM174.88 1271.4v-163.5h1.36v163.5zM176.48 1271.4v-173.5h1.36v173.5zM178.07 1271.4v-174.4h1.36v174.4zM179.67 1271.4v-168.3h1.36v168.3zM181.27 1271.4v-157.3h1.36v157.3zM182.86 1271.4v-159h1.36v159zM184.46 1271.4v-159.5h1.36v159.5zM186.05 1271.4v-140h1.36v140zM187.65 1271.4v-141.7h1.36v141.7zM189.25 1271.4v-130.4h1.36v130.4zM190.84 1271.4v-105.7h1.36v105.7zM192.44 1271.4v-123.1h1.36v123.1zM194.04 1271.4v-108.6h1.36v108.6zM195.63 1271.4v-88.7h1.36v88.7zM197.23 1271.4v-81.6h1.36v81.6zM198.83 1271.4v-71.8h1.36v71.8zM200.42 1271.4v-59.3h1.36v59.3zM202.02 1271.4v-69.2h1.36v69.2zM203.61 1271.4v-72.7h1.36v72.7zM205.21 1271.4v-83h1.36v83zM206.81 1271.4v-92.5h1.36v92.5zM208.4 1271.4v-88.9h1.36v88.9zM210 1271.4v-97h1.36v97zM211.6 1271.4v-87.9h1.36v87.9zM213.19 1271.4v-106.9h1.36v106.9zM214.79 1271.4v-106.2h1.36v106.2zM216.39 1271.4v-114.1h1.36v114.1zM217.98 1271.4v-122.5h1.36v122.5zM219.58 1271.4v-126.3h1.36v126.3zM221.17 1271.4v-122.4h1.36v122.4zM222.77 1271.4v-105.8h1.36v105.8zM224.37 1271.4v-103.6h1.36v103.6zM225.96 1271.4v-105.5h1.36v105.5zM227.56 1271.4v-89.4h1.36v89.4zM229.16 1271.4v-87.3h1.36v87.3zM230.75 1271.4v-104.3h1.36v104.3zM232.35 1271.4v-115.2h1.36v115.2zM233.95 1271.4v-116.5h1.36v116.5zM235.54 1271.4v-114.8h1.36v114.8zM237.14 1271.4v-105.3h1.36v105.3zM238.73 1271.4v-123.7h1.36v123.7zM240.33 1271.4v-135.7h1.36v135.7zM241.93 1271.4v-127.7h1.36v127.7zM243.52 1271.4v-108h1.36v108zM245.12 1271.4v-119h1.36v119zM246.72 1271.4v-111h1.36v111zM248.31 1271.4v-103.9h1.36v103.9zM249.91 1271.4v-93.9h1.36v93.9zM251.5 1271.4v-93.5h1.36v93.5zM253.1 1271.4v-92.6h1.36v92.6zM254.7 1271.4v-100h1.36v100zM256.29 1271.4v-97.5h1.36v97.5zM257.89 1271.4v-93.7h1.36v93.7zM259.49 1271.4v-95.8h1.36v95.8zM261.08 1271.4v-91.5h1.36v91.5zM262.68 1271.4v-90.6h1.36v90.6zM264.28 1271.4v-92.4h1.36v92.4zM265.87 1271.4v-86.9h1.36v86.9zM267.47 1271.4v-70.6h1.36v70.6zM269.06 1271.4v-68.6h1.36v68.6zM270.66 1271.4v-50.9h1.36v50.9zM272.26 1271.4v-59.2h1.36v59.2zM273.85 1271.4v-76.7h1.36v76.7zM275.45 1271.4v-103h1.36v103zM277.05 1271.4v-127.9h1.36v127.9zM278.64 1271.4v-141.6h1.36v141.6zM280.24 1271.4v-120.2h1.36v120.2zM281.84 1271.4v-112.9h1.36v112.9zM283.43 1271.4v-110.6h1.36v110.6zM285.03 1271.4v-105.3h1.36v105.3zM286.62 1271.4v-95.1h1.36v95.1zM288.22 1271.4v-88.7h1.36v88.7zM289.82 1271.4v-88h1.36v88zM291.41 1271.4v-71.6h1.36v71.6zM293.01 1271.4v-68.4h1.36v68.4zM294.61 1271.4v-67.1h1.36v67.1zM296.2 1271.4v-62.3h1.36v62.3zM297.8 1271.4v-55.2h1.36v55.2zM299.39 1271.4v-75.3h1.36v75.3zM300.99 1271.4v-86.2h1.36v86.2zM302.59 1271.4v-109.1h1.36v109.1zM304.18 1271.4v-120.9h1.36v120.9zM305.78 1271.4v-134.1h1.36v134.1zM307.38 1271.4v-122.3h1.36v122.3zM308.97 1271.4v-114h1.36v114zM310.57 1271.4v-95.9h1.36v95.9zM312.17 1271.4v-91.1h1.36v91.1zM313.76 1271.4v-88.7h1.36v88.7zM315.36 1271.4v-69.5h1.36v69.5zM316.95 1271.4v-72.5h1.36v72.5zM318.55 1271.4v-70.5h1.36v70.5zM320.15 1271.4v-94.8h1.36v94.8zM321.74 1271.4v-103.2h1.36v103.2zM323.34 1271.4v-124.3h1.36v124.3zM324.94 1271.4v-134.9h1.36v134.9zM326.53 1271.4v-125.8h1.36v125.8zM328.13 1271.4v-125.2h1.36v125.2zM329.73 1271.4v-112.9h1.36v112.9zM331.32 1271.4v-90.9h1.36v90.9zM332.92 1271.4v-58.3h1.36v58.3zM334.51 1271.4v-60.6h1.36v60.6zM336.11 1271.4v-43.6h1.36v43.6zM337.71 1271.4v-37.3h1.36v37.3zM339.3 1271.4v-39.2h1.36v39.2zM340.9 1271.4v-42.3h1.36v42.3zM342.5 1271.4v-41h1.36v41zM344.09 1271.4v-32.9h1.36v32.9zM345.69 1271.4v-43.6h1.36v43.6zM347.29 1271.4v-57.7h1.36v57.7zM348.88 1271.4v-55.9h1.36v55.9zM350.48 1271.4v-63.4h1.36v63.4zM352.07 1271.4v-61.9h1.36v61.9zM353.67 1271.4v-61h1.36v61zM355.27 1271.4v-65.5h1.36v65.5zM356.86 1271.4v-68.1h1.36v68.1zM358.46 1271.4v-73.9h1.36v73.9zM360.06 1271.4v-75.5h1.36v75.5zM361.65 1271.4v-73.4h1.36v73.4zM363.25 1271.4v-65.8h1.36v65.8zM364.84 1271.4v-67.3h1.36v67.3zM366.44 1271.4v-68.2h1.36v68.2zM368.04 1271.4v-63.4h1.36v63.4zM369.63 1271.4v-58.4h1.36v58.4zM371.23 1271.4v-63.7h1.36v63.7zM372.83 1271.4v-65.9h1.36v65.9zM374.42 1271.4v-52.4h1.36v52.4zM376.02 1271.4v-58.4h1.36v58.4zM377.62 1271.4v-57.8h1.36v57.8zM379.21 1271.4v-54.9h1.36v54.9zM380.81 1271.4v-68.3h1.36v68.3zM382.4 1271.4v-67.6h1.36v67.6zM384 1271.4v-68.7h1.36v68.7zM385.6 1271.4v-66.8h1.36v66.8zM387.19 1271.4v-71.8h1.36v71.8zM388.79 1271.4v-63.4h1.36v63.4zM390.39 1271.4v-60h1.36v60zM391.98 1271.4v-50.9h1.36v50.9zM393.58 1271.4v-47.1h1.36v47.1zM395.18 1271.4v-54.8h1.36v54.8zM396.77 1271.4v-43.7h1.36v43.7zM398.37 1271.4v-49.1h1.36v49.1zM399.96 1271.4v-50.4h1.36v50.4zM401.56 1271.4v-50.7h1.36v50.7zM403.16 1271.4v-53.4h1.36v53.4zM404.75 1271.4v-61.4h1.36v61.4zM406.35 1271.4v-45.7h1.36v45.7zM407.95 1271.4v-83.9h1.36v83.9zM409.54 1271.4v-112.3h1.36v112.3zM411.14 1271.4v-144.7h1.36v144.7zM412.73 1271.4v-217.8h1.36v217.8zM414.33 1271.4v-212.8h1.36v212.8zM415.93 1271.4v-172h1.36v172zM417.52 1271.4v-133.5h1.36v133.5zM419.12 1271.4v-149.1h1.36v149.1zM420.72 1271.4v-138.3h1.36v138.3zM422.31 1271.4v-121.3h1.36v121.3zM423.91 1271.4v-112.6h1.36v112.6zM425.51 1271.4v-102.6h1.36v102.6zM427.1 1271.4v-93.3h1.36v93.3zM428.7 1271.4v-85.5h1.36v85.5zM430.29 1271.4v-72.2h1.36v72.2zM431.89 1271.4v-72.3h1.36v72.3zM433.49 1271.4v-53.1h1.36v53.1zM435.08 1271.4v-54.6h1.36v54.6zM436.68 1271.4v-51.3h1.36v51.3zM438.28 1271.4v-63.2h1.36v63.2zM439.87 1271.4v-71.3h1.36v71.3zM441.47 1271.4v-84.5h1.36v84.5zM443.07 1271.4v-78.1h1.36v78.1zM444.66 1271.4v-71h1.36v71zM446.26 1271.4v-78.2h1.36v78.2zM447.85 1271.4v-66.7h1.36v66.7zM449.45 1271.4v-67h1.36v67zM451.05 1271.4v-66.2h1.36v66.2zM452.64 1271.4v-49.3h1.36v49.3zM454.24 1271.4v-50.1h1.36v50.1zM455.84 1271.4v-65.9h1.36v65.9zM457.43 1271.4v-70.2h1.36v70.2zM459.03 1271.4v-56.3h1.36v56.3zM460.63 1271.4v-77.4h1.36v77.4zM462.22 1271.4v-76.5h1.36v76.5zM463.82 1271.4v-63h1.36v63zM465.41 1271.4v-87.4h1.36v87.4zM467.01 1271.4v-81.5h1.36v81.5zM468.61 1271.4v-73.3h1.36v73.3zM470.2 1271.4v-78.1h1.36v78.1zM471.8 1271.4v-62.7h1.36v62.7zM473.4 1271.4v-66.9h1.36v66.9zM474.99 1271.4v-54.5h1.36v54.5zM476.59 1271.4v-49.5h1.36v49.5zM478.18 1271.4v-42.5h1.36v42.5zM479.78 1271.4v-42.9h1.36v42.9zM481.38 1271.4v-55.9h1.36v55.9zM482.97 1271.4v-60.2h1.36v60.2zM484.57 1271.4v-73.5h1.36v73.5zM486.17 1271.4v-83.2h1.36v83.2zM487.76 1271.4v-97.7h1.36v97.7zM489.36 1271.4v-73.5h1.36v73.5zM490.96 1271.4v-107.5h1.36v107.5zM492.55 1271.4v-110.9h1.36v110.9zM494.15 1271.4v-105.7h1.36v105.7zM495.74 1271.4v-95h1.36v95zM497.34 1271.4v-96h1.36v96zM498.94 1271.4v-98.3h1.36v98.3zM500.53 1271.4v-81.4h1.36v81.4zM502.13 1271.4v-87h1.36v87zM503.73 1271.4v-82.2h1.36v82.2zM505.32 1271.4v-84.7h1.36v84.7zM506.92 1271.4v-74.1h1.36v74.1zM508.52 1271.4v-43.5h1.36v43.5zM510.11 1271.4v-60.6h1.36v60.6zM511.71 1271.4v-50.1h1.36v50.1zM513.3 1271.4v-40.4h1.36v40.4zM514.9 1271.4v-50.9h1.36v50.9zM516.5 1271.4v-57.6h1.36v57.6zM518.09 1271.4v-47.3h1.36v47.3zM519.69 1271.4v-55h1.36v55zM521.29 1271.4v-87.6h1.36v87.6zM522.88 1271.4v-128.8h1.36v128.8zM524.48 1271.4v-139.5h1.36v139.5zM526.07 1271.4v-131.4h1.36v131.4zM527.67 1271.4v-124h1.36v124zM529.27 1271.4v-118.1h1.36v118.1zM530.86 1271.4v-115.1h1.36v115.1zM532.46 1271.4v-107.2h1.36v107.2zM534.06 1271.4v-97.7h1.36v97.7zM535.65 1271.4v-85.3h1.36v85.3zM537.25 1271.4v-86.2h1.36v86.2zM538.85 1271.4v-76.6h1.36v76.6zM540.44 1271.4v-77.9h1.36v77.9zM542.04 1271.4v-61.9h1.36v61.9zM543.63 1271.4v-60.8h1.36v60.8zM545.23 1271.4v-55.7h1.36v55.7zM546.83 1271.4v-45.4h1.36v45.4zM548.42 1271.4v-54.6h1.36v54.6zM550.02 1271.4v-52.5h1.36v52.5zM551.62 1271.4v-42.1h1.36v42.1zM553.21 1271.4v-46h1.36v46zM554.81 1271.4v-41.7h1.36v41.7zM556.41 1271.4v-26.7h1.36v26.7zM558 1271.4v-38.4h1.36v38.4zM559.6 1271.4v-40.9h1.36v40.9zM561.19 1271.4v-44.3h1.36v44.3zM562.79 1271.4v-42.5h1.36v42.5zM564.39 1271.4v-49.6h1.36v49.6zM565.98 1271.4v-55.1h1.36v55.1zM567.58 1271.4v-65.3h1.36v65.3zM569.18 1271.4v-65.1h1.36v65.1zM570.77 1271.4v-67.4h1.36v67.4zM572.37 1271.4v-75.5h1.36v75.5zM573.97 1271.4v-64.9h1.36v64.9zM575.56 1271.4v-62.7h1.36v62.7zM577.16 1271.4v-49.9h1.36v49.9zM578.75 1271.4v-72.3h1.36v72.3zM580.35 1271.4v-70.5h1.36v70.5zM581.95 1271.4v-68.9h1.36v68.9zM583.54 1271.4v-66.4h1.36v66.4zM585.14 1271.4v-63.7h1.36v63.7zM586.74 1271.4v-69.1h1.36v69.1zM588.33 1271.4v-72.4h1.36v72.4zM589.93 1271.4v-78.1h1.36v78.1zM591.52 1271.4v-86h1.36v86zM593.12 1271.4v-98.7h1.36v98.7zM594.72 1271.4v-99.9h1.36v99.9zM596.31 1271.4v-101.3h1.36v101.3zM597.91 1271.4v-103.7h1.36v103.7zM599.51 1271.4v-107.8h1.36v107.8zM601.1 1271.4v-112.9h1.36v112.9zM602.7 1271.4v-102.5h1.36v102.5zM604.3 1271.4v-81.9h1.36v81.9zM605.89 1271.4v-84.6h1.36v84.6zM607.49 1271.4v-63.1h1.36v63.1zM609.08 1271.4v-74.9h1.36v74.9zM610.68 1271.4v-58.9h1.36v58.9zM612.28 1271.4v-66.1h1.36v66.1zM613.87 1271.4v-62.4h1.36v62.4zM615.47 1271.4v-43h1.36v43zM617.07 1271.4v-55.9h1.36v55.9zM618.66 1271.4v-31.9h1.36v31.9zM620.26 1271.4v-56.2h1.36v56.2zM621.86 1271.4v-65.4h1.36v65.4zM623.45 1271.4v-83.3h1.36v83.3zM625.05 1271.4v-87.1h1.36v87.1zM626.64 1271.4v-99.9h1.36v99.9zM628.24 1271.4v-107.7h1.36v107.7zM629.84 1271.4v-101.8h1.36v101.8zM631.43 1271.4v-102.8h1.36v102.8zM633.03 1271.4v-109.8h1.36v109.8zM634.63 1271.4v-111.9h1.36v111.9zM636.22 1271.4v-107.4h1.36v107.4zM637.82 1271.4v-109.3h1.36v109.3zM639.41 1271.4v-110.8h1.36v110.8zM641.01 1271.4v-93.9h1.36v93.9zM642.61 1271.4v-86.1h1.36v86.1zM644.2 1271.4v-76.6h1.36v76.6zM645.8 1271.4v-76h1.36v76zM647.4 1271.4v-62.8h1.36v62.8zM648.99 1271.4v-58h1.36v58zM650.59 1271.4v-63h1.36v63zM652.19 1271.4v-48.6h1.36v48.6zM653.78 1271.4v-61.8h1.36v61.8zM655.38 1271.4v-61.9h1.36v61.9zM656.97 1271.4v-66.4h1.36v66.4zM658.57 1271.4v-72h1.36v72zM660.17 1271.4v-82.1h1.36v82.1zM661.76 1271.4v-75.6h1.36v75.6zM663.36 1271.4v-75.6h1.36v75.6zM664.96 1271.4v-65.1h1.36v65.1zM666.55 1271.4v-81.8h1.36v81.8zM668.15 1271.4v-85.4h1.36v85.4zM669.75 1271.4v-78h1.36v78zM671.34 1271.4v-63.5h1.36v63.5zM672.94 1271.4v-58.5h1.36v58.5zM674.53 1271.4v-56.5h1.36v56.5zM676.13 1271.4v-56.2h1.36v56.2zM677.73 1271.4v-50h1.36v50zM679.32 1271.4v-58h1.36v58zM680.92 1271.4v-76.4h1.36v76.4zM682.52 1271.4v-91.6h1.36v91.6zM684.11 1271.4v-110.8h1.36v110.8zM685.71 1271.4v-130.2h1.36v130.2zM687.31 1271.4v-147.3h1.36v147.3zM688.9 1271.4v-163.8h1.36v163.8zM690.5 1271.4v-167.8h1.36v167.8zM692.09 1271.4v-159h1.36v159zM693.69 1271.4v-151.6h1.36v151.6zM695.29 1271.4v-140.9h1.36v140.9zM696.88 1271.4v-146.4h1.36v146.4zM698.48 1271.4v-132.6h1.36v132.6zM700.08 1271.4v-121h1.36v121zM701.67 1271.4v-118.7h1.36v118.7zM703.27 1271.4v-104.5h1.36v104.5zM704.86 1271.4v-84.5h1.36v84.5zM706.46 1271.4v-62.4h1.36v62.4zM708.06 1271.4v-53.7h1.36v53.7zM709.65 1271.4v-76.6h1.36v76.6zM711.25 1271.4v-113.8h1.36v113.8zM712.85 1271.4v-151.3h1.36v151.3zM714.44 1271.4v-170.7h1.36v170.7zM716.04 1271.4v-175.1h1.36v175.1zM717.64 1271.4v-176.8h1.36v176.8zM719.23 1271.4v-185.9h1.36v185.9zM720.83 1271.4v-189h1.36v189zM722.42 1271.4v-188.3h1.36v188.3zM724.02 1271.4v-197.1h1.36v197.1zM725.62 1271.4v-196.5h1.36v196.5zM727.21 1271.4v-204h1.36v204zM728.81 1271.4v-193.7h1.36v193.7zM730.41 1271.4v-181.3h1.36v181.3zM732 1271.4v-151.8h1.36v151.8zM733.6 1271.4v-154.6h1.36v154.6zM735.2 1271.4v-145.3h1.36v145.3zM736.79 1271.4v-149.4h1.36v149.4zM738.39 1271.4v-154.7h1.36v154.7zM739.98 1271.4v-155.5h1.36v155.5zM741.58 1271.4v-161.5h1.36v161.5zM743.18 1271.4v-178.2h1.36v178.2zM744.77 1271.4v-180.4h1.36v180.4zM746.37 1271.4v-185.6h1.36v185.6zM747.97 1271.4v-191.4h1.36v191.4zM749.56 1271.4v-181.5h1.36v181.5zM751.16 1271.4v-188.5h1.36v188.5zM752.75 1271.4v-197.4h1.36v197.4zM754.35 1271.4v-192.5h1.36v192.5zM755.95 1271.4v-182.5h1.36v182.5zM757.54 1271.4v-181.8h1.36v181.8zM759.14 1271.4v-170.5h1.36v170.5zM760.74 1271.4v-155.7h1.36v155.7zM762.33 1271.4v-151.2h1.36v151.2zM763.93 1271.4v-154.4h1.36v154.4zM765.53 1271.4v-146.3h1.36v146.3zM767.12 1271.4v-130.1h1.36v130.1zM768.72 1271.4v-139.1h1.36v139.1zM770.31 1271.4v-131.9h1.36v131.9zM771.91 1271.4v-107h1.36v107zM773.51 1271.4v-104.4h1.36v104.4zM775.1 1271.4v-91h1.36v91zM776.7 1271.4v-77h1.36v77zM778.3 1271.4v-81.6h1.36v81.6zM779.89 1271.4v-65.9h1.36v65.9zM781.49 1271.4v-78.7h1.36v78.7zM783.09 1271.4v-75.6h1.36v75.6zM784.68 1271.4v-84h1.36v84zM786.28 1271.4v-68.5h1.36v68.5zM787.87 1271.4v-95.9h1.36v95.9zM789.47 1271.4v-109.2h1.36v109.2zM791.07 1271.4v-106.5h1.36v106.5zM792.66 1271.4v-120.6h1.36v120.6zM794.26 1271.4v-121.4h1.36v121.4zM795.86 1271.4v-118.1h1.36v118.1zM797.45 1271.4v-124h1.36v124zM799.05 1271.4v-128.9h1.36v128.9zM800.65 1271.4v-134.7h1.36v134.7zM802.24 1271.4v-125.4h1.36v125.4zM803.84 1271.4v-138.7h1.36v138.7zM805.43 1271.4v-139.1h1.36v139.1zM807.03 1271.4v-132.9h1.36v132.9zM808.63 1271.4v-129.2h1.36v129.2zM810.22 1271.4v-133.4h1.36v133.4zM811.82 1271.4v-134.8h1.36v134.8zM813.42 1271.4v-121.2h1.36v121.2zM815.01 1271.4v-119.8h1.36v119.8zM816.61 1271.4v-107h1.36v107zM818.2 1271.4v-96h1.36v96zM819.8 1271.4v-94.3h1.36v94.3zM821.4 1271.4v-79.5h1.36v79.5zM822.99 1271.4v-77.6h1.36v77.6zM824.59 1271.4v-67h1.36v67zM826.19 1271.4v-82.3h1.36v82.3zM827.78 1271.4v-90.7h1.36v90.7zM829.38 1271.4v-99.6h1.36v99.6zM830.98 1271.4v-116.5h1.36v116.5zM832.57 1271.4v-123.6h1.36v123.6zM834.17 1271.4v-136.2h1.36v136.2zM835.76 1271.4v-142.2h1.36v142.2zM837.36 1271.4v-146.6h1.36v146.6zM838.96 1271.4v-160.7h1.36v160.7zM840.55 1271.4v-172.3h1.36v172.3zM842.15 1271.4v-185.5h1.36v185.5zM843.75 1271.4v-186.1h1.36v186.1zM845.34 1271.4v-180.9h1.36v180.9zM846.94 1271.4v-166.8h1.36v166.8zM848.54 1271.4v-169.4h1.36v169.4zM850.13 1271.4v-154.1h1.36v154.1zM851.73 1271.4v-142.8h1.36v142.8zM853.32 1271.4v-144.8h1.36v144.8zM854.92 1271.4v-149.8h1.36v149.8zM856.52 1271.4v-138.2h1.36v138.2zM858.11 1271.4v-140h1.36v140zM859.71 1271.4v-142.9h1.36v142.9zM861.31 1271.4v-143.2h1.36v143.2zM862.9 1271.4v-151.1h1.36v151.1zM864.5 1271.4v-124.3h1.36v124.3zM866.09 1271.4v-116h1.36v116zM867.69 1271.4v-102.8h1.36v102.8zM869.29 1271.4v-78.3h1.36v78.3zM870.88 1271.4v-74.9h1.36v74.9zM872.48 1271.4v-73h1.36v73zM874.08 1271.4v-75.2h1.36v75.2zM875.67 1271.4v-63.8h1.36v63.8zM877.27 1271.4v-101.2h1.36v101.2zM878.87 1271.4v-97.4h1.36v97.4zM880.46 1271.4v-103.3h1.36v103.3zM882.06 1271.4v-106.1h1.36v106.1zM883.65 1271.4v-110.5h1.36v110.5zM885.25 1271.4v-115h1.36v115zM886.85 1271.4v-126.4h1.36v126.4zM888.44 1271.4v-115.7h1.36v115.7zM890.04 1271.4v-114.3h1.36v114.3zM891.64 1271.4v-105.9h1.36v105.9zM893.23 1271.4v-95.3h1.36v95.3zM894.83 1271.4v-95.3h1.36v95.3zM896.43 1271.4v-85.3h1.36v85.3zM898.02 1271.4v-65.1h1.36v65.1zM899.62 1271.4v-51.8h1.36v51.8zM901.21 1271.4v-58.2h1.36v58.2zM902.81 1271.4v-67.2h1.36v67.2zM904.41 1271.4v-50.6h1.36v50.6zM906 1271.4v-66.2h1.36v66.2zM907.6 1271.4v-63.4h1.36v63.4zM909.2 1271.4v-74h1.36v74zM910.79 1271.4v-66.9h1.36v66.9zM912.39 1271.4v-70.8h1.36v70.8zM913.99 1271.4v-65.7h1.36v65.7zM915.58 1271.4v-68.4h1.36v68.4zM917.18 1271.4v-79.9h1.36v79.9zM918.77 1271.4v-76.9h1.36v76.9zM920.37 1271.4v-69h1.36v69zM921.97 1271.4v-64.4h1.36v64.4zM923.56 1271.4v-58.9h1.36v58.9zM925.16 1271.4v-65.5h1.36v65.5zM926.76 1271.4v-67.1h1.36v67.1zM928.35 1271.4v-64.9h1.36v64.9zM929.95 1271.4v-62h1.36v62zM931.54 1271.4v-55.2h1.36v55.2zM933.14 1271.4v-58h1.36v58zM934.74 1271.4v-57.5h1.36v57.5zM936.33 1271.4v-63.5h1.36v63.5zM937.93 1271.4v-72.5h1.36v72.5zM939.53 1271.4v-68.4h1.36v68.4zM941.12 1271.4v-70.7h1.36v70.7zM942.72 1271.4v-72.8h1.36v72.8zM944.32 1271.4v-83.9h1.36v83.9zM945.91 1271.4v-89.6h1.36v89.6zM947.51 1271.4v-88.2h1.36v88.2zM949.1 1271.4v-79h1.36v79zM950.7 1271.4v-80.9h1.36v80.9zM952.3 1271.4v-72.9h1.36v72.9zM953.89 1271.4v-68.4h1.36v68.4zM955.49 1271.4v-60.5h1.36v60.5zM957.09 1271.4v-51.6h1.36v51.6zM958.68 1271.4v-45h1.36v45zM960.28 1271.4v-45.9h1.36v45.9zM961.88 1271.4v-44.7h1.36v44.7zM963.47 1271.4v-47.9h1.36v47.9zM965.07 1271.4v-45.7h1.36v45.7zM966.66 1271.4v-38.9h1.36v38.9zM968.26 1271.4v-44h1.36v44zM969.86 1271.4v-37.9h1.36v37.9zM971.45 1271.4v-25.6h1.36v25.6zM973.05 1271.4v-42.8h1.36v42.8zM974.65 1271.4v-35.5h1.36v35.5zM976.24 1271.4v-46.1h1.36v46.1zM977.84 1271.4v-48h1.36v48zM979.43 1271.4v-32.6h1.36v32.6zM981.03 1271.4v-45.5h1.36v45.5zM982.63 1271.4v-45.5h1.36v45.5zM984.22 1271.4v-42.3h1.36v42.3zM985.82 1271.4v-44.9h1.36v44.9zM987.42 1271.4v-43.7h1.36v43.7zM989.01 1271.4v-45.5h1.36v45.5zM990.61 1271.4v-39.6h1.36v39.6zM992.21 1271.4v-45.7h1.36v45.7zM993.8 1271.4v-51h1.36v51zM995.4 1271.4v-78h1.36v78zM996.99 1271.4v-94.5h1.36v94.5zM998.59 1271.4v-115.6h1.36v115.6zM1000.19 1271.4v-123.6h1.36v123.6zM1001.78 1271.4v-150.7h1.36v150.7zM1003.38 1271.4v-168.5h1.36v168.5zM1004.98 1271.4v-186.2h1.36v186.2zM1006.57 1271.4v-177.6h1.36v177.6zM1008.17 1271.4v-150.1h1.36v150.1zM1009.77 1271.4v-129.8h1.36v129.8zM1011.36 1271.4v-112.2h1.36v112.2zM1012.96 1271.4v-89.2h1.36v89.2zM1014.55 1271.4v-64.4h1.36v64.4zM1016.15 1271.4v-45.7h1.36v45.7zM1017.75 1271.4v-44.4h1.36v44.4zM1019.34 1271.4v-66.6h1.36v66.6zM1020.94 1271.4v-68.9h1.36v68.9zM1022.54 1271.4v-66.8h1.36v66.8zM1024.13 1271.4v-61.8h1.36v61.8zM1025.73 1271.4v-76.1h1.36v76.1zM1027.33 1271.4v-73.7h1.36v73.7zM1028.92 1271.4v-64.8h1.36v64.8zM1030.52 1271.4v-75.6h1.36v75.6zM1032.11 1271.4v-66.3h1.36v66.3zM1033.71 1271.4v-64.9h1.36v64.9zM1035.31 1271.4v-68.1h1.36v68.1zM1036.9 1271.4v-65.1h1.36v65.1zM1038.5 1271.4v-67.3h1.36v67.3zM1040.1 1271.4v-69h1.36v69zM1041.69 1271.4v-75.4h1.36v75.4zM1043.29 1271.4v-73.8h1.36v73.8zM1044.88 1271.4v-64.2h1.36v64.2zM1046.48 1271.4v-53.5h1.36v53.5zM1048.08 1271.4v-55.7h1.36v55.7zM1049.67 1271.4v-58.2h1.36v58.2zM1051.27 1271.4v-63.8h1.36v63.8zM1052.87 1271.4v-75.4h1.36v75.4zM1054.46 1271.4v-91h1.36v91zM1056.06 1271.4v-110.7h1.36v110.7zM1057.66 1271.4v-119.1h1.36v119.1zM1059.25 1271.4v-127.6h1.36v127.6zM1060.85 1271.4v-159.6h1.36v159.6zM1062.44 1271.4v-162.2h1.36v162.2zM1064.04 1271.4v-151.8h1.36v151.8zM1065.64 1271.4v-135.8h1.36v135.8zM1067.23 1271.4v-119.8h1.36v119.8zM1068.83 1271.4v-109.6h1.36v109.6zM1070.43 1271.4v-90.1h1.36v90.1zM1072.02 1271.4v-75h1.36v75zM1073.62 1271.4v-66.7h1.36v66.7zM1075.22 1271.4v-63.9h1.36v63.9zM1076.81 1271.4v-73.6h1.36v73.6zM1078.41 1271.4v-66.9h1.36v66.9zM1080 1271.4v-77.7h1.36v77.7zM1081.6 1271.4v-98h1.36v98zM1083.2 1271.4v-105.1h1.36v105.1zM1084.79 1271.4v-108.5h1.36v108.5zM1086.39 1271.4v-109.1h1.36v109.1zM1087.99 1271.4v-107.1h1.36v107.1zM1089.58 1271.4v-95.5h1.36v95.5zM1091.18 1271.4v-82.6h1.36v82.6zM1092.77 1271.4v-77.7h1.36v77.7zM1094.37 1271.4v-72h1.36v72zM1095.97 1271.4v-52.4h1.36v52.4zM1097.56 1271.4v-61.9h1.36v61.9zM1099.16 1271.4v-64.9h1.36v64.9zM1100.76 1271.4v-63.2h1.36v63.2zM1102.35 1271.4v-64.6h1.36v64.6zM1103.95 1271.4v-58.2h1.36v58.2zM1105.55 1271.4v-50h1.36v50zM1107.14 1271.4v-46.1h1.36v46.1zM1108.74 1271.4v-44.2h1.36v44.2zM1110.33 1271.4v-34.3h1.36v34.3zM1111.93 1271.4v-33.1h1.36v33.1zM1113.53 1271.4v-40.8h1.36v40.8zM1115.12 1271.4v-49.9h1.36v49.9zM1116.72 1271.4v-44.1h1.36v44.1zM1118.32 1271.4v-47.8h1.36v47.8zM1119.91 1271.4v-54.3h1.36v54.3zM1121.51 1271.4v-63.9h1.36v63.9zM1123.11 1271.4v-62.9h1.36v62.9zM1124.7 1271.4v-72.6h1.36v72.6zM1126.3 1271.4v-63.7h1.36v63.7zM1127.89 1271.4v-65.4h1.36v65.4zM1129.49 1271.4v-49.8h1.36v49.8zM1131.09 1271.4v-70.1h1.36v70.1zM1132.68 1271.4v-69.7h1.36v69.7zM1134.28 1271.4v-56.1h1.36v56.1zM1135.88 1271.4v-57.6h1.36v57.6zM1137.47 1271.4v-63h1.36v63zM1139.07 1271.4v-57.2h1.36v57.2zM1140.67 1271.4v-51.7h1.36v51.7zM1142.26 1271.4v-62.1h1.36v62.1zM1143.86 1271.4v-58.9h1.36v58.9zM1145.45 1271.4v-55.9h1.36v55.9zM1147.05 1271.4v-49.9h1.36v49.9zM1148.65 1271.4v-45.8h1.36v45.8zM1150.24 1271.4v-47.5h1.36v47.5zM1151.84 1271.4v-50.3h1.36v50.3zM1153.44 1271.4v-29.9h1.36v29.9zM1155.03 1271.4v-43.2h1.36v43.2zM1156.63 1271.4v-49.7h1.36v49.7zM1158.22 1271.4v-48.2h1.36v48.2zM1159.82 1271.4v-56.1h1.36v56.1zM1161.42 1271.4v-55.6h1.36v55.6zM1163.01 1271.4v-51.5h1.36v51.5zM1164.61 1271.4v-57.2h1.36v57.2zM1166.21 1271.4v-56.5h1.36v56.5zM1167.8 1271.4v-60.7h1.36v60.7zM1169.4 1271.4v-52.6h1.36v52.6zM1171 1271.4v-34.8h1.36v34.8zM1172.59 1271.4v-60.9h1.36v60.9zM1174.19 1271.4v-66.1h1.36v66.1zM1175.78 1271.4v-70.6h1.36v70.6zM1177.38 1271.4v-79.1h1.36v79.1zM1178.98 1271.4v-98.1h1.36v98.1zM1180.57 1271.4v-122.6h1.36v122.6zM1182.17 1271.4v-132.9h1.36v132.9zM1183.77 1271.4v-146.7h1.36v146.7zM1185.36 1271.4v-163.9h1.36v163.9zM1186.96 1271.4v-144h1.36v144zM1188.56 1271.4v-115.5h1.36v115.5zM1190.15 1271.4v-89h1.36v89zM1191.75 1271.4v-70h1.36v70zM1193.34 1271.4v-63h1.36v63zM1194.94 1271.4v-72.1h1.36v72.1zM1196.54 1271.4v-73.4h1.36v73.4zM1198.13 1271.4v-74.7h1.36v74.7zM1199.73 1271.4v-75.2h1.36v75.2zM1201.33 1271.4v-69.9h1.36v69.9zM1202.92 1271.4v-71.5h1.36v71.5zM1204.52 1271.4v-64h1.36v64zM1206.11 1271.4v-64.5h1.36v64.5zM1207.71 1271.4v-62h1.36v62zM1209.31 1271.4v-71.2h1.36v71.2zM1210.9 1271.4v-65.3h1.36v65.3zM1212.5 1271.4v-60.3h1.36v60.3zM1214.1 1271.4v-61.2h1.36v61.2zM1215.69 1271.4v-61.9h1.36v61.9zM1217.29 1271.4v-64.5h1.36v64.5zM1218.89 1271.4v-55.6h1.36v55.6zM1220.48 1271.4v-62.8h1.36v62.8zM1222.08 1271.4v-73.8h1.36v73.8zM1223.67 1271.4v-93.7h1.36v93.7zM1225.27 1271.4v-92h1.36v92zM1226.87 1271.4v-91.3h1.36v91.3zM1228.46 1271.4v-100.6h1.36v100.6zM1230.06 1271.4v-110.2h1.36v110.2zM1231.66 1271.4v-102.7h1.36v102.7zM1233.25 1271.4v-105.1h1.36v105.1zM1234.85 1271.4v-116.4h1.36v116.4zM1236.45 1271.4v-117.4h1.36v117.4zM1238.04 1271.4v-120.7h1.36v120.7zM1239.64 1271.4v-119.8h1.36v119.8zM1241.23 1271.4v-135.1h1.36v135.1zM1242.83 1271.4v-132.5h1.36v132.5zM1244.43 1271.4v-124.1h1.36v124.1zM1246.02 1271.4v-119.8h1.36v119.8zM1247.62 1271.4v-105.1h1.36v105.1zM1249.22 1271.4v-114.3h1.36v114.3zM1250.81 1271.4v-109.7h1.36v109.7zM1252.41 1271.4v-110.2h1.36v110.2zM1254.01 1271.4v-108.8h1.36v108.8zM1255.6 1271.4v-100.4h1.36v100.4zM1257.2 1271.4v-91.6h1.36v91.6zM1258.79 1271.4v-98.4h1.36v98.4zM1260.39 1271.4v-91.8h1.36v91.8zM1261.99 1271.4v-90.6h1.36v90.6zM1263.58 1271.4v-87.3h1.36v87.3zM1265.18 1271.4v-84.8h1.36v84.8zM1266.78 1271.4v-74.6h1.36v74.6zM1268.37 1271.4v-91.2h1.36v91.2zM1269.97 1271.4v-92.2h1.36v92.2zM1271.56 1271.4v-99.8h1.36v99.8zM1273.16 1271.4v-106.8h1.36v106.8zM1274.76 1271.4v-99.2h1.36v99.2zM1276.35 1271.4v-92.2h1.36v92.2zM1277.95 1271.4v-98.7h1.36v98.7zM1279.55 1271.4v-101.3h1.36v101.3zM1281.14 1271.4v-107.7h1.36v107.7zM1282.74 1271.4v-109h1.36v109zM1284.34 1271.4v-99.3h1.36v99.3zM1285.93 1271.4v-108.1h1.36v108.1zM1287.53 1271.4v-100.4h1.36v100.4zM1289.12 1271.4v-107.5h1.36v107.5zM1290.72 1271.4v-105.6h1.36v105.6zM1292.32 1271.4v-103.7h1.36v103.7zM1293.91 1271.4v-103.7h1.36v103.7zM1295.51 1271.4v-94.1h1.36v94.1zM1297.11 1271.4v-84.8h1.36v84.8zM1298.7 1271.4v-72.2h1.36v72.2zM1300.3 1271.4v-73.4h1.36v73.4zM1301.9 1271.4v-100.6h1.36v100.6zM1303.49 1271.4v-126h1.36v126zM1305.09 1271.4v-146.2h1.36v146.2zM1306.68 1271.4v-165.6h1.36v165.6zM1308.28 1271.4v-164h1.36v164zM1309.88 1271.4v-166h1.36v166zM1311.47 1271.4v-152.4h1.36v152.4zM1313.07 1271.4v-144h1.36v144zM1314.67 1271.4v-135.9h1.36v135.9zM1316.26 1271.4v-130.2h1.36v130.2zM1317.86 1271.4v-120.8h1.36v120.8zM1319.45 1271.4v-114.4h1.36v114.4zM1321.05 1271.4v-105.9h1.36v105.9zM1322.65 1271.4v-112.7h1.36v112.7zM1324.24 1271.4v-110.6h1.36v110.6zM1325.84 1271.4v-118.8h1.36v118.8zM1327.44 1271.4v-118.9h1.36v118.9zM1329.03 1271.4v-110.8h1.36v110.8zM1330.63 1271.4v-127.1h1.36v127.1zM1332.23 1271.4v-120.3h1.36v120.3zM1333.82 1271.4v-127.2h1.36v127.2zM1335.42 1271.4v-143.6h1.36v143.6zM1337.01 1271.4v-151.2h1.36v151.2zM1338.61 1271.4v-161.4h1.36v161.4zM1340.21 1271.4v-177.6h1.36v177.6zM1341.8 1271.4v-164.2h1.36v164.2zM1343.4 1271.4v-162h1.36v162zM1345 1271.4v-156.4h1.36v156.4zM1346.59 1271.4v-160h1.36v160zM1348.19 1271.4v-140h1.36v140zM1349.79 1271.4v-127.2h1.36v127.2zM1351.38 1271.4v-144.1h1.36v144.1zM1352.98 1271.4v-154.1h1.36v154.1zM1354.57 1271.4v-158.8h1.36v158.8zM1356.17 1271.4v-164.7h1.36v164.7zM1357.77 1271.4v-155h1.36v155zM1359.36 1271.4v-168.2h1.36v168.2zM1360.96 1271.4v-160.3h1.36v160.3zM1362.56 1271.4v-147.8h1.36v147.8zM1364.15 1271.4v-142.2h1.36v142.2zM1365.75 1271.4v-124h1.36v124zM1367.35 1271.4v-94.6h1.36v94.6zM1368.94 1271.4v-104.3h1.36v104.3zM1370.54 1271.4v-94.1h1.36v94.1zM1372.13 1271.4v-89.5h1.36v89.5zM1373.73 1271.4v-112.8h1.36v112.8zM1375.33 1271.4v-118.2h1.36v118.2zM1376.92 1271.4v-127.9h1.36v127.9zM1378.52 1271.4v-122.9h1.36v122.9zM1380.12 1271.4v-118.2h1.36v118.2zM1381.71 1271.4v-113.3h1.36v113.3zM1383.31 1271.4v-104.8h1.36v104.8zM1384.9 1271.4v-96.2h1.36v96.2zM1386.5 1271.4v-95.9h1.36v95.9zM1388.1 1271.4v-82.5h1.36v82.5zM1389.69 1271.4v-68.7h1.36v68.7zM1391.29 1271.4v-84.2h1.36v84.2zM1392.89 1271.4v-86.3h1.36v86.3zM1394.48 1271.4v-92.3h1.36v92.3zM1396.08 1271.4v-95.9h1.36v95.9zM1397.68 1271.4v-102.4h1.36v102.4zM1399.27 1271.4v-104.7h1.36v104.7zM1400.87 1271.4v-109.8h1.36v109.8zM1402.46 1271.4v-104.2h1.36v104.2zM1404.06 1271.4v-101.4h1.36v101.4zM1405.66 1271.4v-98.1h1.36v98.1zM1407.25 1271.4v-87.1h1.36v87.1zM1408.85 1271.4v-90.4h1.36v90.4zM1410.45 1271.4v-93.1h1.36v93.1zM1412.04 1271.4v-89.3h1.36v89.3zM1413.64 1271.4v-101.4h1.36v101.4zM1415.24 1271.4v-121.3h1.36v121.3zM1416.83 1271.4v-120.8h1.36v120.8zM1418.43 1271.4v-119h1.36v119zM1420.02 1271.4v-122.3h1.36v122.3zM1421.62 1271.4v-134h1.36v134zM1423.22 1271.4v-139.9h1.36v139.9zM1424.81 1271.4v-141.6h1.36v141.6zM1426.41 1271.4v-149.4h1.36v149.4zM1428.01 1271.4v-140.9h1.36v140.9zM1429.6 1271.4v-160.5h1.36v160.5zM1431.2 1271.4v-159.5h1.36v159.5zM1432.79 1271.4v-167.1h1.36v167.1zM1434.39 1271.4v-159h1.36v159zM1435.99 1271.4v-141.9h1.36v141.9zM1437.58 1271.4v-118.6h1.36v118.6zM1439.18 1271.4v-104h1.36v104zM1440.78 1271.4v-88.5h1.36v88.5zM1442.37 1271.4v-80.6h1.36v80.6zM1443.97 1271.4v-62.3h1.36v62.3zM1445.57 1271.4v-71.5h1.36v71.5zM1447.16 1271.4v-73.7h1.36v73.7zM1448.76 1271.4v-69.1h1.36v69.1zM1450.35 1271.4v-68.9h1.36v68.9zM1451.95 1271.4v-70.4h1.36v70.4zM1453.55 1271.4v-62.7h1.36v62.7zM1455.14 1271.4v-65.7h1.36v65.7zM1456.74 1271.4v-74.1h1.36v74.1zM1458.34 1271.4v-81.9h1.36v81.9zM1459.93 1271.4v-83.9h1.36v83.9zM1461.53 1271.4v-80.7h1.36v80.7zM1463.13 1271.4v-91.6h1.36v91.6zM1464.72 1271.4v-103.3h1.36v103.3zM1466.32 1271.4v-106.8h1.36v106.8zM1467.91 1271.4v-107.2h1.36v107.2zM1469.51 1271.4v-105.9h1.36v105.9zM1471.11 1271.4v-108.5h1.36v108.5zM1472.7 1271.4v-98.8h1.36v98.8zM1474.3 1271.4v-91.2h1.36v91.2zM1475.9 1271.4v-79.8h1.36v79.8zM1477.49 1271.4v-97.3h1.36v97.3zM1479.09 1271.4v-89h1.36v89zM1480.69 1271.4v-88.1h1.36v88.1zM1482.28 1271.4v-77.1h1.36v77.1zM1483.88 1271.4v-63.9h1.36v63.9zM1485.47 1271.4v-69.2h1.36v69.2zM1487.07 1271.4v-69h1.36v69zM1488.67 1271.4v-78.8h1.36v78.8zM1490.26 1271.4v-67.5h1.36v67.5zM1491.86 1271.4v-56.9h1.36v56.9zM1493.46 1271.4v-55.3h1.36v55.3zM1495.05 1271.4v-55.1h1.36v55.1zM1496.65 1271.4v-60.1h1.36v60.1zM1498.24 1271.4v-54.2h1.36v54.2zM1499.84 1271.4v-50.8h1.36v50.8zM1501.44 1271.4v-60.9h1.36v60.9zM1503.03 1271.4v-66.7h1.36v66.7zM1504.63 1271.4v-71.3h1.36v71.3zM1506.23 1271.4v-67.6h1.36v67.6zM1507.82 1271.4v-79.3h1.36v79.3zM1509.42 1271.4v-81.8h1.36v81.8zM1511.02 1271.4v-65.5h1.36v65.5zM1512.61 1271.4v-83.3h1.36v83.3zM1514.21 1271.4v-90.1h1.36v90.1zM1515.8 1271.4v-83.7h1.36v83.7zM1517.4 1271.4v-80h1.36v80zM1519 1271.4v-80.3h1.36v80.3zM1520.59 1271.4v-86.9h1.36v86.9zM1522.19 1271.4v-74.5h1.36v74.5zM1523.79 1271.4v-78.2h1.36v78.2zM1525.38 1271.4v-82.6h1.36v82.6zM1526.98 1271.4v-84.5h1.36v84.5zM1528.58 1271.4v-79.8h1.36v79.8zM1530.17 1271.4v-83.4h1.36v83.4zM1531.77 1271.4v-81.9h1.36v81.9zM1533.36 1271.4v-84.2h1.36v84.2zM1534.96 1271.4v-83.3h1.36v83.3zM1536.56 1271.4v-78h1.36v78zM1538.15 1271.4v-67.2h1.36v67.2zM1539.75 1271.4v-79.9h1.36v79.9zM1541.35 1271.4v-77h1.36v77zM1542.94 1271.4v-79.4h1.36v79.4zM1544.54 1271.4v-82.6h1.36v82.6zM1546.13 1271.4v-74.2h1.36v74.2zM1547.73 1271.4v-78h1.36v78zM1549.33 1271.4v-72.2h1.36v72.2zM1550.92 1271.4v-81.4h1.36v81.4zM1552.52 1271.4v-86.7h1.36v86.7zM1554.12 1271.4v-82.3h1.36v82.3zM1555.71 1271.4v-69h1.36v69zM1557.31 1271.4v-52.8h1.36v52.8zM1558.91 1271.4v-72.7h1.36v72.7zM1560.5 1271.4v-89.9h1.36v89.9zM1562.1 1271.4v-112.3h1.36v112.3zM1563.69 1271.4v-116.6h1.36v116.6zM1565.29 1271.4v-136.6h1.36v136.6zM1566.89 1271.4v-110.4h1.36v110.4zM1568.48 1271.4v-121.3h1.36v121.3zM1570.08 1271.4v-106.3h1.36v106.3zM1571.68 1271.4v-92.6h1.36v92.6zM1573.27 1271.4v-88.2h1.36v88.2zM1574.87 1271.4v-83.6h1.36v83.6zM1576.47 1271.4v-109.6h1.36v109.6zM1578.06 1271.4v-140h1.36v140zM1579.66 1271.4v-159.6h1.36v159.6zM1581.25 1271.4v-165.2h1.36v165.2zM1582.85 1271.4v-168.7h1.36v168.7zM1584.45 1271.4v-155.8h1.36v155.8zM1586.04 1271.4v-126.6h1.36v126.6zM1587.64 1271.4v-125.7h1.36v125.7zM1589.24 1271.4v-116.3h1.36v116.3zM1590.83 1271.4v-103.6h1.36v103.6zM1592.43 1271.4v-96.4h1.36v96.4zM1594.03 1271.4v-94.5h1.36v94.5zM1595.62 1271.4v-84h1.36v84zM1597.22 1271.4v-78.9h1.36v78.9zM1598.81 1271.4v-84.1h1.36v84.1zM1600.41 1271.4v-77h1.36v77zM1602.01 1271.4v-77.6h1.36v77.6zM1603.6 1271.4v-91.3h1.36v91.3zM1605.2 1271.4v-87.7h1.36v87.7zM1606.8 1271.4v-83.8h1.36v83.8zM1608.39 1271.4v-91.4h1.36v91.4zM1609.99 1271.4v-97.5h1.36v97.5zM1611.58 1271.4v-94.4h1.36v94.4zM1613.18 1271.4v-82.4h1.36v82.4zM1614.78 1271.4v-81.6h1.36v81.6zM1616.37 1271.4v-78.6h1.36v78.6zM1617.97 1271.4v-68.2h1.36v68.2zM1619.57 1271.4v-69h1.36v69zM1621.16 1271.4v-65.7h1.36v65.7zM1622.76 1271.4v-61.3h1.36v61.3zM1624.36 1271.4v-59.9h1.36v59.9zM1625.95 1271.4v-61.3h1.36v61.3zM1627.55 1271.4v-43.6h1.36v43.6zM1629.14 1271.4v-56.2h1.36v56.2zM1630.74 1271.4v-63.3h1.36v63.3zM1632.34 1271.4v-76.7h1.36v76.7zM1633.93 1271.4v-79.3h1.36v79.3zM1635.53 1271.4v-88.3h1.36v88.3zM1637.13 1271.4v-95.8h1.36v95.8zM1638.72 1271.4v-99.8h1.36v99.8zM1640.32 1271.4v-108.9h1.36v108.9zM1641.92 1271.4v-97.6h1.36v97.6zM1643.51 1271.4v-106h1.36v106zM1645.11 1271.4v-105.3h1.36v105.3zM1646.7 1271.4v-118.4h1.36v118.4zM1648.3 1271.4v-119.3h1.36v119.3zM1649.9 1271.4v-93.7h1.36v93.7zM1651.49 1271.4v-87.4h1.36v87.4zM1653.09 1271.4v-86.5h1.36v86.5zM1654.69 1271.4v-78.1h1.36v78.1zM1656.28 1271.4v-67.3h1.36v67.3zM1657.88 1271.4v-53.3h1.36v53.3zM1659.47 1271.4v-51.7h1.36v51.7zM1661.07 1271.4v-53.7h1.36v53.7zM1662.67 1271.4v-51.8h1.36v51.8zM1664.26 1271.4v-56h1.36v56zM1665.86 1271.4v-42.6h1.36v42.6zM1667.46 1271.4v-55.5h1.36v55.5zM1669.05 1271.4v-52h1.36v52zM1670.65 1271.4v-64.2h1.36v64.2zM1672.25 1271.4v-62.6h1.36v62.6zM1673.84 1271.4v-63h1.36v63zM1675.44 1271.4v-72h1.36v72zM1677.03 1271.4v-69.9h1.36v69.9zM1678.63 1271.4v-72.5h1.36v72.5zM1680.23 1271.4v-75.5h1.36v75.5zM1681.82 1271.4v-88.7h1.36v88.7zM1683.42 1271.4v-98.1h1.36v98.1zM1685.02 1271.4v-105.7h1.36v105.7zM1686.61 1271.4v-106.1h1.36v106.1zM1688.21 1271.4v-116.2h1.36v116.2zM1689.81 1271.4v-107.9h1.36v107.9zM1691.4 1271.4v-102.8h1.36v102.8zM1693 1271.4v-102.2h1.36v102.2zM1694.59 1271.4v-100h1.36v100zM1696.19 1271.4v-88.9h1.36v88.9zM1697.79 1271.4v-84.3h1.36v84.3zM1699.38 1271.4v-81.8h1.36v81.8zM1700.98 1271.4v-79.9h1.36v79.9zM1702.58 1271.4v-73.5h1.36v73.5zM1704.17 1271.4v-79.3h1.36v79.3zM1705.77 1271.4v-71h1.36v71zM1707.37 1271.4v-71.1h1.36v71.1zM1708.96 1271.4v-72.3h1.36v72.3zM1710.56 1271.4v-92.6h1.36v92.6zM1712.15 1271.4v-107.9h1.36v107.9zM1713.75 1271.4v-120.2h1.36v120.2zM1715.35 1271.4v-146.1h1.36v146.1zM1716.94 1271.4v-155h1.36v155zM1718.54 1271.4v-174.1h1.36v174.1zM1720.14 1271.4v-180.1h1.36v180.1zM1721.73 1271.4v-181.7h1.36v181.7zM1723.33 1271.4v-193h1.36v193zM1724.92 1271.4v-199.4h1.36v199.4zM1726.52 1271.4v-163.6h1.36v163.6zM1728.12 1271.4v-128.8h1.36v128.8zM1729.71 1271.4v-91.7h1.36v91.7zM1731.31 1271.4v-54.6h1.36v54.6zM1732.91 1271.4v-120.1h1.36v120.1zM1734.5 1271.4v-172.1h1.36v172.1zM1736.1 1271.4v-243.2h1.36v243.2zM1737.7 1271.4v-221.5h1.36v221.5zM1739.29 1271.4v-198.8h1.36v198.8zM1740.89 1271.4v-173.3h1.36v173.3zM1742.48 1271.4v-165h1.36v165zM1744.08 1271.4v-141.4h1.36v141.4zM1745.68 1271.4v-124.2h1.36v124.2zM1747.27 1271.4v-105.8h1.36v105.8zM1748.87 1271.4v-93.2h1.36v93.2zM1750.47 1271.4v-84.9h1.36v84.9zM1752.06 1271.4v-92.7h1.36v92.7zM1753.66 1271.4v-83.3h1.36v83.3zM1755.26 1271.4v-90.7h1.36v90.7zM1756.85 1271.4v-84h1.36v84zM1758.45 1271.4v-92.6h1.36v92.6zM1760.04 1271.4v-92.2h1.36v92.2zM1761.64 1271.4v-97.9h1.36v97.9zM1763.24 1271.4v-110.1h1.36v110.1zM1764.83 1271.4v-111.4h1.36v111.4zM1766.43 1271.4v-124.2h1.36v124.2zM1768.03 1271.4v-130.1h1.36v130.1zM1769.62 1271.4v-133.3h1.36v133.3zM1771.22 1271.4v-149.9h1.36v149.9zM1772.81 1271.4v-163.3h1.36v163.3zM1774.41 1271.4v-183.8h1.36v183.8zM1776.01 1271.4v-197h1.36v197zM1777.6 1271.4v-216.6h1.36v216.6zM1779.2 1271.4v-183.6h1.36v183.6zM1780.8 1271.4v-174.7h1.36v174.7zM1782.39 1271.4v-165.2h1.36v165.2zM1783.99 1271.4v-143.3h1.36v143.3zM1785.59 1271.4v-122h1.36v122zM1787.18 1271.4v-124.8h1.36v124.8zM1788.78 1271.4v-111.8h1.36v111.8zM1790.37 1271.4v-111.9h1.36v111.9zM1791.97 1271.4v-115.6h1.36v115.6zM1793.57 1271.4v-100.4h1.36v100.4zM1795.16 1271.4v-84.2h1.36v84.2zM1796.76 1271.4v-82.1h1.36v82.1zM1798.36 1271.4v-83.5h1.36v83.5zM1799.95 1271.4v-87.8h1.36v87.8zM1801.55 1271.4v-77.2h1.36v77.2zM1803.15 1271.4v-75.6h1.36v75.6zM1804.74 1271.4v-84h1.36v84zM1806.34 1271.4v-75.4h1.36v75.4zM1807.93 1271.4v-81.4h1.36v81.4zM1809.53 1271.4v-78.6h1.36v78.6zM1811.13 1271.4v-78.5h1.36v78.5zM1812.72 1271.4v-83.8h1.36v83.8zM1814.32 1271.4v-80.5h1.36v80.5zM1815.92 1271.4v-96.2h1.36v96.2zM1817.51 1271.4v-93.8h1.36v93.8zM1819.11 1271.4v-101.7h1.36v101.7zM1820.71 1271.4v-111.3h1.36v111.3zM1822.3 1271.4v-109.2h1.36v109.2zM1823.9 1271.4v-100.6h1.36v100.6zM1825.49 1271.4v-116.2h1.36v116.2zM1827.09 1271.4v-124.2h1.36v124.2zM1828.69 1271.4v-120.7h1.36v120.7zM1830.28 1271.4v-125.3h1.36v125.3zM1831.88 1271.4v-135h1.36v135zM1833.48 1271.4v-136.2h1.36v136.2zM1835.07 1271.4v-163.1h1.36v163.1zM1836.67 1271.4v-148.5h1.36v148.5zM1838.26 1271.4v-180.9h1.36v180.9zM1839.86 1271.4v-201.2h1.36v201.2zM1841.46 1271.4v-201.3h1.36v201.3zM1843.05 1271.4v-197.9h1.36v197.9zM1844.65 1271.4v-192.8h1.36v192.8zM1846.25 1271.4v-179.1h1.36v179.1zM1847.84 1271.4v-182.1h1.36v182.1zM1849.44 1271.4v-157.7h1.36v157.7zM1851.04 1271.4v-156.7h1.36v156.7zM1852.63 1271.4v-145.3h1.36v145.3zM1854.23 1271.4v-146.7h1.36v146.7zM1855.82 1271.4v-151.2h1.36v151.2zM1857.42 1271.4v-149.8h1.36v149.8zM1859.02 1271.4v-155.7h1.36v155.7zM1860.61 1271.4v-167.3h1.36v167.3zM1862.21 1271.4v-169.5h1.36v169.5zM1863.81 1271.4v-151.8h1.36v151.8zM1865.4 1271.4v-186.4h1.36v186.4zM1867 1271.4v-190.3h1.36v190.3zM1868.6 1271.4v-175.2h1.36v175.2zM1870.19 1271.4v-168.7h1.36v168.7zM1871.79 1271.4v-173.6h1.36v173.6zM1873.38 1271.4v-144.9h1.36v144.9zM1874.98 1271.4v-119.8h1.36v119.8zM1876.58 1271.4v-96.6h1.36v96.6zM1878.17 1271.4v-93.2h1.36v93.2zM1879.77 1271.4v-92.9h1.36v92.9zM1881.37 1271.4v-90.6h1.36v90.6zM1882.96 1271.4v-94.8h1.36v94.8zM1884.56 1271.4v-88.1h1.36v88.1zM1886.15 1271.4v-85h1.36v85zM1887.75 1271.4v-80.2h1.36v80.2zM1889.35 1271.4v-83.5h1.36v83.5zM1890.94 1271.4v-81.1h1.36v81.1zM1892.54 1271.4v-86.7h1.36v86.7zM1894.14 1271.4v-94.6h1.36v94.6zM1895.73 1271.4v-93.6h1.36v93.6zM1897.33 1271.4v-95.4h1.36v95.4zM1898.93 1271.4v-96.1h1.36v96.1zM1900.52 1271.4v-97.1h1.36v97.1zM1902.12 1271.4v-99.5h1.36v99.5zM1903.71 1271.4v-102.9h1.36v102.9zM1905.31 1271.4v-110.9h1.36v110.9zM1906.91 1271.4v-107.3h1.36v107.3zM1908.5 1271.4v-121.5h1.36v121.5zM1910.1 1271.4v-115.7h1.36v115.7zM1911.7 1271.4v-102.9h1.36v102.9zM1913.29 1271.4v-95.7h1.36v95.7zM1914.89 1271.4v-87.4h1.36v87.4zM1916.49 1271.4v-90.9h1.36v90.9zM1918.08 1271.4v-120.7h1.36v120.7zM1919.68 1271.4v-161.1h1.36v161.1zM1921.27 1271.4v-183.9h1.36v183.9zM1922.87 1271.4v-208.5h1.36v208.5zM1924.47 1271.4v-245.8h1.36v245.8zM1926.06 1271.4v-206.4h1.36v206.4zM1927.66 1271.4v-181.4h1.36v181.4zM1929.26 1271.4v-153h1.36v153zM1930.85 1271.4v-144.9h1.36v144.9zM1932.45 1271.4v-132h1.36v132zM1934.05 1271.4v-132.7h1.36v132.7zM1935.64 1271.4v-142.7h1.36v142.7zM1937.24 1271.4v-133.9h1.36v133.9zM1938.83 1271.4v-129.3h1.36v129.3zM1940.43 1271.4v-135.9h1.36v135.9zM1942.03 1271.4v-144.7h1.36v144.7zM1943.62 1271.4v-140.4h1.36v140.4zM1945.22 1271.4v-135.4h1.36v135.4zM1946.82 1271.4v-137.5h1.36v137.5zM1948.41 1271.4v-139.8h1.36v139.8zM1950.01 1271.4v-135.2h1.36v135.2zM1951.6 1271.4v-127.7h1.36v127.7zM1953.2 1271.4v-141.9h1.36v141.9zM1954.8 1271.4v-140.1h1.36v140.1zM1956.39 1271.4v-146.3h1.36v146.3zM1957.99 1271.4v-151.3h1.36v151.3zM1959.59 1271.4v-160.6h1.36v160.6zM1961.18 1271.4v-139.5h1.36v139.5zM1962.78 1271.4v-134.8h1.36v134.8zM1964.38 1271.4v-129.1h1.36v129.1zM1965.97 1271.4v-111.3h1.36v111.3zM1967.57 1271.4v-122.4h1.36v122.4zM1969.16 1271.4v-108.3h1.36v108.3zM1970.76 1271.4v-99.7h1.36v99.7zM1972.36 1271.4v-90.3h1.36v90.3zM1973.95 1271.4v-89.2h1.36v89.2zM1975.55 1271.4v-79.2h1.36v79.2zM1977.15 1271.4v-84h1.36v84zM1978.74 1271.4v-73.2h1.36v73.2zM1980.34 1271.4v-77.9h1.36v77.9zM1981.94 1271.4v-83.4h1.36v83.4zM1983.53 1271.4v-88.1h1.36v88.1zM1985.13 1271.4v-85.5h1.36v85.5zM1986.72 1271.4v-88.3h1.36v88.3zM1988.32 1271.4v-83.4h1.36v83.4zM1989.92 1271.4v-90.3h1.36v90.3zM1991.51 1271.4v-105.3h1.36v105.3zM1993.11 1271.4v-91.2h1.36v91.2zM1994.71 1271.4v-101.4h1.36v101.4zM1996.3 1271.4v-93.5h1.36v93.5zM1997.9 1271.4v-92.6h1.36v92.6zM1999.49 1271.4v-105.4h1.36v105.4zM2001.09 1271.4v-106.4h1.36v106.4zM2002.69 1271.4v-104.5h1.36v104.5zM2004.28 1271.4v-100.3h1.36v100.3zM2005.88 1271.4v-89.3h1.36v89.3zM2007.48 1271.4v-94h1.36v94zM2009.07 1271.4v-70.4h1.36v70.4zM2010.67 1271.4v-84.6h1.36v84.6zM2012.27 1271.4v-83.8h1.36v83.8zM2013.86 1271.4v-81.3h1.36v81.3zM2015.46 1271.4v-76.7h1.36v76.7zM2017.05 1271.4v-65.2h1.36v65.2zM2018.65 1271.4v-67h1.36v67zM2020.25 1271.4v-64.5h1.36v64.5zM2021.84 1271.4v-74.7h1.36v74.7zM2023.44 1271.4v-77.6h1.36v77.6zM2025.04 1271.4v-72.4h1.36v72.4zM2026.63 1271.4v-74.6h1.36v74.6zM2028.23 1271.4v-81h1.36v81zM2029.83 1271.4v-74.1h1.36v74.1zM2031.42 1271.4v-65.2h1.36v65.2zM2033.02 1271.4v-83.2h1.36v83.2zM2034.61 1271.4v-85.5h1.36v85.5zM2036.21 1271.4v-70.1h1.36v70.1zM2037.81 1271.4v-88.7h1.36v88.7zM2039.4 1271.4v-97.2h1.36v97.2zM2041 1271.4v-105.3h1.36v105.3zM2042.6 1271.4v-103.2h1.36v103.2zM2044.19 1271.4v-91.3h1.36v91.3zM2045.79 1271.4v-83.2h1.36v83.2zM2047.39 1271.4v-74.2h1.36v74.2zM2048.98 1271.4v-73.4h1.36v73.4zM2050.58 1271.4v-65h1.36v65zM2052.17 1271.4v-58.7h1.36v58.7zM2053.77 1271.4v-76.2h1.36v76.2zM2055.37 1271.4v-70.4h1.36v70.4zM2056.96 1271.4v-65.8h1.36v65.8zM2058.56 1271.4v-71.5h1.36v71.5zM2060.16 1271.4v-72.7h1.36v72.7zM2061.75 1271.4v-77.7h1.36v77.7zM2063.35 1271.4v-86.2h1.36v86.2zM2064.94 1271.4v-77.1h1.36v77.1zM2066.54 1271.4v-64.8h1.36v64.8zM2068.14 1271.4v-60.7h1.36v60.7zM2069.73 1271.4v-69.4h1.36v69.4zM2071.33 1271.4v-65.1h1.36v65.1zM2072.93 1271.4v-66.7h1.36v66.7zM2074.52 1271.4v-72.6h1.36v72.6zM2076.12 1271.4v-81.1h1.36v81.1zM2077.72 1271.4v-94.6h1.36v94.6zM2079.31 1271.4v-108.5h1.36v108.5zM2080.91 1271.4v-119.8h1.36v119.8zM2082.5 1271.4v-130.7h1.36v130.7zM2084.1 1271.4v-142h1.36v142zM2085.7 1271.4v-120.4h1.36v120.4zM2087.29 1271.4v-91.4h1.36v91.4zM2088.89 1271.4v-79.4h1.36v79.4zM2090.49 1271.4v-81.7h1.36v81.7zM2092.08 1271.4v-81.8h1.36v81.8zM2093.68 1271.4v-89.9h1.36v89.9zM2095.28 1271.4v-86.5h1.36v86.5zM2096.87 1271.4v-76.5h1.36v76.5zM2098.47 1271.4v-101h1.36v101zM2100.06 1271.4v-94.1h1.36v94.1zM2101.66 1271.4v-83.7h1.36v83.7zM2103.26 1271.4v-79.2h1.36v79.2zM2104.85 1271.4v-71.9h1.36v71.9zM2106.45 1271.4v-50.1h1.36v50.1zM2108.05 1271.4v-61.8h1.36v61.8zM2109.64 1271.4v-78.2h1.36v78.2zM2111.24 1271.4v-88.9h1.36v88.9zM2112.83 1271.4v-90.5h1.36v90.5zM2114.43 1271.4v-91.1h1.36v91.1zM2116.03 1271.4v-90.1h1.36v90.1zM2117.62 1271.4v-75.8h1.36v75.8zM2119.22 1271.4v-67.5h1.36v67.5zM2120.82 1271.4v-76.1h1.36v76.1zM2122.41 1271.4v-58.9h1.36v58.9zM2124.01 1271.4v-48.6h1.36v48.6zM2125.61 1271.4v-50.3h1.36v50.3zM2127.2 1271.4v-45.9h1.36v45.9zM2128.8 1271.4v-35.8h1.36v35.8zM2130.39 1271.4v-51.6h1.36v51.6zM2131.99 1271.4v-55.2h1.36v55.2zM2133.59 1271.4v-62.4h1.36v62.4zM2135.18 1271.4v-77.8h1.36v77.8zM2136.78 1271.4v-85.2h1.36v85.2zM2138.38 1271.4v-82.8h1.36v82.8zM2139.97 1271.4v-90.4h1.36v90.4zM2141.57 1271.4v-94.6h1.36v94.6zM2143.17 1271.4v-111h1.36v111zM2144.76 1271.4v-88.4h1.36v88.4zM2146.36 1271.4v-83.9h1.36v83.9zM2147.95 1271.4v-65.6h1.36v65.6zM2149.55 1271.4v-52.7h1.36v52.7zM2151.15 1271.4v-45h1.36v45zM2152.74 1271.4v-42.6h1.36v42.6zM2154.34 1271.4v-46.7h1.36v46.7zM2155.94 1271.4v-44.1h1.36v44.1zM2157.53 1271.4v-41.3h1.36v41.3zM2159.13 1271.4v-44.4h1.36v44.4zM2160.73 1271.4v-40.3h1.36v40.3zM2162.32 1271.4v-56.5h1.36v56.5zM2163.92 1271.4v-61.7h1.36v61.7zM2165.51 1271.4v-59.2h1.36v59.2zM2167.11 1271.4v-63.8h1.36v63.8zM2168.71 1271.4v-67.3h1.36v67.3zM2170.3 1271.4v-61.1h1.36v61.1zM2171.9 1271.4v-53.6h1.36v53.6zM2173.5 1271.4v-56.6h1.36v56.6zM2175.09 1271.4v-60.1h1.36v60.1zM2176.69 1271.4v-76.7h1.36v76.7zM2178.28 1271.4v-70h1.36v70zM2179.88 1271.4v-81.5h1.36v81.5zM2181.48 1271.4v-82.9h1.36v82.9zM2183.07 1271.4v-85.1h1.36v85.1zM2184.67 1271.4v-78.3h1.36v78.3zM2186.27 1271.4v-68.8h1.36v68.8zM2187.86 1271.4v-64.6h1.36v64.6zM2189.46 1271.4v-56h1.36v56zM2191.06 1271.4v-45.3h1.36v45.3zM2192.65 1271.4v-56.8h1.36v56.8zM2194.25 1271.4v-49.6h1.36v49.6zM2195.84 1271.4v-69.9h1.36v69.9zM2197.44 1271.4v-56.6h1.36v56.6zM2199.04 1271.4v-65.5h1.36v65.5zM2200.63 1271.4v-63h1.36v63zM2202.23 1271.4v-76.4h1.36v76.4zM2203.83 1271.4v-78.5h1.36v78.5zM2205.42 1271.4v-105h1.36v105zM2207.02 1271.4v-121.5h1.36v121.5zM2208.62 1271.4v-120.6h1.36v120.6zM2210.21 1271.4v-132h1.36v132zM2211.81 1271.4v-125.6h1.36v125.6zM2213.4 1271.4v-130.6h1.36v130.6zM2215 1271.4v-127.3h1.36v127.3zM2216.6 1271.4v-113.8h1.36v113.8zM2218.19 1271.4v-120.9h1.36v120.9zM2219.79 1271.4v-120.1h1.36v120.1zM2221.39 1271.4v-118.8h1.36v118.8zM2222.98 1271.4v-105.1h1.36v105.1zM2224.58 1271.4v-95h1.36v95zM2226.17 1271.4v-80.2h1.36v80.2zM2227.77 1271.4v-86.2h1.36v86.2zM2229.37 1271.4v-93.6h1.36v93.6zM2230.96 1271.4v-89.7h1.36v89.7zM2232.56 1271.4v-91.7h1.36v91.7zM2234.16 1271.4v-91.2h1.36v91.2zM2235.75 1271.4v-109.8h1.36v109.8zM2237.35 1271.4v-124.9h1.36v124.9zM2238.95 1271.4v-111.5h1.36v111.5zM2240.54 1271.4v-104.6h1.36v104.6zM2242.14 1271.4v-92.2h1.36v92.2zM2243.73 1271.4v-77.3h1.36v77.3zM2245.33 1271.4v-85.3h1.36v85.3zM2246.93 1271.4v-76.7h1.36v76.7zM2248.52 1271.4v-83.4h1.36v83.4zM2250.12 1271.4v-89.6h1.36v89.6zM2251.72 1271.4v-95.4h1.36v95.4zM2253.31 1271.4v-96h1.36v96zM2254.91 1271.4v-87.7h1.36v87.7zM2256.51 1271.4v-66.2h1.36v66.2zM2258.1 1271.4v-74.7h1.36v74.7zM2259.7 1271.4v-75.5h1.36v75.5zM2261.29 1271.4v-66.7h1.36v66.7zM2262.89 1271.4v-57.8h1.36v57.8zM2264.49 1271.4v-38h1.36v38zM2266.08 1271.4v-62.3h1.36v62.3zM2267.68 1271.4v-60.4h1.36v60.4zM2269.28 1271.4v-66.4h1.36v66.4zM2270.87 1271.4v-70.8h1.36v70.8zM2272.47 1271.4v-84.6h1.36v84.6zM2274.07 1271.4v-92.4h1.36v92.4zM2275.66 1271.4v-102.9h1.36v102.9zM2277.26 1271.4v-84.6h1.36v84.6zM2278.85 1271.4v-95.5h1.36v95.5zM2280.45 1271.4v-105.2h1.36v105.2zM2282.05 1271.4v-101.9h1.36v101.9zM2283.64 1271.4v-103.5h1.36v103.5zM2285.24 1271.4v-114.3h1.36v114.3zM2286.84 1271.4v-106h1.36v106zM2288.43 1271.4v-101.9h1.36v101.9zM2290.03 1271.4v-103.2h1.36v103.2zM2291.62 1271.4v-105.3h1.36v105.3zM2293.22 1271.4v-94.5h1.36v94.5zM2294.82 1271.4v-75.4h1.36v75.4zM2296.41 1271.4v-66.7h1.36v66.7zM2298.01 1271.4v-64.2h1.36v64.2zM2299.61 1271.4v-54h1.36v54zM2301.2 1271.4v-45.6h1.36v45.6zM2302.8 1271.4v-58.3h1.36v58.3zM2304.4 1271.4v-64.2h1.36v64.2zM2305.99 1271.4v-59.8h1.36v59.8zM2307.59 1271.4v-73.3h1.36v73.3zM2309.18 1271.4v-84.3h1.36v84.3zM2310.78 1271.4v-82.6h1.36v82.6zM2312.38 1271.4v-69.1h1.36v69.1zM2313.97 1271.4v-72.6h1.36v72.6zM2315.57 1271.4v-73.8h1.36v73.8zM2317.17 1271.4v-70.5h1.36v70.5zM2318.76 1271.4v-48.7h1.36v48.7zM2320.36 1271.4v-63.3h1.36v63.3zM2321.96 1271.4v-54.7h1.36v54.7zM2323.55 1271.4v-69.7h1.36v69.7zM2325.15 1271.4v-78.7h1.36v78.7zM2326.74 1271.4v-83.4h1.36v83.4zM2328.34 1271.4v-98h1.36v98zM2329.94 1271.4v-113.4h1.36v113.4zM2331.53 1271.4v-142.5h1.36v142.5zM2333.13 1271.4v-157h1.36v157zM2334.73 1271.4v-144.7h1.36v144.7zM2336.32 1271.4v-155.6h1.36v155.6zM2337.92 1271.4v-134.4h1.36v134.4zM2339.51 1271.4v-122.7h1.36v122.7zM2341.11 1271.4v-96.4h1.36v96.4zM2342.71 1271.4v-92.7h1.36v92.7zM2344.3 1271.4v-86.9h1.36v86.9zM2345.9 1271.4v-83.1h1.36v83.1zM2347.5 1271.4v-71.5h1.36v71.5zM2349.09 1271.4v-62.3h1.36v62.3zM2350.69 1271.4v-62.9h1.36v62.9zM2352.29 1271.4v-50.7h1.36v50.7zM2353.88 1271.4v-52.3h1.36v52.3zM2355.48 1271.4v-63.9h1.36v63.9zM2357.07 1271.4v-62.6h1.36v62.6zM2358.67 1271.4v-68.9h1.36v68.9zM2360.27 1271.4v-62h1.36v62zM2361.86 1271.4v-86.6h1.36v86.6zM2363.46 1271.4v-87.7h1.36v87.7zM2365.06 1271.4v-85.6h1.36v85.6zM2366.65 1271.4v-109.4h1.36v109.4zM2368.25 1271.4v-112.2h1.36v112.2zM2369.85 1271.4v-126h1.36v126zM2371.44 1271.4v-135.1h1.36v135.1zM2373.04 1271.4v-129.1h1.36v129.1zM2374.63 1271.4v-135.7h1.36v135.7zM2376.23 1271.4v-135.6h1.36v135.6zM2377.83 1271.4v-134.7h1.36v134.7zM2379.42 1271.4v-158.6h1.36v158.6z" fill="#ff7f0e"/><rect x="114.1" y="698.9" width="2266.8" height="572.5" fill="none" stroke="#000" stroke-width="2.1"/><path d="M106.8 1271.4H114.1M106.8 1182.85H114.1M106.8 1094.3H114.1M106.8 1005.75H114.1M106.8 917.2H114.1M106.8 828.65H114.1M106.8 740.1H114.1M114.1 1271.4V1281.9M340.78 1271.4V1281.9M567.46 1271.4V1281.9M794.14 1271.4V1281.9M1020.82 1271.4V1281.9M1247.5 1271.4V1281.9M1474.18 1271.4V1281.9M1700.86 1271.4V1281.9M1927.54 1271.4V1281.9M2154.22 1271.4V1281.9M2380.9 1271.4V1281.9" stroke="#000" stroke-width="2.1"/><g font-family="DejaVu Sans, sans-serif" font-size="29.2"><text x="94" y="1283.4" text-anchor="end">0.0</text><text x="94" y="1194.85" text-anchor="end">0.1</text><text x="94" y="1106.3" text-anchor="end">0.2</text><text x="94" y="1017.75" text-anchor="end">0.3</text><text x="94" y="929.2" text-anchor="end">0.4</text><text x="94" y="840.65" text-anchor="end">0.5</text><text x="94" y="752.1" text-anchor="end">0.6</text><text x="114.1" y="1315.8" text-anchor="middle">Jan-2017</text><text x="340.78" y="1315.8" text-anchor="middle">May-2017</text><text x="567.46" y="1315.8" text-anchor="middle">Oct-2017</text><text x="794.14" y="1315.8" text-anchor="middle">Feb-2018</text><text x="1020.82" y="1315.8" text-anchor="middle">Jun-2018</text><text x="1247.5" y="1315.8" text-anchor="middle">Nov-2018</text><text x="1474.18" y="1315.8" text-anchor="middle">Mar-2020</text><text x="1700.86" y="1315.8" text-anchor="middle">Sep-2020</text><text x="1927.54" y="1315.8" text-anchor="middle">Feb-2021</text><text x="2154.22" y="1315.8" text-anchor="middle">Jul-2021</text><text x="2380.9" y="1315.8" text-anchor="middle">Dec-2021</text><text x="1247.3" y="1356.6" text-anchor="middle">Date</text><text transform="translate(27.2 986.3) rotate(-90)" text-anchor="middle">mean Speed(m/s)</text></g><text x="128.5" y="745.7" font-family="Liberation Serif, serif" font-weight="bold" font-size="43">(c)</text><rect x="2064.6" y="709.5" width="304.4" height="76.5" rx="7" fill="#fff" fill-opacity="0.8" stroke="#d6d6d6" stroke-width="1.7"/><rect x="2074.6" y="721" width="45.8" height="16.2" fill="#1f77b4"/><rect x="2074.6" y="755.8" width="45.8" height="16.0" fill="#ff7f0e"/><g font-family="DejaVu Sans, sans-serif" font-size="23"><text x="2140" y="737.5">Total</text><text x="2139.5" y="772.8">24H-Lowpass-Filter</text></g></svg></body></html>
